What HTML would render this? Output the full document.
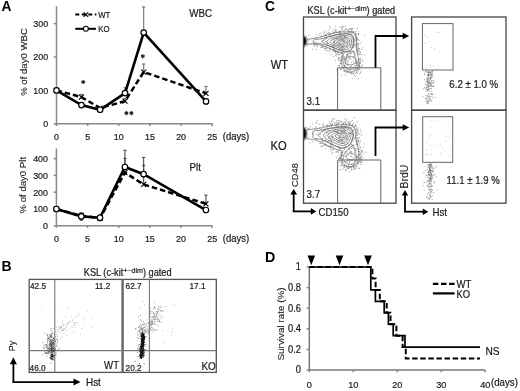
<!DOCTYPE html>
<html><head><meta charset="utf-8"><style>
html,body{margin:0;padding:0;background:#fff;}
svg{display:block;will-change:transform;}
text{font-family:"Liberation Sans",sans-serif;}
</style></head><body>
<svg width="520" height="391" viewBox="0 0 520 391" font-family="Liberation Sans, sans-serif">
<rect width="520" height="391" fill="#fff"/>
<text transform="translate(1.40 10.80)" font-size="13.8" text-anchor="start" font-weight="bold" fill="#000"  >A</text>
<line x1="56.50" y1="6.30" x2="56.50" y2="123.80" stroke="#888888" stroke-width="1.5" />
<line x1="56.50" y1="123.80" x2="212.60" y2="123.80" stroke="#888888" stroke-width="1.5" />
<line x1="53.70" y1="123.80" x2="56.50" y2="123.80" stroke="#888888" stroke-width="1.5" />
<text transform="translate(48.10 127.10) scale(1 1.08)" font-size="8.9" text-anchor="end" font-weight="normal" fill="#1a1a1a" stroke="#1a1a1a" stroke-width="0.2" >0</text>
<line x1="53.70" y1="90.40" x2="56.50" y2="90.40" stroke="#888888" stroke-width="1.5" />
<text transform="translate(48.10 93.70) scale(1 1.08)" font-size="8.9" text-anchor="end" font-weight="normal" fill="#1a1a1a" stroke="#1a1a1a" stroke-width="0.2" >100</text>
<line x1="53.70" y1="57.00" x2="56.50" y2="57.00" stroke="#888888" stroke-width="1.5" />
<text transform="translate(48.10 60.30) scale(1 1.08)" font-size="8.9" text-anchor="end" font-weight="normal" fill="#1a1a1a" stroke="#1a1a1a" stroke-width="0.2" >200</text>
<line x1="53.70" y1="23.60" x2="56.50" y2="23.60" stroke="#888888" stroke-width="1.5" />
<text transform="translate(48.10 26.90) scale(1 1.08)" font-size="8.9" text-anchor="end" font-weight="normal" fill="#1a1a1a" stroke="#1a1a1a" stroke-width="0.2" >300</text>
<line x1="56.50" y1="123.80" x2="56.50" y2="126.00" stroke="#888888" stroke-width="1.5" />
<text transform="translate(56.50 139.90) scale(1 1.08)" font-size="8.9" text-anchor="middle" font-weight="normal" fill="#1a1a1a" stroke="#1a1a1a" stroke-width="0.2" >0</text>
<line x1="87.65" y1="123.80" x2="87.65" y2="126.00" stroke="#888888" stroke-width="1.5" />
<text transform="translate(87.65 139.90) scale(1 1.08)" font-size="8.9" text-anchor="middle" font-weight="normal" fill="#1a1a1a" stroke="#1a1a1a" stroke-width="0.2" >5</text>
<line x1="118.80" y1="123.80" x2="118.80" y2="126.00" stroke="#888888" stroke-width="1.5" />
<text transform="translate(118.80 139.90) scale(1 1.08)" font-size="8.9" text-anchor="middle" font-weight="normal" fill="#1a1a1a" stroke="#1a1a1a" stroke-width="0.2" >10</text>
<line x1="149.95" y1="123.80" x2="149.95" y2="126.00" stroke="#888888" stroke-width="1.5" />
<text transform="translate(149.95 139.90) scale(1 1.08)" font-size="8.9" text-anchor="middle" font-weight="normal" fill="#1a1a1a" stroke="#1a1a1a" stroke-width="0.2" >15</text>
<line x1="181.10" y1="123.80" x2="181.10" y2="126.00" stroke="#888888" stroke-width="1.5" />
<text transform="translate(181.10 139.90) scale(1 1.08)" font-size="8.9" text-anchor="middle" font-weight="normal" fill="#1a1a1a" stroke="#1a1a1a" stroke-width="0.2" >20</text>
<line x1="212.25" y1="123.80" x2="212.25" y2="126.00" stroke="#888888" stroke-width="1.5" />
<text transform="translate(212.25 139.90) scale(1 1.08)" font-size="8.9" text-anchor="middle" font-weight="normal" fill="#1a1a1a" stroke="#1a1a1a" stroke-width="0.2" >25</text>
<text transform="translate(222.80 139.80) scale(1 1.08)" font-size="9.5" text-anchor="start" font-weight="normal" fill="#1a1a1a" stroke="#1a1a1a" stroke-width="0.2" >(days)</text>
<text transform="translate(27.20 62.00) rotate(-90)" font-size="9.6" text-anchor="middle" font-weight="normal" fill="#1a1a1a" stroke="#1a1a1a" stroke-width="0.1" >% of day0 WBC</text>
<text transform="translate(189.30 16.60) scale(1 1.08)" font-size="9.8" text-anchor="start" font-weight="normal" fill="#1a1a1a" stroke="#1a1a1a" stroke-width="0.2" >WBC</text>
<line x1="125.03" y1="93.07" x2="125.03" y2="87.73" stroke="#6e6e6e" stroke-width="1.1" />
<line x1="123.43" y1="87.73" x2="126.63" y2="87.73" stroke="#6e6e6e" stroke-width="1.1" />
<line x1="143.72" y1="32.62" x2="143.72" y2="6.90" stroke="#6e6e6e" stroke-width="1.1" />
<line x1="142.12" y1="6.90" x2="145.32" y2="6.90" stroke="#6e6e6e" stroke-width="1.1" />
<line x1="206.02" y1="101.42" x2="206.02" y2="99.75" stroke="#6e6e6e" stroke-width="1.1" />
<line x1="204.42" y1="99.75" x2="207.62" y2="99.75" stroke="#6e6e6e" stroke-width="1.1" />
<line x1="81.42" y1="105.10" x2="81.42" y2="103.76" stroke="#6e6e6e" stroke-width="1.1" />
<line x1="79.82" y1="103.76" x2="83.02" y2="103.76" stroke="#6e6e6e" stroke-width="1.1" />
<line x1="81.42" y1="97.08" x2="81.42" y2="94.41" stroke="#6e6e6e" stroke-width="1.1" />
<line x1="79.82" y1="94.41" x2="83.02" y2="94.41" stroke="#6e6e6e" stroke-width="1.1" />
<line x1="125.03" y1="101.09" x2="125.03" y2="98.42" stroke="#6e6e6e" stroke-width="1.1" />
<line x1="123.43" y1="98.42" x2="126.63" y2="98.42" stroke="#6e6e6e" stroke-width="1.1" />
<line x1="143.72" y1="72.03" x2="143.72" y2="64.01" stroke="#6e6e6e" stroke-width="1.1" />
<line x1="142.12" y1="64.01" x2="145.32" y2="64.01" stroke="#6e6e6e" stroke-width="1.1" />
<line x1="206.02" y1="93.41" x2="206.02" y2="86.39" stroke="#6e6e6e" stroke-width="1.1" />
<line x1="204.42" y1="86.39" x2="207.62" y2="86.39" stroke="#6e6e6e" stroke-width="1.1" />
<polyline points="56.50,90.40 81.42,97.08 100.11,108.10 125.03,101.09 143.72,72.03 206.02,93.41" fill="none" stroke="#000" stroke-width="2.5" stroke-linejoin="miter" stroke-dasharray="5.5,3"/>
<line x1="54.00" y1="87.90" x2="59.00" y2="92.90" stroke="#000" stroke-width="1.1" />
<line x1="54.00" y1="92.90" x2="59.00" y2="87.90" stroke="#000" stroke-width="1.1" />
<line x1="78.92" y1="94.58" x2="83.92" y2="99.58" stroke="#000" stroke-width="1.1" />
<line x1="78.92" y1="99.58" x2="83.92" y2="94.58" stroke="#000" stroke-width="1.1" />
<line x1="97.61" y1="105.60" x2="102.61" y2="110.60" stroke="#000" stroke-width="1.1" />
<line x1="97.61" y1="110.60" x2="102.61" y2="105.60" stroke="#000" stroke-width="1.1" />
<line x1="122.53" y1="98.59" x2="127.53" y2="103.59" stroke="#000" stroke-width="1.1" />
<line x1="122.53" y1="103.59" x2="127.53" y2="98.59" stroke="#000" stroke-width="1.1" />
<line x1="141.22" y1="69.53" x2="146.22" y2="74.53" stroke="#000" stroke-width="1.1" />
<line x1="141.22" y1="74.53" x2="146.22" y2="69.53" stroke="#000" stroke-width="1.1" />
<line x1="203.52" y1="90.91" x2="208.52" y2="95.91" stroke="#000" stroke-width="1.1" />
<line x1="203.52" y1="95.91" x2="208.52" y2="90.91" stroke="#000" stroke-width="1.1" />
<polyline points="56.50,90.40 81.42,105.10 100.11,109.77 125.03,93.07 143.72,32.62 206.02,101.42" fill="none" stroke="#000" stroke-width="2.6" stroke-linejoin="miter" />
<circle cx="56.50" cy="90.40" r="2.75" fill="#fff" stroke="#000" stroke-width="1.2"/>
<circle cx="81.42" cy="105.10" r="2.75" fill="#fff" stroke="#000" stroke-width="1.2"/>
<circle cx="100.11" cy="109.77" r="2.75" fill="#fff" stroke="#000" stroke-width="1.2"/>
<circle cx="125.03" cy="93.07" r="2.75" fill="#fff" stroke="#000" stroke-width="1.2"/>
<circle cx="143.72" cy="32.62" r="2.75" fill="#fff" stroke="#000" stroke-width="1.2"/>
<circle cx="206.02" cy="101.42" r="2.75" fill="#fff" stroke="#000" stroke-width="1.2"/>
<polyline points="75.30,14.60 96.40,14.60" fill="none" stroke="#000" stroke-width="2" stroke-linejoin="miter" stroke-dasharray="4,2.5"/>
<line x1="83.60" y1="12.30" x2="88.20" y2="16.90" stroke="#000" stroke-width="1.1" />
<line x1="83.60" y1="16.90" x2="88.20" y2="12.30" stroke="#000" stroke-width="1.1" />
<text transform="translate(98.20 17.80) scale(1 1.08)" font-size="7.8" text-anchor="start" font-weight="normal" fill="#1a1a1a" stroke="#1a1a1a" stroke-width="0.2" >WT</text>
<polyline points="75.30,28.80 96.00,28.80" fill="none" stroke="#000" stroke-width="2" stroke-linejoin="miter" />
<circle cx="85.9" cy="28.8" r="2.5" fill="#fff" stroke="#000" stroke-width="1.1"/>
<text transform="translate(98.20 32.00) scale(1 1.08)" font-size="7.8" text-anchor="start" font-weight="normal" fill="#1a1a1a" stroke="#1a1a1a" stroke-width="0.2" >KO</text>
<line x1="83.20" y1="79.90" x2="83.20" y2="84.10" stroke="#222" stroke-width="1.15" />
<line x1="81.38" y1="80.95" x2="85.02" y2="83.05" stroke="#222" stroke-width="1.15" />
<line x1="85.02" y1="80.95" x2="81.38" y2="83.05" stroke="#222" stroke-width="1.15" />
<line x1="142.80" y1="54.20" x2="142.80" y2="58.40" stroke="#222" stroke-width="1.15" />
<line x1="140.98" y1="55.25" x2="144.62" y2="57.35" stroke="#222" stroke-width="1.15" />
<line x1="144.62" y1="55.25" x2="140.98" y2="57.35" stroke="#222" stroke-width="1.15" />
<line x1="126.40" y1="111.00" x2="126.40" y2="115.20" stroke="#222" stroke-width="1.15" />
<line x1="124.58" y1="112.05" x2="128.22" y2="114.15" stroke="#222" stroke-width="1.15" />
<line x1="128.22" y1="112.05" x2="124.58" y2="114.15" stroke="#222" stroke-width="1.15" />
<line x1="131.40" y1="111.00" x2="131.40" y2="115.20" stroke="#222" stroke-width="1.15" />
<line x1="129.58" y1="112.05" x2="133.22" y2="114.15" stroke="#222" stroke-width="1.15" />
<line x1="133.22" y1="112.05" x2="129.58" y2="114.15" stroke="#222" stroke-width="1.15" />
<line x1="56.40" y1="148.50" x2="56.40" y2="225.80" stroke="#888888" stroke-width="1.5" />
<line x1="56.40" y1="225.80" x2="212.50" y2="225.80" stroke="#888888" stroke-width="1.5" />
<line x1="53.60" y1="225.80" x2="56.40" y2="225.80" stroke="#888888" stroke-width="1.5" />
<text transform="translate(48.00 229.10) scale(1 1.08)" font-size="8.9" text-anchor="end" font-weight="normal" fill="#1a1a1a" stroke="#1a1a1a" stroke-width="0.2" >0</text>
<line x1="53.60" y1="209.00" x2="56.40" y2="209.00" stroke="#888888" stroke-width="1.5" />
<text transform="translate(48.00 212.30) scale(1 1.08)" font-size="8.9" text-anchor="end" font-weight="normal" fill="#1a1a1a" stroke="#1a1a1a" stroke-width="0.2" >100</text>
<line x1="53.60" y1="192.20" x2="56.40" y2="192.20" stroke="#888888" stroke-width="1.5" />
<text transform="translate(48.00 195.50) scale(1 1.08)" font-size="8.9" text-anchor="end" font-weight="normal" fill="#1a1a1a" stroke="#1a1a1a" stroke-width="0.2" >200</text>
<line x1="53.60" y1="175.40" x2="56.40" y2="175.40" stroke="#888888" stroke-width="1.5" />
<text transform="translate(48.00 178.70) scale(1 1.08)" font-size="8.9" text-anchor="end" font-weight="normal" fill="#1a1a1a" stroke="#1a1a1a" stroke-width="0.2" >300</text>
<line x1="53.60" y1="158.60" x2="56.40" y2="158.60" stroke="#888888" stroke-width="1.5" />
<text transform="translate(48.00 161.90) scale(1 1.08)" font-size="8.9" text-anchor="end" font-weight="normal" fill="#1a1a1a" stroke="#1a1a1a" stroke-width="0.2" >400</text>
<line x1="56.40" y1="225.80" x2="56.40" y2="228.00" stroke="#888888" stroke-width="1.5" />
<text transform="translate(56.40 241.90) scale(1 1.08)" font-size="8.9" text-anchor="middle" font-weight="normal" fill="#1a1a1a" stroke="#1a1a1a" stroke-width="0.2" >0</text>
<line x1="87.55" y1="225.80" x2="87.55" y2="228.00" stroke="#888888" stroke-width="1.5" />
<text transform="translate(87.55 241.90) scale(1 1.08)" font-size="8.9" text-anchor="middle" font-weight="normal" fill="#1a1a1a" stroke="#1a1a1a" stroke-width="0.2" >5</text>
<line x1="118.70" y1="225.80" x2="118.70" y2="228.00" stroke="#888888" stroke-width="1.5" />
<text transform="translate(118.70 241.90) scale(1 1.08)" font-size="8.9" text-anchor="middle" font-weight="normal" fill="#1a1a1a" stroke="#1a1a1a" stroke-width="0.2" >10</text>
<line x1="149.85" y1="225.80" x2="149.85" y2="228.00" stroke="#888888" stroke-width="1.5" />
<text transform="translate(149.85 241.90) scale(1 1.08)" font-size="8.9" text-anchor="middle" font-weight="normal" fill="#1a1a1a" stroke="#1a1a1a" stroke-width="0.2" >15</text>
<line x1="181.00" y1="225.80" x2="181.00" y2="228.00" stroke="#888888" stroke-width="1.5" />
<text transform="translate(181.00 241.90) scale(1 1.08)" font-size="8.9" text-anchor="middle" font-weight="normal" fill="#1a1a1a" stroke="#1a1a1a" stroke-width="0.2" >20</text>
<line x1="212.15" y1="225.80" x2="212.15" y2="228.00" stroke="#888888" stroke-width="1.5" />
<text transform="translate(212.15 241.90) scale(1 1.08)" font-size="8.9" text-anchor="middle" font-weight="normal" fill="#1a1a1a" stroke="#1a1a1a" stroke-width="0.2" >25</text>
<text transform="translate(222.80 241.80) scale(1 1.08)" font-size="9.5" text-anchor="start" font-weight="normal" fill="#1a1a1a" stroke="#1a1a1a" stroke-width="0.2" >(days)</text>
<text transform="translate(25.90 185.20) rotate(-90)" font-size="9.6" text-anchor="middle" font-weight="normal" fill="#1a1a1a" stroke="#1a1a1a" stroke-width="0.1" >% of day0 Plt</text>
<text transform="translate(189.50 170.60) scale(1 1.08)" font-size="9.8" text-anchor="start" font-weight="normal" fill="#1a1a1a" stroke="#1a1a1a" stroke-width="0.2" >Plt</text>
<line x1="81.32" y1="216.39" x2="81.32" y2="212.70" stroke="#4a4a4a" stroke-width="1.1" />
<line x1="79.72" y1="212.70" x2="82.92" y2="212.70" stroke="#4a4a4a" stroke-width="1.1" />
<line x1="100.01" y1="217.74" x2="100.01" y2="214.88" stroke="#4a4a4a" stroke-width="1.1" />
<line x1="98.41" y1="214.88" x2="101.61" y2="214.88" stroke="#4a4a4a" stroke-width="1.1" />
<line x1="81.32" y1="216.39" x2="81.32" y2="220.26" stroke="#4a4a4a" stroke-width="1.1" />
<line x1="79.72" y1="220.26" x2="82.92" y2="220.26" stroke="#4a4a4a" stroke-width="1.1" />
<line x1="100.01" y1="217.74" x2="100.01" y2="220.76" stroke="#4a4a4a" stroke-width="1.1" />
<line x1="98.41" y1="220.76" x2="101.61" y2="220.76" stroke="#4a4a4a" stroke-width="1.1" />
<line x1="124.93" y1="167.00" x2="124.93" y2="150.20" stroke="#4a4a4a" stroke-width="1.1" />
<line x1="123.33" y1="150.20" x2="126.53" y2="150.20" stroke="#4a4a4a" stroke-width="1.1" />
<line x1="143.62" y1="174.22" x2="143.62" y2="157.42" stroke="#4a4a4a" stroke-width="1.1" />
<line x1="142.02" y1="157.42" x2="145.22" y2="157.42" stroke="#4a4a4a" stroke-width="1.1" />
<line x1="81.32" y1="215.72" x2="81.32" y2="214.04" stroke="#4a4a4a" stroke-width="1.1" />
<line x1="79.72" y1="214.04" x2="82.92" y2="214.04" stroke="#4a4a4a" stroke-width="1.1" />
<line x1="100.01" y1="218.24" x2="100.01" y2="216.56" stroke="#4a4a4a" stroke-width="1.1" />
<line x1="98.41" y1="216.56" x2="101.61" y2="216.56" stroke="#4a4a4a" stroke-width="1.1" />
<line x1="124.93" y1="172.54" x2="124.93" y2="158.43" stroke="#4a4a4a" stroke-width="1.1" />
<line x1="123.33" y1="158.43" x2="126.53" y2="158.43" stroke="#4a4a4a" stroke-width="1.1" />
<line x1="143.62" y1="184.47" x2="143.62" y2="165.32" stroke="#4a4a4a" stroke-width="1.1" />
<line x1="142.02" y1="165.32" x2="145.22" y2="165.32" stroke="#4a4a4a" stroke-width="1.1" />
<line x1="205.92" y1="203.79" x2="205.92" y2="195.06" stroke="#4a4a4a" stroke-width="1.1" />
<line x1="204.32" y1="195.06" x2="207.52" y2="195.06" stroke="#4a4a4a" stroke-width="1.1" />
<polyline points="56.40,209.00 81.32,215.72 100.01,218.24 124.93,172.54 143.62,184.47 205.92,203.79" fill="none" stroke="#000" stroke-width="2.5" stroke-linejoin="miter" stroke-dasharray="5.5,3"/>
<line x1="53.90" y1="206.50" x2="58.90" y2="211.50" stroke="#000" stroke-width="1.1" />
<line x1="53.90" y1="211.50" x2="58.90" y2="206.50" stroke="#000" stroke-width="1.1" />
<line x1="78.82" y1="213.22" x2="83.82" y2="218.22" stroke="#000" stroke-width="1.1" />
<line x1="78.82" y1="218.22" x2="83.82" y2="213.22" stroke="#000" stroke-width="1.1" />
<line x1="97.51" y1="215.74" x2="102.51" y2="220.74" stroke="#000" stroke-width="1.1" />
<line x1="97.51" y1="220.74" x2="102.51" y2="215.74" stroke="#000" stroke-width="1.1" />
<line x1="122.43" y1="170.04" x2="127.43" y2="175.04" stroke="#000" stroke-width="1.1" />
<line x1="122.43" y1="175.04" x2="127.43" y2="170.04" stroke="#000" stroke-width="1.1" />
<line x1="141.12" y1="181.97" x2="146.12" y2="186.97" stroke="#000" stroke-width="1.1" />
<line x1="141.12" y1="186.97" x2="146.12" y2="181.97" stroke="#000" stroke-width="1.1" />
<line x1="203.42" y1="201.29" x2="208.42" y2="206.29" stroke="#000" stroke-width="1.1" />
<line x1="203.42" y1="206.29" x2="208.42" y2="201.29" stroke="#000" stroke-width="1.1" />
<polyline points="56.40,209.00 81.32,216.39 100.01,217.74 124.93,167.00 143.62,174.22 205.92,210.01" fill="none" stroke="#000" stroke-width="2.6" stroke-linejoin="miter" />
<circle cx="56.40" cy="209.00" r="2.75" fill="#fff" stroke="#000" stroke-width="1.2"/>
<circle cx="81.32" cy="216.39" r="2.75" fill="#fff" stroke="#000" stroke-width="1.2"/>
<circle cx="100.01" cy="217.74" r="2.75" fill="#fff" stroke="#000" stroke-width="1.2"/>
<circle cx="124.93" cy="167.00" r="2.75" fill="#fff" stroke="#000" stroke-width="1.2"/>
<circle cx="143.62" cy="174.22" r="2.75" fill="#fff" stroke="#000" stroke-width="1.2"/>
<circle cx="205.92" cy="210.01" r="2.75" fill="#fff" stroke="#000" stroke-width="1.2"/>
<text transform="translate(1.40 271.00)" font-size="14.0" text-anchor="start" font-weight="bold" fill="#000"  >B</text>
<text transform="translate(83.8 276.4) scale(1 1.1)" font-size="9.2" fill="#1a1a1a" stroke="#1a1a1a" stroke-width="0.2">KSL (c-kit<tspan font-size="7.1" dy="-3.4">+~dim</tspan><tspan dy="3.4">) gated</tspan></text>
<rect x="29.20" y="279.40" width="187.10" height="93.00" fill="none" stroke="#555" stroke-width="1.3"/>
<line x1="122.60" y1="279.40" x2="122.60" y2="372.40" stroke="#666" stroke-width="2.4" />
<line x1="54.80" y1="279.40" x2="54.80" y2="372.40" stroke="#777" stroke-width="1.1" />
<line x1="29.20" y1="350.60" x2="121.50" y2="350.60" stroke="#777" stroke-width="1.1" />
<line x1="149.40" y1="279.40" x2="149.40" y2="372.40" stroke="#777" stroke-width="1.1" />
<line x1="124.00" y1="350.60" x2="216.30" y2="350.60" stroke="#777" stroke-width="1.1" />
<text transform="translate(29.90 289.40) scale(1 1.08)" font-size="8.3" text-anchor="start" font-weight="normal" fill="#1a1a1a" stroke="#1a1a1a" stroke-width="0.2" >42.5</text>
<text transform="translate(110.40 289.40) scale(1 1.08)" font-size="8.3" text-anchor="end" font-weight="normal" fill="#1a1a1a" stroke="#1a1a1a" stroke-width="0.2" >11.2</text>
<text transform="translate(29.60 370.60) scale(1 1.08)" font-size="8.3" text-anchor="start" font-weight="normal" fill="#1a1a1a" stroke="#1a1a1a" stroke-width="0.2" >46.0</text>
<text transform="translate(119.00 369.10) scale(1 1.08)" font-size="9.6" text-anchor="end" font-weight="normal" fill="#1a1a1a" stroke="#1a1a1a" stroke-width="0.2" >WT</text>
<text transform="translate(125.60 289.40) scale(1 1.08)" font-size="8.3" text-anchor="start" font-weight="normal" fill="#1a1a1a" stroke="#1a1a1a" stroke-width="0.2" >62.7</text>
<text transform="translate(205.60 289.40) scale(1 1.08)" font-size="8.3" text-anchor="end" font-weight="normal" fill="#1a1a1a" stroke="#1a1a1a" stroke-width="0.2" >17.1</text>
<text transform="translate(125.60 370.60) scale(1 1.08)" font-size="8.3" text-anchor="start" font-weight="normal" fill="#1a1a1a" stroke="#1a1a1a" stroke-width="0.2" >20.2</text>
<text transform="translate(215.80 369.80) scale(1 1.08)" font-size="9.9" text-anchor="end" font-weight="normal" fill="#1a1a1a" stroke="#1a1a1a" stroke-width="0.2" >KO</text>
<line x1="13.40" y1="382.10" x2="13.40" y2="363.80" stroke="#000" stroke-width="1.8" />
<line x1="12.50" y1="382.10" x2="74.00" y2="382.10" stroke="#000" stroke-width="1.8" />
<polygon points="13.40,357.30 9.90,364.30 16.90,364.30" fill="#000"/>
<polygon points="80.50,382.10 73.50,378.60 73.50,385.60" fill="#000"/>
<text transform="translate(86.00 386.00) scale(1 1.08)" font-size="9.9" text-anchor="start" font-weight="normal" fill="#1a1a1a" stroke="#1a1a1a" stroke-width="0.2" >Hst</text>
<text transform="translate(15.20 346.00) rotate(-90)" font-size="8.8" text-anchor="middle" font-weight="normal" fill="#1a1a1a" stroke="#1a1a1a" stroke-width="0.1" >Py</text>
<text transform="translate(264.90 11.30)" font-size="13.8" text-anchor="start" font-weight="bold" fill="#000"  >C</text>
<text transform="translate(307.4 14.3) scale(1 1.1)" font-size="9.2" fill="#1a1a1a" stroke="#1a1a1a" stroke-width="0.2">KSL (c-kit<tspan font-size="7.1" dy="-3.4">+~dim</tspan><tspan dy="3.4">) gated</tspan></text>
<rect x="303.50" y="17.00" width="92.50" height="93.20" fill="none" stroke="#444" stroke-width="1.3"/>
<rect x="303.50" y="110.20" width="92.50" height="93.00" fill="none" stroke="#444" stroke-width="1.3"/>
<rect x="411.60" y="17.00" width="94.40" height="93.20" fill="none" stroke="#444" stroke-width="1.3"/>
<rect x="411.60" y="110.20" width="94.40" height="93.00" fill="none" stroke="#444" stroke-width="1.3"/>
<polyline points="337.6,110.2 337.6,67.8 380.8,67.8 380.8,110.2" fill="none" stroke="#666" stroke-width="1"/>
<polyline points="337.6,203.2 337.6,160.0 380.8,160.0 380.8,203.2" fill="none" stroke="#666" stroke-width="1"/>
<rect x="422.40" y="23.60" width="30.60" height="46.40" fill="none" stroke="#666" stroke-width="1"/>
<rect x="422.70" y="116.70" width="30.00" height="45.60" fill="none" stroke="#666" stroke-width="1"/>
<polyline points="375.50,67.80 375.50,36.00 403.20,36.00" fill="none" stroke="#000" stroke-width="1.8"/>
<polygon points="409.20,36.00 402.70,32.70 402.70,39.30" fill="#000"/>
<polyline points="375.50,156.00 375.50,127.50 403.20,127.50" fill="none" stroke="#000" stroke-width="1.8"/>
<polygon points="409.20,127.50 402.70,124.20 402.70,130.80" fill="#000"/>
<text transform="translate(306.60 105.40) scale(1 1.08)" font-size="9.7" text-anchor="start" font-weight="normal" fill="#1a1a1a" stroke="#1a1a1a" stroke-width="0.2" >3.1</text>
<text transform="translate(306.60 198.00) scale(1 1.08)" font-size="9.7" text-anchor="start" font-weight="normal" fill="#1a1a1a" stroke="#1a1a1a" stroke-width="0.2" >3.7</text>
<text transform="translate(270.80 68.60) scale(1 1.08)" font-size="11.1" text-anchor="start" font-weight="normal" fill="#1a1a1a" stroke="#1a1a1a" stroke-width="0.2" >WT</text>
<text transform="translate(270.60 149.60) scale(1 1.08)" font-size="11.2" text-anchor="start" font-weight="normal" fill="#1a1a1a" stroke="#1a1a1a" stroke-width="0.2" >KO</text>
<text transform="translate(449.30 88.20) scale(1 1.08)" font-size="9.7" text-anchor="start" font-weight="normal" fill="#1a1a1a" stroke="#1a1a1a" stroke-width="0.2" >6.2 ± 1.0 %</text>
<text transform="translate(446.60 183.80) scale(1 1.08)" font-size="9.6" text-anchor="start" font-weight="normal" fill="#1a1a1a" stroke="#1a1a1a" stroke-width="0.2" >11.1 ± 1.9 %</text>
<line x1="293.70" y1="211.40" x2="293.70" y2="194.00" stroke="#000" stroke-width="1.8" />
<line x1="292.80" y1="211.40" x2="311.30" y2="211.40" stroke="#000" stroke-width="1.8" />
<polygon points="293.70,189.00 290.30,194.50 297.10,194.50" fill="#000"/>
<polygon points="316.30,211.40 310.80,208.00 310.80,214.80" fill="#000"/>
<text transform="translate(318.60 215.60) scale(1 1.08)" font-size="9.6" text-anchor="start" font-weight="normal" fill="#1a1a1a" stroke="#1a1a1a" stroke-width="0.2" >CD150</text>
<text transform="translate(297.60 175.00) rotate(-90)" font-size="9.3" text-anchor="middle" font-weight="normal" fill="#1a1a1a" stroke="#1a1a1a" stroke-width="0.1" >CD48</text>
<line x1="405.00" y1="211.70" x2="405.00" y2="195.00" stroke="#000" stroke-width="1.8" />
<line x1="404.10" y1="211.70" x2="423.30" y2="211.70" stroke="#000" stroke-width="1.8" />
<polygon points="405.00,190.00 401.80,195.50 408.20,195.50" fill="#000"/>
<polygon points="428.30,211.70 422.80,208.50 422.80,214.90" fill="#000"/>
<text transform="translate(432.50 215.60) scale(1 1.08)" font-size="9.65" text-anchor="start" font-weight="normal" fill="#1a1a1a" stroke="#1a1a1a" stroke-width="0.2" >Hst</text>
<text transform="translate(407.60 176.60) rotate(-90)" font-size="10.4" text-anchor="middle" font-weight="normal" fill="#1a1a1a" stroke="#1a1a1a" stroke-width="0.1" >BrdU</text>
<text transform="translate(264.90 261.70)" font-size="14.3" text-anchor="start" font-weight="bold" fill="#000"  >D</text>
<line x1="309.30" y1="266.00" x2="309.30" y2="370.00" stroke="#777" stroke-width="1.5" />
<line x1="309.30" y1="370.00" x2="485.00" y2="370.00" stroke="#777" stroke-width="1.5" />
<line x1="306.60" y1="370.00" x2="309.30" y2="370.00" stroke="#888888" stroke-width="1.5" />
<text transform="translate(301.00 373.40) scale(1 1.08)" font-size="9.3" text-anchor="end" font-weight="normal" fill="#1a1a1a" stroke="#1a1a1a" stroke-width="0.2" >0</text>
<line x1="306.60" y1="349.40" x2="309.30" y2="349.40" stroke="#888888" stroke-width="1.5" />
<text transform="translate(301.00 352.80) scale(1 1.08)" font-size="9.3" text-anchor="end" font-weight="normal" fill="#1a1a1a" stroke="#1a1a1a" stroke-width="0.2" >0.2</text>
<line x1="306.60" y1="328.80" x2="309.30" y2="328.80" stroke="#888888" stroke-width="1.5" />
<text transform="translate(301.00 332.20) scale(1 1.08)" font-size="9.3" text-anchor="end" font-weight="normal" fill="#1a1a1a" stroke="#1a1a1a" stroke-width="0.2" >0.4</text>
<line x1="306.60" y1="308.20" x2="309.30" y2="308.20" stroke="#888888" stroke-width="1.5" />
<text transform="translate(301.00 311.60) scale(1 1.08)" font-size="9.3" text-anchor="end" font-weight="normal" fill="#1a1a1a" stroke="#1a1a1a" stroke-width="0.2" >0.6</text>
<line x1="306.60" y1="287.60" x2="309.30" y2="287.60" stroke="#888888" stroke-width="1.5" />
<text transform="translate(301.00 291.00) scale(1 1.08)" font-size="9.3" text-anchor="end" font-weight="normal" fill="#1a1a1a" stroke="#1a1a1a" stroke-width="0.2" >0.8</text>
<line x1="306.60" y1="267.00" x2="309.30" y2="267.00" stroke="#888888" stroke-width="1.5" />
<text transform="translate(301.00 270.40) scale(1 1.08)" font-size="9.3" text-anchor="end" font-weight="normal" fill="#1a1a1a" stroke="#1a1a1a" stroke-width="0.2" >1</text>
<line x1="309.30" y1="370.00" x2="309.30" y2="372.30" stroke="#888888" stroke-width="1.5" />
<text transform="translate(309.30 388.00) scale(1 1.08)" font-size="9.2" text-anchor="middle" font-weight="normal" fill="#1a1a1a" stroke="#1a1a1a" stroke-width="0.2" >0</text>
<line x1="353.30" y1="370.00" x2="353.30" y2="372.30" stroke="#888888" stroke-width="1.5" />
<text transform="translate(353.30 388.00) scale(1 1.08)" font-size="9.2" text-anchor="middle" font-weight="normal" fill="#1a1a1a" stroke="#1a1a1a" stroke-width="0.2" >10</text>
<line x1="397.30" y1="370.00" x2="397.30" y2="372.30" stroke="#888888" stroke-width="1.5" />
<text transform="translate(397.30 388.00) scale(1 1.08)" font-size="9.2" text-anchor="middle" font-weight="normal" fill="#1a1a1a" stroke="#1a1a1a" stroke-width="0.2" >20</text>
<line x1="441.30" y1="370.00" x2="441.30" y2="372.30" stroke="#888888" stroke-width="1.5" />
<text transform="translate(441.30 388.00) scale(1 1.08)" font-size="9.2" text-anchor="middle" font-weight="normal" fill="#1a1a1a" stroke="#1a1a1a" stroke-width="0.2" >30</text>
<line x1="485.30" y1="370.00" x2="485.30" y2="372.30" stroke="#888888" stroke-width="1.5" />
<text transform="translate(485.30 388.00) scale(1 1.08)" font-size="9.2" text-anchor="middle" font-weight="normal" fill="#1a1a1a" stroke="#1a1a1a" stroke-width="0.2" >40</text>
<text transform="translate(491.00 386.00) scale(1 1.08)" font-size="9.7" text-anchor="start" font-weight="normal" fill="#1a1a1a" stroke="#1a1a1a" stroke-width="0.2" >(days)</text>
<text transform="translate(283.60 324.00) rotate(-90)" font-size="9.9" text-anchor="middle" font-weight="normal" fill="#1a1a1a" stroke="#1a1a1a" stroke-width="0.1" >Survival rate (%)</text>
<polygon points="307.50,255.6 315.10,255.6 311.30,265.2" fill="#000"/>
<polygon points="335.70,255.6 343.30,255.6 339.50,265.2" fill="#000"/>
<polygon points="364.20,255.6 371.80,255.6 368.00,265.2" fill="#000"/>
<polyline points="309.30,267.00 372.40,267.00 372.40,278.44 375.60,278.44 375.60,289.89 379.80,289.89 379.80,301.33 386.70,301.33 386.70,312.78 390.50,312.78 390.50,324.22 396.40,324.22 396.40,335.67 402.60,335.67 402.60,347.11 405.80,347.11 405.80,358.56 480.00,358.56" fill="none" stroke="#000" stroke-width="2" stroke-linejoin="miter" stroke-dasharray="5.5,2.6"/>
<polyline points="309.30,267.00 370.80,267.00 370.80,289.89 375.40,289.89 375.40,301.33 384.20,301.33 384.20,312.78 388.40,312.78 388.40,324.22 393.20,324.22 393.20,335.67 405.00,335.67 405.00,347.11 480.00,347.11" fill="none" stroke="#000" stroke-width="1.7" stroke-linejoin="miter" />
<polyline points="432.90,283.80 454.60,283.80" fill="none" stroke="#000" stroke-width="2.2" stroke-linejoin="miter" stroke-dasharray="5.5,2.6"/>
<polyline points="432.90,293.40 454.60,293.40" fill="none" stroke="#000" stroke-width="2.2" stroke-linejoin="miter" />
<text transform="translate(456.50 287.60) scale(1 1.08)" font-size="9.5" text-anchor="start" font-weight="normal" fill="#1a1a1a" stroke="#1a1a1a" stroke-width="0.2" >WT</text>
<text transform="translate(456.50 297.60) scale(1 1.08)" font-size="9.4" text-anchor="start" font-weight="normal" fill="#1a1a1a" stroke="#1a1a1a" stroke-width="0.2" >KO</text>
<text transform="translate(485.50 355.00) scale(1 1.08)" font-size="10.2" text-anchor="start" font-weight="normal" fill="#1a1a1a" stroke="#1a1a1a" stroke-width="0.2" >NS</text>
<defs><clipPath id="cW"><rect x="304.2" y="17.7" width="91.1" height="91.8"/></clipPath><clipPath id="cK"><rect x="304.2" y="110.9" width="91.1" height="91.6"/></clipPath></defs>
<g clip-path="url(#cW)">
<g fill="#8c8c8c" fill-opacity="1.0"><rect x="344.2" y="37.0" width="0.9" height="0.9"/><rect x="357.6" y="63.9" width="0.9" height="0.9"/><rect x="341.1" y="38.4" width="0.9" height="0.9"/><rect x="356.2" y="43.1" width="0.9" height="0.9"/><rect x="342.0" y="56.0" width="0.9" height="0.9"/><rect x="341.7" y="67.1" width="0.9" height="0.9"/><rect x="346.9" y="65.1" width="0.9" height="0.9"/><rect x="345.0" y="28.5" width="0.9" height="0.9"/><rect x="357.6" y="71.3" width="0.9" height="0.9"/><rect x="358.8" y="67.0" width="0.9" height="0.9"/><rect x="333.5" y="41.7" width="0.9" height="0.9"/><rect x="338.6" y="57.0" width="0.9" height="0.9"/><rect x="314.8" y="37.5" width="0.9" height="0.9"/><rect x="333.3" y="56.0" width="0.9" height="0.9"/><rect x="348.7" y="57.8" width="0.9" height="0.9"/><rect x="338.7" y="64.9" width="0.9" height="0.9"/><rect x="316.6" y="37.2" width="0.9" height="0.9"/><rect x="361.0" y="54.1" width="0.9" height="0.9"/><rect x="346.5" y="52.3" width="0.9" height="0.9"/><rect x="350.1" y="34.1" width="0.9" height="0.9"/><rect x="347.7" y="29.0" width="0.9" height="0.9"/><rect x="338.5" y="44.4" width="0.9" height="0.9"/><rect x="330.4" y="33.0" width="0.9" height="0.9"/><rect x="345.3" y="73.1" width="0.9" height="0.9"/><rect x="342.0" y="49.5" width="0.9" height="0.9"/><rect x="324.2" y="34.9" width="0.9" height="0.9"/><rect x="348.3" y="71.7" width="0.9" height="0.9"/><rect x="340.4" y="59.9" width="0.9" height="0.9"/><rect x="356.5" y="39.6" width="0.9" height="0.9"/><rect x="334.7" y="60.4" width="0.9" height="0.9"/><rect x="334.9" y="50.9" width="0.9" height="0.9"/><rect x="314.1" y="42.1" width="0.9" height="0.9"/><rect x="356.7" y="38.3" width="0.9" height="0.9"/><rect x="351.8" y="73.2" width="0.9" height="0.9"/><rect x="330.1" y="27.6" width="0.9" height="0.9"/><rect x="362.4" y="60.9" width="0.9" height="0.9"/><rect x="354.1" y="38.9" width="0.9" height="0.9"/><rect x="355.8" y="63.1" width="0.9" height="0.9"/><rect x="338.3" y="54.3" width="0.9" height="0.9"/><rect x="342.6" y="52.5" width="0.9" height="0.9"/><rect x="355.4" y="62.8" width="0.9" height="0.9"/><rect x="333.7" y="38.4" width="0.9" height="0.9"/><rect x="341.8" y="58.9" width="0.9" height="0.9"/><rect x="356.9" y="27.8" width="0.9" height="0.9"/><rect x="340.7" y="58.6" width="0.9" height="0.9"/><rect x="325.2" y="46.2" width="0.9" height="0.9"/><rect x="329.7" y="34.7" width="0.9" height="0.9"/><rect x="355.9" y="45.5" width="0.9" height="0.9"/><rect x="358.4" y="58.8" width="0.9" height="0.9"/><rect x="359.3" y="73.3" width="0.9" height="0.9"/><rect x="355.8" y="69.7" width="0.9" height="0.9"/><rect x="353.2" y="42.3" width="0.9" height="0.9"/><rect x="358.4" y="59.0" width="0.9" height="0.9"/><rect x="346.8" y="71.8" width="0.9" height="0.9"/><rect x="339.2" y="54.4" width="0.9" height="0.9"/><rect x="335.6" y="53.6" width="0.9" height="0.9"/><rect x="356.8" y="62.5" width="0.9" height="0.9"/><rect x="359.6" y="42.8" width="0.9" height="0.9"/><rect x="335.6" y="37.7" width="0.9" height="0.9"/><rect x="352.5" y="37.6" width="0.9" height="0.9"/><rect x="339.5" y="69.5" width="0.9" height="0.9"/><rect x="361.5" y="65.8" width="0.9" height="0.9"/><rect x="339.4" y="37.3" width="0.9" height="0.9"/><rect x="357.9" y="68.4" width="0.9" height="0.9"/><rect x="357.2" y="50.1" width="0.9" height="0.9"/><rect x="320.5" y="43.0" width="0.9" height="0.9"/><rect x="334.3" y="41.3" width="0.9" height="0.9"/><rect x="334.7" y="30.8" width="0.9" height="0.9"/><rect x="342.2" y="48.8" width="0.9" height="0.9"/><rect x="339.8" y="34.6" width="0.9" height="0.9"/><rect x="328.9" y="32.3" width="0.9" height="0.9"/><rect x="350.1" y="27.7" width="0.9" height="0.9"/><rect x="324.7" y="48.7" width="0.9" height="0.9"/><rect x="358.7" y="66.0" width="0.9" height="0.9"/><rect x="313.0" y="44.4" width="0.9" height="0.9"/><rect x="328.3" y="33.4" width="0.9" height="0.9"/><rect x="359.1" y="68.9" width="0.9" height="0.9"/><rect x="357.3" y="51.6" width="0.9" height="0.9"/><rect x="356.3" y="49.4" width="0.9" height="0.9"/><rect x="347.3" y="60.7" width="0.9" height="0.9"/><rect x="355.9" y="38.7" width="0.9" height="0.9"/><rect x="362.1" y="64.5" width="0.9" height="0.9"/><rect x="360.4" y="58.4" width="0.9" height="0.9"/><rect x="333.1" y="49.6" width="0.9" height="0.9"/><rect x="325.3" y="47.9" width="0.9" height="0.9"/><rect x="308.1" y="34.7" width="0.9" height="0.9"/><rect x="326.0" y="31.6" width="0.9" height="0.9"/><rect x="335.7" y="69.5" width="0.9" height="0.9"/><rect x="322.0" y="36.3" width="0.9" height="0.9"/><rect x="349.0" y="44.5" width="0.9" height="0.9"/><rect x="341.9" y="39.4" width="0.9" height="0.9"/><rect x="323.5" y="40.4" width="0.9" height="0.9"/><rect x="342.9" y="50.7" width="0.9" height="0.9"/><rect x="316.6" y="37.1" width="0.9" height="0.9"/><rect x="326.5" y="48.0" width="0.9" height="0.9"/><rect x="356.4" y="46.2" width="0.9" height="0.9"/><rect x="320.5" y="47.0" width="0.9" height="0.9"/><rect x="325.3" y="34.1" width="0.9" height="0.9"/><rect x="352.8" y="60.3" width="0.9" height="0.9"/><rect x="344.9" y="28.7" width="0.9" height="0.9"/><rect x="355.0" y="73.1" width="0.9" height="0.9"/><rect x="358.2" y="66.5" width="0.9" height="0.9"/><rect x="334.9" y="51.6" width="0.9" height="0.9"/><rect x="360.1" y="63.1" width="0.9" height="0.9"/><rect x="340.4" y="59.9" width="0.9" height="0.9"/><rect x="357.7" y="53.8" width="0.9" height="0.9"/><rect x="356.1" y="42.6" width="0.9" height="0.9"/><rect x="346.1" y="28.9" width="0.9" height="0.9"/><rect x="346.0" y="55.6" width="0.9" height="0.9"/><rect x="338.2" y="41.7" width="0.9" height="0.9"/><rect x="340.1" y="62.2" width="0.9" height="0.9"/><rect x="360.0" y="52.0" width="0.9" height="0.9"/><rect x="340.3" y="44.9" width="0.9" height="0.9"/><rect x="308.1" y="39.7" width="0.9" height="0.9"/><rect x="326.8" y="43.7" width="0.9" height="0.9"/><rect x="341.4" y="57.2" width="0.9" height="0.9"/><rect x="334.2" y="32.0" width="0.9" height="0.9"/><rect x="344.2" y="52.5" width="0.9" height="0.9"/><rect x="358.2" y="57.9" width="0.9" height="0.9"/><rect x="330.0" y="34.1" width="0.9" height="0.9"/><rect x="349.8" y="57.7" width="0.9" height="0.9"/><rect x="361.2" y="41.5" width="0.9" height="0.9"/><rect x="344.9" y="25.9" width="0.9" height="0.9"/><rect x="341.9" y="66.7" width="0.9" height="0.9"/><rect x="356.7" y="38.0" width="0.9" height="0.9"/><rect x="335.0" y="52.1" width="0.9" height="0.9"/><rect x="356.6" y="33.6" width="0.9" height="0.9"/><rect x="343.6" y="70.7" width="0.9" height="0.9"/><rect x="342.5" y="40.6" width="0.9" height="0.9"/><rect x="344.8" y="70.5" width="0.9" height="0.9"/><rect x="340.5" y="52.4" width="0.9" height="0.9"/><rect x="355.5" y="35.5" width="0.9" height="0.9"/><rect x="323.9" y="37.1" width="0.9" height="0.9"/><rect x="350.5" y="44.3" width="0.9" height="0.9"/><rect x="341.6" y="47.1" width="0.9" height="0.9"/><rect x="333.6" y="28.7" width="0.9" height="0.9"/><rect x="357.8" y="50.5" width="0.9" height="0.9"/><rect x="305.9" y="37.1" width="0.9" height="0.9"/><rect x="322.0" y="46.2" width="0.9" height="0.9"/><rect x="317.0" y="46.2" width="0.9" height="0.9"/><rect x="342.5" y="56.9" width="0.9" height="0.9"/><rect x="339.0" y="31.2" width="0.9" height="0.9"/><rect x="329.1" y="34.0" width="0.9" height="0.9"/><rect x="344.2" y="67.1" width="0.9" height="0.9"/><rect x="351.5" y="46.3" width="0.9" height="0.9"/><rect x="357.1" y="65.1" width="0.9" height="0.9"/><rect x="358.3" y="49.6" width="0.9" height="0.9"/><rect x="341.4" y="26.3" width="0.9" height="0.9"/><rect x="324.1" y="48.2" width="0.9" height="0.9"/><rect x="340.4" y="61.1" width="0.9" height="0.9"/><rect x="322.9" y="46.4" width="0.9" height="0.9"/><rect x="328.8" y="35.9" width="0.9" height="0.9"/><rect x="321.6" y="40.6" width="0.9" height="0.9"/><rect x="350.9" y="65.9" width="0.9" height="0.9"/><rect x="335.9" y="37.1" width="0.9" height="0.9"/><rect x="353.0" y="73.8" width="0.9" height="0.9"/><rect x="341.1" y="58.6" width="0.9" height="0.9"/><rect x="337.6" y="51.8" width="0.9" height="0.9"/><rect x="354.6" y="53.7" width="0.9" height="0.9"/><rect x="342.0" y="56.0" width="0.9" height="0.9"/><rect x="344.1" y="36.0" width="0.9" height="0.9"/><rect x="323.7" y="30.4" width="0.9" height="0.9"/><rect x="350.3" y="36.5" width="0.9" height="0.9"/><rect x="323.9" y="35.2" width="0.9" height="0.9"/><rect x="355.9" y="44.8" width="0.9" height="0.9"/><rect x="338.0" y="30.7" width="0.9" height="0.9"/><rect x="358.9" y="61.9" width="0.9" height="0.9"/><rect x="343.5" y="65.7" width="0.9" height="0.9"/><rect x="341.3" y="56.2" width="0.9" height="0.9"/><rect x="346.6" y="53.9" width="0.9" height="0.9"/><rect x="353.7" y="52.1" width="0.9" height="0.9"/><rect x="324.3" y="47.4" width="0.9" height="0.9"/><rect x="325.5" y="41.0" width="0.9" height="0.9"/><rect x="336.4" y="55.5" width="0.9" height="0.9"/><rect x="355.6" y="36.1" width="0.9" height="0.9"/><rect x="360.6" y="54.3" width="0.9" height="0.9"/><rect x="326.1" y="36.2" width="0.9" height="0.9"/><rect x="336.1" y="38.2" width="0.9" height="0.9"/><rect x="341.0" y="57.9" width="0.9" height="0.9"/><rect x="343.4" y="26.3" width="0.9" height="0.9"/><rect x="315.4" y="41.7" width="0.9" height="0.9"/><rect x="326.9" y="50.2" width="0.9" height="0.9"/><rect x="323.0" y="32.9" width="0.9" height="0.9"/><rect x="336.4" y="42.3" width="0.9" height="0.9"/><rect x="356.9" y="51.7" width="0.9" height="0.9"/><rect x="357.7" y="67.8" width="0.9" height="0.9"/><rect x="341.7" y="55.6" width="0.9" height="0.9"/><rect x="346.9" y="67.6" width="0.9" height="0.9"/><rect x="355.3" y="75.6" width="0.9" height="0.9"/><rect x="358.7" y="59.4" width="0.9" height="0.9"/><rect x="341.9" y="29.4" width="0.9" height="0.9"/><rect x="332.0" y="49.5" width="0.9" height="0.9"/><rect x="350.0" y="53.2" width="0.9" height="0.9"/><rect x="357.2" y="47.7" width="0.9" height="0.9"/><rect x="338.0" y="59.6" width="0.9" height="0.9"/><rect x="345.0" y="62.6" width="0.9" height="0.9"/><rect x="347.5" y="59.5" width="0.9" height="0.9"/><rect x="351.6" y="47.1" width="0.9" height="0.9"/><rect x="355.5" y="33.2" width="0.9" height="0.9"/><rect x="346.6" y="45.7" width="0.9" height="0.9"/><rect x="355.6" y="65.0" width="0.9" height="0.9"/><rect x="348.2" y="50.4" width="0.9" height="0.9"/><rect x="347.9" y="61.7" width="0.9" height="0.9"/><rect x="345.2" y="66.1" width="0.9" height="0.9"/><rect x="338.8" y="40.4" width="0.9" height="0.9"/><rect x="357.0" y="47.5" width="0.9" height="0.9"/><rect x="343.5" y="59.0" width="0.9" height="0.9"/><rect x="329.5" y="48.5" width="0.9" height="0.9"/><rect x="321.4" y="46.6" width="0.9" height="0.9"/><rect x="339.5" y="33.5" width="0.9" height="0.9"/><rect x="359.8" y="51.7" width="0.9" height="0.9"/><rect x="347.8" y="33.8" width="0.9" height="0.9"/><rect x="358.6" y="66.2" width="0.9" height="0.9"/><rect x="341.2" y="69.2" width="0.9" height="0.9"/><rect x="339.1" y="43.1" width="0.9" height="0.9"/><rect x="345.4" y="58.0" width="0.9" height="0.9"/><rect x="325.7" y="35.0" width="0.9" height="0.9"/><rect x="328.7" y="29.8" width="0.9" height="0.9"/><rect x="332.9" y="49.5" width="0.9" height="0.9"/><rect x="348.4" y="56.9" width="0.9" height="0.9"/><rect x="359.4" y="62.6" width="0.9" height="0.9"/><rect x="352.5" y="42.5" width="0.9" height="0.9"/><rect x="357.6" y="43.0" width="0.9" height="0.9"/><rect x="303.6" y="46.5" width="0.9" height="0.9"/><rect x="333.9" y="51.0" width="0.9" height="0.9"/><rect x="353.3" y="46.8" width="0.9" height="0.9"/><rect x="351.2" y="33.5" width="0.9" height="0.9"/><rect x="319.4" y="33.2" width="0.9" height="0.9"/><rect x="345.9" y="51.3" width="0.9" height="0.9"/><rect x="333.1" y="44.3" width="0.9" height="0.9"/><rect x="343.4" y="52.3" width="0.9" height="0.9"/><rect x="334.8" y="54.8" width="0.9" height="0.9"/><rect x="348.5" y="53.5" width="0.9" height="0.9"/><rect x="354.3" y="71.7" width="0.9" height="0.9"/><rect x="340.8" y="35.8" width="0.9" height="0.9"/><rect x="324.7" y="37.5" width="0.9" height="0.9"/><rect x="342.6" y="31.3" width="0.9" height="0.9"/><rect x="339.8" y="26.9" width="0.9" height="0.9"/><rect x="354.4" y="44.4" width="0.9" height="0.9"/><rect x="355.5" y="34.1" width="0.9" height="0.9"/><rect x="338.1" y="52.1" width="0.9" height="0.9"/><rect x="359.5" y="52.2" width="0.9" height="0.9"/><rect x="339.4" y="66.5" width="0.9" height="0.9"/><rect x="355.0" y="33.3" width="0.9" height="0.9"/><rect x="343.7" y="57.8" width="0.9" height="0.9"/><rect x="337.6" y="34.4" width="0.9" height="0.9"/><rect x="349.3" y="29.0" width="0.9" height="0.9"/><rect x="358.6" y="63.0" width="0.9" height="0.9"/><rect x="357.1" y="43.5" width="0.9" height="0.9"/><rect x="318.0" y="43.1" width="0.9" height="0.9"/><rect x="351.8" y="31.2" width="0.9" height="0.9"/><rect x="356.9" y="72.5" width="0.9" height="0.9"/><rect x="358.7" y="50.4" width="0.9" height="0.9"/><rect x="329.7" y="45.7" width="0.9" height="0.9"/><rect x="342.5" y="68.4" width="0.9" height="0.9"/><rect x="349.8" y="71.8" width="0.9" height="0.9"/><rect x="360.7" y="70.5" width="0.9" height="0.9"/><rect x="347.2" y="42.6" width="0.9" height="0.9"/><rect x="339.6" y="63.4" width="0.9" height="0.9"/><rect x="349.0" y="31.3" width="0.9" height="0.9"/><rect x="340.7" y="58.3" width="0.9" height="0.9"/><rect x="334.6" y="50.1" width="0.9" height="0.9"/><rect x="340.0" y="63.1" width="0.9" height="0.9"/><rect x="352.3" y="78.1" width="0.9" height="0.9"/><rect x="335.5" y="50.6" width="0.9" height="0.9"/><rect x="341.3" y="56.0" width="0.9" height="0.9"/><rect x="339.8" y="35.4" width="0.9" height="0.9"/><rect x="356.5" y="43.6" width="0.9" height="0.9"/><rect x="333.1" y="42.5" width="0.9" height="0.9"/><rect x="314.7" y="42.9" width="0.9" height="0.9"/><rect x="338.1" y="34.0" width="0.9" height="0.9"/><rect x="351.5" y="31.5" width="0.9" height="0.9"/><rect x="337.7" y="65.3" width="0.9" height="0.9"/><rect x="361.6" y="59.5" width="0.9" height="0.9"/><rect x="340.3" y="48.8" width="0.9" height="0.9"/><rect x="357.9" y="33.1" width="0.9" height="0.9"/><rect x="348.5" y="39.9" width="0.9" height="0.9"/><rect x="357.9" y="39.5" width="0.9" height="0.9"/><rect x="354.5" y="34.9" width="0.9" height="0.9"/><rect x="338.6" y="36.8" width="0.9" height="0.9"/><rect x="316.5" y="45.5" width="0.9" height="0.9"/><rect x="359.9" y="57.7" width="0.9" height="0.9"/><rect x="364.3" y="54.4" width="0.9" height="0.9"/><rect x="342.3" y="45.9" width="0.9" height="0.9"/><rect x="329.0" y="47.9" width="0.9" height="0.9"/><rect x="346.0" y="58.9" width="0.9" height="0.9"/><rect x="358.3" y="46.0" width="0.9" height="0.9"/><rect x="312.4" y="48.9" width="0.9" height="0.9"/><rect x="350.9" y="71.9" width="0.9" height="0.9"/><rect x="353.4" y="57.3" width="0.9" height="0.9"/><rect x="321.7" y="47.0" width="0.9" height="0.9"/><rect x="345.2" y="35.7" width="0.9" height="0.9"/><rect x="344.1" y="71.1" width="0.9" height="0.9"/><rect x="352.5" y="37.9" width="0.9" height="0.9"/><rect x="316.0" y="34.3" width="0.9" height="0.9"/><rect x="341.7" y="55.0" width="0.9" height="0.9"/><rect x="335.8" y="31.2" width="0.9" height="0.9"/><rect x="349.9" y="50.8" width="0.9" height="0.9"/><rect x="330.0" y="36.0" width="0.9" height="0.9"/><rect x="343.2" y="41.4" width="0.9" height="0.9"/><rect x="334.6" y="45.0" width="0.9" height="0.9"/><rect x="358.5" y="65.4" width="0.9" height="0.9"/><rect x="321.9" y="46.6" width="0.9" height="0.9"/><rect x="328.5" y="34.2" width="0.9" height="0.9"/><rect x="353.3" y="72.8" width="0.9" height="0.9"/><rect x="344.2" y="56.1" width="0.9" height="0.9"/><rect x="333.6" y="31.9" width="0.9" height="0.9"/><rect x="327.1" y="33.2" width="0.9" height="0.9"/><rect x="344.7" y="75.0" width="0.9" height="0.9"/><rect x="349.9" y="47.3" width="0.9" height="0.9"/><rect x="355.0" y="61.7" width="0.9" height="0.9"/><rect x="340.2" y="31.2" width="0.9" height="0.9"/><rect x="349.0" y="31.6" width="0.9" height="0.9"/><rect x="335.2" y="29.5" width="0.9" height="0.9"/><rect x="361.6" y="47.3" width="0.9" height="0.9"/><rect x="358.0" y="78.1" width="0.9" height="0.9"/><rect x="346.8" y="69.8" width="0.9" height="0.9"/><rect x="350.5" y="73.1" width="0.9" height="0.9"/><rect x="345.1" y="62.0" width="0.9" height="0.9"/><rect x="324.1" y="31.8" width="0.9" height="0.9"/><rect x="347.3" y="30.5" width="0.9" height="0.9"/><rect x="333.9" y="47.2" width="0.9" height="0.9"/><rect x="348.0" y="64.3" width="0.9" height="0.9"/><rect x="355.7" y="44.6" width="0.9" height="0.9"/><rect x="348.5" y="28.4" width="0.9" height="0.9"/><rect x="361.5" y="49.3" width="0.9" height="0.9"/><rect x="333.6" y="40.7" width="0.9" height="0.9"/><rect x="349.6" y="67.8" width="0.9" height="0.9"/><rect x="352.5" y="40.9" width="0.9" height="0.9"/><rect x="343.6" y="71.4" width="0.9" height="0.9"/><rect x="354.8" y="32.4" width="0.9" height="0.9"/><rect x="337.6" y="31.8" width="0.9" height="0.9"/><rect x="327.1" y="43.2" width="0.9" height="0.9"/><rect x="352.2" y="44.5" width="0.9" height="0.9"/><rect x="324.6" y="34.7" width="0.9" height="0.9"/><rect x="342.3" y="46.9" width="0.9" height="0.9"/><rect x="333.6" y="38.7" width="0.9" height="0.9"/><rect x="340.2" y="68.7" width="0.9" height="0.9"/><rect x="317.3" y="42.5" width="0.9" height="0.9"/><rect x="359.7" y="61.2" width="0.9" height="0.9"/><rect x="329.5" y="48.8" width="0.9" height="0.9"/><rect x="347.6" y="71.9" width="0.9" height="0.9"/><rect x="353.2" y="32.5" width="0.9" height="0.9"/><rect x="307.5" y="44.3" width="0.9" height="0.9"/><rect x="334.7" y="30.1" width="0.9" height="0.9"/><rect x="344.5" y="31.9" width="0.9" height="0.9"/><rect x="347.5" y="31.8" width="0.9" height="0.9"/><rect x="354.2" y="45.4" width="0.9" height="0.9"/><rect x="346.9" y="54.6" width="0.9" height="0.9"/><rect x="336.6" y="32.2" width="0.9" height="0.9"/><rect x="341.7" y="26.2" width="0.9" height="0.9"/><rect x="353.2" y="31.6" width="0.9" height="0.9"/><rect x="360.4" y="65.6" width="0.9" height="0.9"/><rect x="360.0" y="72.0" width="0.9" height="0.9"/><rect x="353.4" y="32.7" width="0.9" height="0.9"/><rect x="346.0" y="64.0" width="0.9" height="0.9"/><rect x="342.1" y="27.1" width="0.9" height="0.9"/><rect x="338.9" y="57.3" width="0.9" height="0.9"/><rect x="340.9" y="53.0" width="0.9" height="0.9"/><rect x="339.4" y="34.2" width="0.9" height="0.9"/><rect x="340.9" y="28.6" width="0.9" height="0.9"/><rect x="350.5" y="40.7" width="0.9" height="0.9"/><rect x="350.8" y="51.8" width="0.9" height="0.9"/><rect x="343.9" y="71.3" width="0.9" height="0.9"/><rect x="335.6" y="51.1" width="0.9" height="0.9"/><rect x="340.1" y="31.0" width="0.9" height="0.9"/><rect x="332.7" y="46.3" width="0.9" height="0.9"/><rect x="349.7" y="58.7" width="0.9" height="0.9"/><rect x="350.0" y="31.0" width="0.9" height="0.9"/><rect x="348.4" y="71.8" width="0.9" height="0.9"/><rect x="359.4" y="68.3" width="0.9" height="0.9"/><rect x="349.0" y="29.2" width="0.9" height="0.9"/><rect x="343.7" y="42.4" width="0.9" height="0.9"/><rect x="351.4" y="29.6" width="0.9" height="0.9"/><rect x="352.7" y="55.9" width="0.9" height="0.9"/><rect x="352.7" y="38.6" width="0.9" height="0.9"/><rect x="354.5" y="39.5" width="0.9" height="0.9"/><rect x="358.3" y="66.8" width="0.9" height="0.9"/><rect x="352.6" y="51.6" width="0.9" height="0.9"/><rect x="335.2" y="25.8" width="0.9" height="0.9"/><rect x="351.6" y="72.2" width="0.9" height="0.9"/><rect x="338.2" y="36.9" width="0.9" height="0.9"/><rect x="325.2" y="35.1" width="0.9" height="0.9"/><rect x="336.7" y="51.6" width="0.9" height="0.9"/><rect x="305.2" y="38.9" width="0.9" height="0.9"/><rect x="359.1" y="64.9" width="0.9" height="0.9"/><rect x="326.0" y="42.4" width="0.9" height="0.9"/><rect x="333.4" y="49.8" width="0.9" height="0.9"/><rect x="360.1" y="61.5" width="0.9" height="0.9"/><rect x="344.4" y="57.4" width="0.9" height="0.9"/><rect x="358.1" y="33.9" width="0.9" height="0.9"/><rect x="337.2" y="51.7" width="0.9" height="0.9"/><rect x="346.9" y="38.1" width="0.9" height="0.9"/><rect x="354.2" y="65.1" width="0.9" height="0.9"/><rect x="350.1" y="66.4" width="0.9" height="0.9"/><rect x="341.4" y="29.4" width="0.9" height="0.9"/><rect x="357.3" y="39.0" width="0.9" height="0.9"/><rect x="334.0" y="34.6" width="0.9" height="0.9"/><rect x="353.6" y="69.9" width="0.9" height="0.9"/><rect x="337.8" y="58.4" width="0.9" height="0.9"/><rect x="343.9" y="30.1" width="0.9" height="0.9"/><rect x="357.0" y="28.3" width="0.9" height="0.9"/><rect x="313.5" y="45.7" width="0.9" height="0.9"/><rect x="344.0" y="70.4" width="0.9" height="0.9"/><rect x="352.4" y="31.4" width="0.9" height="0.9"/><rect x="357.1" y="47.6" width="0.9" height="0.9"/><rect x="357.9" y="44.0" width="0.9" height="0.9"/><rect x="341.2" y="60.0" width="0.9" height="0.9"/><rect x="306.6" y="44.7" width="0.9" height="0.9"/><rect x="358.9" y="53.9" width="0.9" height="0.9"/><rect x="337.3" y="53.8" width="0.9" height="0.9"/><rect x="356.3" y="69.7" width="0.9" height="0.9"/><rect x="358.4" y="66.1" width="0.9" height="0.9"/><rect x="358.6" y="39.8" width="0.9" height="0.9"/><rect x="331.9" y="31.3" width="0.9" height="0.9"/><rect x="347.4" y="29.9" width="0.9" height="0.9"/><rect x="340.1" y="67.3" width="0.9" height="0.9"/><rect x="351.2" y="53.4" width="0.9" height="0.9"/><rect x="357.2" y="47.2" width="0.9" height="0.9"/><rect x="332.6" y="46.4" width="0.9" height="0.9"/><rect x="337.0" y="51.7" width="0.9" height="0.9"/><rect x="303.7" y="46.0" width="0.9" height="0.9"/><rect x="335.7" y="29.5" width="0.9" height="0.9"/><rect x="354.5" y="40.3" width="0.9" height="0.9"/><rect x="357.2" y="68.0" width="0.9" height="0.9"/><rect x="356.7" y="61.5" width="0.9" height="0.9"/><rect x="339.4" y="32.9" width="0.9" height="0.9"/><rect x="337.5" y="73.2" width="0.9" height="0.9"/><rect x="357.4" y="44.5" width="0.9" height="0.9"/><rect x="356.6" y="36.9" width="0.9" height="0.9"/><rect x="331.4" y="36.2" width="0.9" height="0.9"/><rect x="331.4" y="45.6" width="0.9" height="0.9"/><rect x="358.6" y="64.2" width="0.9" height="0.9"/><rect x="341.6" y="62.7" width="0.9" height="0.9"/><rect x="320.7" y="35.2" width="0.9" height="0.9"/><rect x="351.5" y="28.6" width="0.9" height="0.9"/><rect x="356.2" y="50.4" width="0.9" height="0.9"/><rect x="357.9" y="70.0" width="0.9" height="0.9"/><rect x="334.1" y="50.1" width="0.9" height="0.9"/><rect x="332.2" y="50.9" width="0.9" height="0.9"/><rect x="356.6" y="60.5" width="0.9" height="0.9"/><rect x="351.7" y="28.1" width="0.9" height="0.9"/><rect x="357.4" y="43.9" width="0.9" height="0.9"/><rect x="345.3" y="37.1" width="0.9" height="0.9"/><rect x="347.4" y="55.5" width="0.9" height="0.9"/><rect x="354.2" y="75.4" width="0.9" height="0.9"/><rect x="354.9" y="68.0" width="0.9" height="0.9"/><rect x="348.6" y="31.0" width="0.9" height="0.9"/><rect x="328.7" y="51.0" width="0.9" height="0.9"/><rect x="357.7" y="48.3" width="0.9" height="0.9"/><rect x="351.2" y="29.4" width="0.9" height="0.9"/><rect x="346.4" y="46.0" width="0.9" height="0.9"/><rect x="341.8" y="35.3" width="0.9" height="0.9"/><rect x="355.9" y="62.8" width="0.9" height="0.9"/><rect x="332.3" y="32.6" width="0.9" height="0.9"/><rect x="355.9" y="36.9" width="0.9" height="0.9"/><rect x="338.8" y="59.7" width="0.9" height="0.9"/><rect x="336.2" y="53.3" width="0.9" height="0.9"/><rect x="329.5" y="49.7" width="0.9" height="0.9"/><rect x="342.3" y="39.3" width="0.9" height="0.9"/><rect x="337.9" y="57.7" width="0.9" height="0.9"/><rect x="324.7" y="34.9" width="0.9" height="0.9"/><rect x="326.3" y="38.2" width="0.9" height="0.9"/><rect x="358.8" y="65.6" width="0.9" height="0.9"/><rect x="351.0" y="31.0" width="0.9" height="0.9"/><rect x="328.4" y="32.3" width="0.9" height="0.9"/><rect x="342.2" y="52.5" width="0.9" height="0.9"/><rect x="344.0" y="41.1" width="0.9" height="0.9"/><rect x="342.1" y="53.8" width="0.9" height="0.9"/><rect x="310.6" y="43.3" width="0.9" height="0.9"/><rect x="353.3" y="31.6" width="0.9" height="0.9"/><rect x="344.6" y="63.4" width="0.9" height="0.9"/><rect x="349.7" y="31.6" width="0.9" height="0.9"/><rect x="364.2" y="34.9" width="0.9" height="0.9"/><rect x="358.3" y="53.2" width="0.9" height="0.9"/><rect x="348.9" y="54.7" width="0.9" height="0.9"/><rect x="358.2" y="31.5" width="0.9" height="0.9"/><rect x="320.0" y="36.7" width="0.9" height="0.9"/><rect x="330.7" y="54.0" width="0.9" height="0.9"/><rect x="325.3" y="49.8" width="0.9" height="0.9"/><rect x="318.6" y="34.6" width="0.9" height="0.9"/><rect x="322.6" y="45.8" width="0.9" height="0.9"/><rect x="355.5" y="31.0" width="0.9" height="0.9"/><rect x="339.6" y="49.8" width="0.9" height="0.9"/><rect x="349.2" y="57.8" width="0.9" height="0.9"/><rect x="314.4" y="44.2" width="0.9" height="0.9"/><rect x="346.4" y="60.9" width="0.9" height="0.9"/><rect x="353.0" y="62.4" width="0.9" height="0.9"/><rect x="333.1" y="32.5" width="0.9" height="0.9"/><rect x="339.0" y="53.5" width="0.9" height="0.9"/><rect x="326.2" y="47.4" width="0.9" height="0.9"/><rect x="340.3" y="67.5" width="0.9" height="0.9"/><rect x="342.3" y="45.9" width="0.9" height="0.9"/><rect x="329.2" y="26.0" width="0.9" height="0.9"/><rect x="320.7" y="32.6" width="0.9" height="0.9"/><rect x="359.8" y="60.3" width="0.9" height="0.9"/><rect x="308.1" y="44.0" width="0.9" height="0.9"/><rect x="351.2" y="28.5" width="0.9" height="0.9"/><rect x="351.7" y="28.3" width="0.9" height="0.9"/><rect x="331.6" y="38.7" width="0.9" height="0.9"/><rect x="356.1" y="39.5" width="0.9" height="0.9"/><rect x="341.2" y="48.8" width="0.9" height="0.9"/><rect x="346.1" y="70.8" width="0.9" height="0.9"/><rect x="314.7" y="45.2" width="0.9" height="0.9"/><rect x="303.6" y="47.1" width="0.9" height="0.9"/><rect x="344.0" y="65.5" width="0.9" height="0.9"/><rect x="348.8" y="70.5" width="0.9" height="0.9"/><rect x="357.1" y="69.1" width="0.9" height="0.9"/><rect x="339.5" y="39.3" width="0.9" height="0.9"/><rect x="315.9" y="49.1" width="0.9" height="0.9"/><rect x="337.0" y="45.1" width="0.9" height="0.9"/><rect x="351.6" y="51.3" width="0.9" height="0.9"/><rect x="339.1" y="47.6" width="0.9" height="0.9"/><rect x="351.2" y="61.8" width="0.9" height="0.9"/><rect x="358.4" y="48.6" width="0.9" height="0.9"/><rect x="355.6" y="69.8" width="0.9" height="0.9"/><rect x="348.3" y="68.8" width="0.9" height="0.9"/><rect x="356.6" y="41.3" width="0.9" height="0.9"/><rect x="334.5" y="31.7" width="0.9" height="0.9"/><rect x="350.8" y="35.6" width="0.9" height="0.9"/><rect x="356.1" y="71.7" width="0.9" height="0.9"/><rect x="340.4" y="52.3" width="0.9" height="0.9"/><rect x="334.0" y="49.0" width="0.9" height="0.9"/><rect x="338.4" y="65.1" width="0.9" height="0.9"/><rect x="341.3" y="52.6" width="0.9" height="0.9"/><rect x="339.3" y="31.6" width="0.9" height="0.9"/><rect x="350.8" y="73.5" width="0.9" height="0.9"/><rect x="355.2" y="37.3" width="0.9" height="0.9"/><rect x="355.2" y="33.9" width="0.9" height="0.9"/><rect x="359.1" y="48.1" width="0.9" height="0.9"/><rect x="341.4" y="74.8" width="0.9" height="0.9"/></g>
<path d="M352.0,71.8 L351.2,71.9 L350.5,71.9 L349.8,71.9 L349.0,71.8 L348.5,71.7 L347.8,71.6 L347.2,71.4 L346.8,71.2 L346.2,70.9 L345.8,70.6 L345.2,70.3 L344.9,70.0 L344.5,69.6 L344.1,69.2 L343.8,68.8 L343.5,68.5 L343.2,68.0 L342.8,67.5 L342.6,67.0 L342.4,66.5 L342.2,66.0 L342.0,65.4 L341.9,64.8 L341.8,64.0 L341.7,63.5 L341.7,62.8 L341.8,62.2 L341.9,61.5 L342.0,61.0 L342.2,60.2 L342.4,59.8 L342.6,59.2 L342.8,58.6 L342.9,58.0 L343.0,57.2 L343.0,56.8 L343.1,56.0 L343.2,55.2 L343.2,54.5 L343.1,53.8 L342.8,53.4 L342.2,53.1 L341.8,52.9 L341.2,52.7 L340.6,52.5 L340.0,52.3 L339.5,52.1 L339.0,51.9 L338.5,51.7 L337.9,51.5 L337.2,51.3 L336.8,51.1 L336.2,50.9 L335.8,50.7 L335.2,50.5 L334.6,50.2 L334.0,50.0 L333.5,49.8 L333.0,49.6 L332.5,49.4 L332.0,49.2 L331.5,49.0 L330.9,48.8 L330.3,48.5 L329.8,48.3 L329.2,48.1 L328.8,47.9 L328.2,47.7 L327.8,47.5 L327.2,47.2 L326.6,47.0 L326.0,46.8 L325.5,46.6 L325.0,46.4 L324.5,46.2 L323.8,46.0 L323.2,45.9 L322.8,45.7 L322.0,45.5 L321.5,45.4 L321.0,45.2 L320.3,45.0 L319.8,44.9 L319.2,44.7 L318.5,44.6 L318.0,44.5 L317.2,44.4 L316.5,44.3 L315.9,44.2 L315.2,44.2 L314.5,44.1 L313.9,44.0 L313.2,43.9 L312.5,43.9 L311.8,43.9 L311.0,43.9 L310.2,43.9 L309.5,43.9 L308.8,43.9 L308.0,43.9 L307.4,43.8 L306.9,43.5 L306.5,43.0 L306.4,42.5 L306.4,41.8 L306.4,41.0 L306.5,40.2 L306.7,39.8 L307.0,39.4 L307.5,39.2 L308.2,39.1 L309.0,39.0 L309.5,39.0 L310.2,38.9 L311.0,38.9 L311.8,38.8 L312.3,38.8 L313.0,38.6 L313.8,38.5 L314.2,38.4 L315.0,38.3 L315.5,38.2 L316.2,38.1 L316.8,38.0 L317.5,37.9 L318.0,37.8 L318.8,37.6 L319.2,37.4 L319.8,37.2 L320.5,37.0 L321.0,36.9 L321.5,36.7 L322.2,36.5 L322.8,36.4 L323.2,36.2 L323.9,36.0 L324.5,35.8 L325.0,35.7 L325.7,35.5 L326.2,35.3 L326.8,35.2 L327.4,35.0 L328.0,34.8 L328.5,34.7 L329.1,34.5 L329.8,34.3 L330.2,34.2 L330.9,34.0 L331.5,33.8 L332.0,33.7 L332.8,33.5 L333.2,33.4 L334.0,33.3 L334.5,33.2 L335.2,33.0 L335.8,32.9 L336.4,32.8 L337.0,32.6 L337.8,32.5 L338.2,32.4 L339.0,32.3 L339.6,32.2 L340.2,32.2 L341.0,32.1 L341.5,32.0 L342.2,31.9 L343.0,31.9 L343.8,31.9 L344.5,31.9 L345.2,31.9 L346.0,31.9 L346.8,31.9 L347.5,31.9 L348.2,31.9 L349.0,31.9 L349.6,32.0 L350.2,32.1 L351.0,32.2 L351.5,32.3 L352.2,32.5 L352.8,32.7 L353.2,33.0 L353.6,33.2 L354.0,33.5 L354.5,34.0 L354.8,34.2 L355.1,34.8 L355.4,35.2 L355.6,35.8 L355.8,36.3 L356.0,37.0 L356.1,37.5 L356.2,38.1 L356.3,38.8 L356.4,39.5 L356.4,40.2 L356.4,41.0 L356.4,41.8 L356.4,42.5 L356.3,43.2 L356.2,44.0 L356.2,44.5 L356.0,45.2 L356.0,46.0 L356.1,46.8 L356.2,47.4 L356.4,48.0 L356.5,48.7 L356.6,49.2 L356.7,50.0 L356.8,50.5 L357.0,51.2 L357.1,51.8 L357.2,52.5 L357.3,53.0 L357.4,53.8 L357.5,54.2 L357.7,55.0 L357.8,55.5 L357.9,56.2 L358.0,56.8 L358.1,57.5 L358.2,58.1 L358.4,58.8 L358.5,59.5 L358.5,60.0 L358.6,60.8 L358.7,61.5 L358.8,62.0 L358.9,62.8 L358.9,63.5 L358.8,64.2 L358.7,64.8 L358.6,65.5 L358.4,66.0 L358.2,66.5 L358.0,67.1 L357.8,67.6 L357.5,68.0 L357.1,68.5 L356.8,69.0 L356.5,69.3 L356.0,69.8 L355.7,70.0 L355.2,70.4 L354.8,70.7 L354.2,71.0 L353.8,71.2 L353.2,71.4 L352.8,71.6 L352.1,71.8 L352.0,71.8Z" fill="none" stroke="#5e5e5e" stroke-width="0.7"/><path d="M346.5,51.8 L345.8,51.8 L345.2,51.7 L344.5,51.6 L344.0,51.5 L343.2,51.3 L342.8,51.2 L342.0,51.0 L341.5,50.9 L341.0,50.7 L340.4,50.5 L339.8,50.3 L339.2,50.1 L338.8,49.9 L338.2,49.7 L337.7,49.5 L337.1,49.2 L336.5,49.0 L336.0,48.8 L335.5,48.6 L335.0,48.4 L334.5,48.2 L333.9,48.0 L333.3,47.8 L332.8,47.5 L332.2,47.3 L331.8,47.1 L331.2,46.9 L330.8,46.7 L330.2,46.5 L329.6,46.2 L329.0,46.0 L328.5,45.8 L328.0,45.7 L327.5,45.5 L326.8,45.3 L326.2,45.1 L325.8,45.0 L325.1,44.8 L324.5,44.6 L324.0,44.5 L323.2,44.3 L322.8,44.2 L322.0,44.1 L321.4,44.0 L320.8,43.9 L320.0,43.9 L319.2,43.8 L318.8,43.7 L318.0,43.6 L317.2,43.6 L316.5,43.6 L315.8,43.6 L315.0,43.6 L314.2,43.5 L313.8,43.3 L313.4,43.0 L313.2,42.5 L313.1,41.8 L313.2,41.0 L313.3,40.5 L313.7,40.0 L314.2,39.8 L314.8,39.7 L315.5,39.6 L316.2,39.6 L317.0,39.5 L317.5,39.4 L318.2,39.3 L318.8,39.2 L319.5,39.1 L320.2,39.0 L320.8,38.9 L321.5,38.8 L322.0,38.7 L322.8,38.5 L323.2,38.4 L323.8,38.2 L324.5,38.0 L325.0,37.9 L325.5,37.7 L326.2,37.5 L326.8,37.4 L327.2,37.2 L327.9,37.0 L328.5,36.8 L329.0,36.7 L329.6,36.5 L330.2,36.3 L330.8,36.2 L331.3,36.0 L332.0,35.8 L332.5,35.7 L333.1,35.5 L333.8,35.3 L334.2,35.2 L335.0,35.1 L335.5,35.0 L336.2,34.8 L336.8,34.7 L337.5,34.5 L338.0,34.4 L338.8,34.3 L339.2,34.2 L340.0,34.1 L340.8,34.0 L341.2,34.0 L342.0,33.9 L342.8,33.9 L343.5,33.9 L344.2,33.9 L345.0,33.8 L345.7,33.8 L346.2,33.7 L347.0,33.7 L347.5,33.8 L348.2,33.9 L349.0,34.0 L349.5,34.1 L350.2,34.2 L350.8,34.4 L351.2,34.6 L351.8,35.0 L352.1,35.2 L352.5,35.7 L352.8,36.0 L353.1,36.5 L353.3,37.0 L353.5,37.7 L353.6,38.2 L353.8,38.8 L353.8,39.5 L353.9,40.2 L353.9,41.0 L353.9,41.8 L353.9,42.5 L353.8,43.2 L353.8,44.0 L353.6,44.5 L353.5,45.1 L353.3,45.8 L353.2,46.2 L353.0,47.0 L352.8,47.5 L352.5,48.0 L352.2,48.4 L352.0,48.8 L351.6,49.2 L351.2,49.7 L350.9,50.0 L350.5,50.4 L350.0,50.8 L349.5,51.0 L349.0,51.1 L348.5,51.3 L347.8,51.5 L347.2,51.6 L346.6,51.8 L346.5,51.8Z" fill="none" stroke="#5e5e5e" stroke-width="0.7"/><path d="M351.0,69.5 L350.2,69.6 L349.5,69.5 L349.0,69.4 L348.3,69.2 L347.8,69.0 L347.2,68.8 L346.8,68.5 L346.4,68.2 L346.0,68.0 L345.5,67.5 L345.2,67.2 L344.9,66.8 L344.5,66.2 L344.3,65.8 L344.1,65.2 L343.9,64.8 L343.8,64.1 L343.7,63.5 L343.6,62.8 L343.7,62.0 L343.8,61.5 L344.0,60.8 L344.2,60.2 L344.5,59.8 L344.7,59.2 L345.0,58.9 L345.3,58.5 L345.7,58.0 L346.0,57.7 L346.3,57.2 L346.5,56.8 L346.7,56.0 L346.8,55.5 L347.0,54.8 L347.2,54.2 L347.5,53.9 L348.0,53.5 L348.4,53.2 L348.8,53.0 L349.2,52.7 L349.8,52.4 L350.2,52.0 L350.7,51.8 L351.1,51.5 L351.6,51.2 L352.1,51.0 L352.8,50.8 L353.5,51.0 L353.8,51.3 L354.0,52.0 L354.1,52.5 L354.2,53.2 L354.4,53.8 L354.5,54.5 L354.6,55.0 L354.7,55.8 L354.8,56.2 L355.0,57.0 L355.1,57.5 L355.2,58.0 L355.5,58.6 L355.8,59.1 L356.0,59.5 L356.3,60.0 L356.5,60.5 L356.7,61.2 L356.8,61.8 L356.9,62.5 L356.9,63.2 L356.8,64.0 L356.7,64.5 L356.5,65.2 L356.3,65.8 L356.0,66.2 L355.8,66.7 L355.5,67.0 L355.1,67.5 L354.8,67.8 L354.2,68.2 L353.9,68.5 L353.5,68.8 L353.0,69.0 L352.3,69.2 L351.8,69.4 L351.2,69.5 L351.0,69.5Z" fill="none" stroke="#5e5e5e" stroke-width="0.7"/><path d="M346.8,51.5 L346.0,51.6 L345.2,51.5 L344.8,51.4 L344.0,51.3 L343.5,51.2 L342.8,51.0 L342.2,50.9 L341.7,50.8 L341.1,50.5 L340.5,50.3 L340.0,50.1 L339.5,50.0 L338.9,49.8 L338.3,49.5 L337.8,49.3 L337.2,49.1 L336.8,48.9 L336.2,48.7 L335.7,48.5 L335.1,48.2 L334.5,48.0 L334.0,47.8 L333.5,47.6 L333.0,47.4 L332.5,47.2 L331.9,47.0 L331.3,46.8 L330.8,46.5 L330.2,46.3 L329.8,46.1 L329.2,45.9 L328.8,45.7 L328.2,45.4 L327.8,45.2 L327.2,44.9 L326.8,44.6 L326.2,44.3 L325.8,44.0 L325.3,43.8 L324.9,43.5 L324.5,43.2 L324.0,43.0 L323.5,42.7 L323.0,42.4 L322.5,42.1 L322.2,41.8 L322.2,41.0 L322.5,40.7 L323.0,40.4 L323.5,40.0 L323.9,39.8 L324.3,39.5 L324.8,39.2 L325.2,38.9 L325.8,38.6 L326.2,38.3 L326.7,38.0 L327.1,37.8 L327.5,37.5 L328.0,37.2 L328.7,37.0 L329.2,36.8 L329.8,36.7 L330.4,36.5 L331.0,36.3 L331.5,36.2 L332.1,36.0 L332.8,35.8 L333.2,35.7 L334.0,35.5 L334.5,35.4 L335.1,35.2 L335.8,35.1 L336.2,35.0 L337.0,34.8 L337.5,34.7 L338.2,34.6 L338.9,34.5 L339.5,34.4 L340.2,34.3 L340.8,34.2 L341.5,34.1 L342.2,34.1 L343.0,34.1 L343.5,34.0 L344.2,33.9 L345.0,33.9 L345.8,33.9 L346.5,33.9 L347.2,34.0 L347.8,34.1 L348.5,34.1 L349.2,34.2 L349.8,34.3 L350.4,34.5 L350.9,34.8 L351.3,35.0 L351.8,35.3 L352.2,35.8 L352.5,36.0 L352.8,36.5 L353.0,37.1 L353.2,37.8 L353.3,38.2 L353.5,38.9 L353.6,39.5 L353.6,40.2 L353.6,41.0 L353.6,41.8 L353.6,42.5 L353.6,43.2 L353.5,44.0 L353.4,44.5 L353.2,45.0 L353.0,45.8 L352.9,46.2 L352.8,46.8 L352.5,47.5 L352.2,48.0 L352.0,48.3 L351.6,48.8 L351.2,49.2 L351.0,49.5 L350.6,50.0 L350.2,50.3 L349.8,50.6 L349.2,50.8 L348.5,51.0 L348.0,51.1 L347.5,51.3 L346.8,51.5 L346.8,51.5Z" fill="none" stroke="#5e5e5e" stroke-width="0.7"/><path d="M345.5,49.8 L345.0,49.7 L344.2,49.6 L343.6,49.5 L343.0,49.4 L342.5,49.2 L341.8,49.0 L341.2,48.9 L340.8,48.7 L340.2,48.5 L339.6,48.2 L339.0,48.0 L338.5,47.8 L338.0,47.6 L337.5,47.4 L337.0,47.2 L336.4,47.0 L335.8,46.8 L335.2,46.5 L334.8,46.3 L334.2,46.1 L333.8,45.9 L333.2,45.7 L332.7,45.5 L332.1,45.2 L331.5,45.0 L331.0,44.8 L330.5,44.5 L330.1,44.2 L329.6,44.0 L329.2,43.8 L328.8,43.5 L328.2,43.2 L327.8,42.9 L327.2,42.6 L326.8,42.3 L326.5,42.0 L326.5,41.3 L326.8,41.0 L327.2,40.6 L327.8,40.3 L328.2,40.0 L328.6,39.8 L329.0,39.5 L329.5,39.1 L330.0,38.8 L330.5,38.5 L331.0,38.3 L331.5,38.1 L332.0,38.0 L332.7,37.8 L333.2,37.6 L333.8,37.4 L334.4,37.2 L335.0,37.1 L335.5,37.0 L336.2,36.8 L336.8,36.7 L337.5,36.5 L338.0,36.4 L338.7,36.2 L339.2,36.2 L340.0,36.1 L340.5,36.0 L341.2,35.9 L342.0,35.8 L342.5,35.7 L343.2,35.6 L344.0,35.6 L344.8,35.6 L345.5,35.6 L346.2,35.7 L346.9,35.8 L347.5,35.8 L348.2,35.9 L348.8,36.1 L349.2,36.3 L349.8,36.6 L350.2,37.0 L350.5,37.3 L350.8,37.8 L351.0,38.3 L351.2,39.0 L351.3,39.5 L351.4,40.2 L351.4,41.0 L351.4,41.8 L351.4,42.5 L351.4,43.2 L351.3,44.0 L351.2,44.5 L351.0,45.1 L350.8,45.8 L350.6,46.2 L350.4,46.8 L350.1,47.2 L349.8,47.6 L349.4,48.0 L349.0,48.4 L348.6,48.8 L348.2,49.0 L347.5,49.2 L347.0,49.4 L346.5,49.5 L345.8,49.7 L345.5,49.8Z" fill="none" stroke="#5e5e5e" stroke-width="0.7"/><path d="M345.5,48.0 L344.8,48.1 L344.0,48.1 L343.5,48.0 L342.8,47.8 L342.2,47.7 L341.6,47.5 L341.0,47.3 L340.5,47.1 L340.0,46.9 L339.5,46.7 L338.9,46.5 L338.3,46.2 L337.8,46.0 L337.2,45.8 L336.8,45.6 L336.2,45.4 L335.8,45.2 L335.2,45.0 L334.6,44.8 L334.0,44.5 L333.6,44.2 L333.1,44.0 L332.6,43.8 L332.2,43.5 L331.8,43.2 L331.2,42.9 L330.8,42.7 L330.3,42.2 L330.1,41.8 L330.4,41.2 L330.8,41.0 L331.2,40.6 L331.8,40.3 L332.2,40.0 L332.6,39.8 L333.0,39.5 L333.5,39.2 L334.2,39.0 L334.8,38.8 L335.2,38.7 L335.9,38.5 L336.5,38.3 L337.0,38.2 L337.8,38.0 L338.2,37.9 L338.9,37.8 L339.5,37.6 L340.2,37.5 L340.8,37.4 L341.5,37.3 L342.1,37.2 L342.8,37.2 L343.5,37.1 L344.2,37.1 L345.0,37.1 L345.8,37.2 L346.2,37.3 L347.0,37.4 L347.5,37.5 L348.0,37.8 L348.5,38.2 L348.8,38.5 L349.1,39.0 L349.3,39.5 L349.5,40.2 L349.6,40.8 L349.6,41.5 L349.6,42.2 L349.6,43.0 L349.4,43.5 L349.2,44.2 L349.1,44.8 L348.9,45.2 L348.7,45.8 L348.4,46.2 L348.0,46.7 L347.8,47.0 L347.2,47.4 L346.8,47.7 L346.2,47.8 L345.6,48.0 L345.5,48.0Z" fill="none" stroke="#5e5e5e" stroke-width="0.7"/><path d="M345.0,46.5 L344.2,46.6 L343.5,46.6 L343.0,46.5 L342.2,46.3 L341.8,46.1 L341.2,46.0 L340.7,45.8 L340.1,45.5 L339.5,45.3 L339.0,45.1 L338.5,44.9 L338.0,44.7 L337.5,44.5 L336.9,44.2 L336.4,44.0 L335.9,43.8 L335.4,43.5 L335.0,43.2 L334.5,43.0 L334.0,42.7 L333.6,42.2 L333.8,41.5 L334.1,41.2 L334.5,41.0 L335.0,40.6 L335.5,40.3 L336.0,40.1 L336.5,39.9 L337.0,39.7 L337.8,39.5 L338.2,39.4 L338.9,39.2 L339.5,39.1 L340.0,39.0 L340.8,38.9 L341.4,38.8 L342.0,38.7 L342.8,38.6 L343.5,38.6 L344.2,38.6 L345.0,38.6 L345.8,38.7 L346.2,38.9 L346.8,39.2 L347.1,39.5 L347.4,40.0 L347.6,40.5 L347.8,41.0 L347.8,41.8 L347.7,42.2 L347.6,43.0 L347.5,43.8 L347.4,44.2 L347.2,44.8 L346.9,45.2 L346.5,45.7 L346.2,46.0 L345.7,46.2 L345.0,46.5 L345.0,46.5Z" fill="none" stroke="#5e5e5e" stroke-width="0.7"/><path d="M343.8,45.3 L343.2,45.2 L342.5,45.1 L342.0,44.9 L341.4,44.8 L340.8,44.5 L340.2,44.3 L339.8,44.1 L339.2,43.9 L338.8,43.7 L338.2,43.4 L337.8,43.2 L337.2,42.8 L336.9,42.5 L336.9,41.8 L337.2,41.4 L337.8,41.1 L338.2,40.8 L338.8,40.7 L339.4,40.5 L340.0,40.3 L340.5,40.2 L341.2,40.1 L341.8,40.0 L342.5,39.9 L343.2,39.9 L344.0,39.9 L344.8,40.0 L345.2,40.2 L345.6,40.5 L345.9,41.0 L346.1,41.5 L346.1,42.2 L346.1,43.0 L345.9,43.5 L345.7,44.0 L345.4,44.5 L345.0,44.8 L344.5,45.1 L343.9,45.2 L343.8,45.3Z" fill="none" stroke="#5e5e5e" stroke-width="0.7"/><path d="M343.2,43.8 L342.5,43.8 L342.0,43.6 L341.5,43.4 L341.0,43.2 L340.5,43.0 L340.0,42.5 L340.0,42.2 L340.4,41.8 L341.0,41.5 L341.5,41.3 L342.0,41.2 L342.8,41.1 L343.5,41.2 L344.0,41.5 L344.2,41.9 L344.3,42.5 L344.2,43.0 L343.9,43.5 L343.4,43.8 L343.2,43.8Z" fill="none" stroke="#5e5e5e" stroke-width="0.7"/><path d="M351.8,64.8 L351.0,64.9 L350.2,64.9 L349.5,64.8 L349.0,64.7 L348.2,64.5 L347.8,64.3 L347.2,64.0 L346.8,63.8 L346.5,63.5 L346.0,63.0 L345.8,62.7 L345.5,62.2 L345.2,61.6 L345.2,61.0 L345.2,60.2 L345.2,59.7 L345.5,59.2 L345.8,58.7 L346.1,58.2 L346.5,57.9 L347.0,57.5 L347.5,57.2 L348.0,57.0 L348.5,56.8 L349.0,56.7 L349.8,56.6 L350.5,56.6 L351.2,56.6 L352.0,56.7 L352.5,56.8 L353.0,57.0 L353.5,57.2 L354.0,57.5 L354.5,57.9 L354.9,58.2 L355.2,58.7 L355.5,59.2 L355.8,59.7 L355.8,60.2 L355.8,61.0 L355.8,61.6 L355.5,62.2 L355.2,62.7 L355.0,63.0 L354.5,63.5 L354.2,63.8 L353.8,64.0 L353.2,64.3 L352.8,64.5 L352.0,64.7 L351.8,64.8Z" fill="none" stroke="#5e5e5e" stroke-width="0.7"/>
<ellipse cx="303.6" cy="41.1" rx="4.4" ry="6.5" fill="#777" fill-opacity="0.45"/>
<ellipse cx="303.6" cy="41.1" rx="2.6" ry="5.0" fill="#222"/>
<ellipse cx="303.6" cy="41.1" rx="1.56" ry="3.75" fill="#000"/>
</g>
<g clip-path="url(#cK)">
<g fill="#8c8c8c" fill-opacity="1.0"><rect x="341.7" y="158.5" width="0.9" height="0.9"/><rect x="355.2" y="136.4" width="0.9" height="0.9"/><rect x="354.1" y="149.6" width="0.9" height="0.9"/><rect x="345.3" y="161.6" width="0.9" height="0.9"/><rect x="315.9" y="127.3" width="0.9" height="0.9"/><rect x="356.2" y="165.7" width="0.9" height="0.9"/><rect x="327.5" y="132.0" width="0.9" height="0.9"/><rect x="348.6" y="166.6" width="0.9" height="0.9"/><rect x="340.9" y="121.2" width="0.9" height="0.9"/><rect x="334.5" y="124.0" width="0.9" height="0.9"/><rect x="352.2" y="165.3" width="0.9" height="0.9"/><rect x="335.5" y="126.5" width="0.9" height="0.9"/><rect x="314.2" y="128.0" width="0.9" height="0.9"/><rect x="347.7" y="166.5" width="0.9" height="0.9"/><rect x="356.9" y="130.7" width="0.9" height="0.9"/><rect x="315.0" y="126.6" width="0.9" height="0.9"/><rect x="335.7" y="152.1" width="0.9" height="0.9"/><rect x="327.6" y="146.0" width="0.9" height="0.9"/><rect x="352.7" y="148.0" width="0.9" height="0.9"/><rect x="343.9" y="161.3" width="0.9" height="0.9"/><rect x="358.7" y="148.8" width="0.9" height="0.9"/><rect x="330.2" y="146.7" width="0.9" height="0.9"/><rect x="336.5" y="123.8" width="0.9" height="0.9"/><rect x="348.6" y="147.9" width="0.9" height="0.9"/><rect x="349.0" y="125.1" width="0.9" height="0.9"/><rect x="339.3" y="158.6" width="0.9" height="0.9"/><rect x="342.3" y="142.8" width="0.9" height="0.9"/><rect x="357.5" y="159.3" width="0.9" height="0.9"/><rect x="343.9" y="118.4" width="0.9" height="0.9"/><rect x="355.2" y="133.0" width="0.9" height="0.9"/><rect x="330.5" y="150.7" width="0.9" height="0.9"/><rect x="345.3" y="126.9" width="0.9" height="0.9"/><rect x="356.4" y="159.2" width="0.9" height="0.9"/><rect x="340.7" y="163.0" width="0.9" height="0.9"/><rect x="352.5" y="124.4" width="0.9" height="0.9"/><rect x="338.3" y="152.4" width="0.9" height="0.9"/><rect x="356.6" y="121.4" width="0.9" height="0.9"/><rect x="349.6" y="147.1" width="0.9" height="0.9"/><rect x="336.3" y="131.3" width="0.9" height="0.9"/><rect x="329.7" y="122.4" width="0.9" height="0.9"/><rect x="345.2" y="123.7" width="0.9" height="0.9"/><rect x="357.2" y="138.8" width="0.9" height="0.9"/><rect x="347.6" y="166.5" width="0.9" height="0.9"/><rect x="339.0" y="150.6" width="0.9" height="0.9"/><rect x="354.7" y="135.4" width="0.9" height="0.9"/><rect x="342.0" y="162.2" width="0.9" height="0.9"/><rect x="344.4" y="142.1" width="0.9" height="0.9"/><rect x="341.0" y="164.9" width="0.9" height="0.9"/><rect x="351.5" y="154.3" width="0.9" height="0.9"/><rect x="331.0" y="136.0" width="0.9" height="0.9"/><rect x="334.5" y="134.3" width="0.9" height="0.9"/><rect x="351.4" y="124.8" width="0.9" height="0.9"/><rect x="340.7" y="128.1" width="0.9" height="0.9"/><rect x="342.0" y="164.4" width="0.9" height="0.9"/><rect x="339.6" y="157.8" width="0.9" height="0.9"/><rect x="357.7" y="163.2" width="0.9" height="0.9"/><rect x="317.6" y="131.7" width="0.9" height="0.9"/><rect x="304.3" y="136.4" width="0.9" height="0.9"/><rect x="324.8" y="130.3" width="0.9" height="0.9"/><rect x="339.5" y="139.4" width="0.9" height="0.9"/><rect x="350.7" y="156.0" width="0.9" height="0.9"/><rect x="327.4" y="130.6" width="0.9" height="0.9"/><rect x="360.9" y="154.6" width="0.9" height="0.9"/><rect x="343.4" y="121.9" width="0.9" height="0.9"/><rect x="365.6" y="151.7" width="0.9" height="0.9"/><rect x="339.0" y="160.4" width="0.9" height="0.9"/><rect x="359.2" y="145.1" width="0.9" height="0.9"/><rect x="359.2" y="155.3" width="0.9" height="0.9"/><rect x="349.6" y="167.1" width="0.9" height="0.9"/><rect x="333.2" y="130.6" width="0.9" height="0.9"/><rect x="358.1" y="139.4" width="0.9" height="0.9"/><rect x="316.6" y="122.8" width="0.9" height="0.9"/><rect x="358.2" y="151.2" width="0.9" height="0.9"/><rect x="355.8" y="165.3" width="0.9" height="0.9"/><rect x="344.9" y="124.0" width="0.9" height="0.9"/><rect x="324.9" y="144.0" width="0.9" height="0.9"/><rect x="355.1" y="163.6" width="0.9" height="0.9"/><rect x="359.5" y="153.7" width="0.9" height="0.9"/><rect x="351.2" y="166.5" width="0.9" height="0.9"/><rect x="339.1" y="157.7" width="0.9" height="0.9"/><rect x="316.0" y="139.1" width="0.9" height="0.9"/><rect x="357.9" y="151.0" width="0.9" height="0.9"/><rect x="340.5" y="168.9" width="0.9" height="0.9"/><rect x="345.6" y="151.3" width="0.9" height="0.9"/><rect x="356.7" y="140.4" width="0.9" height="0.9"/><rect x="349.2" y="124.4" width="0.9" height="0.9"/><rect x="316.6" y="129.0" width="0.9" height="0.9"/><rect x="356.5" y="134.9" width="0.9" height="0.9"/><rect x="324.3" y="130.5" width="0.9" height="0.9"/><rect x="322.3" y="146.0" width="0.9" height="0.9"/><rect x="355.4" y="136.9" width="0.9" height="0.9"/><rect x="350.7" y="126.7" width="0.9" height="0.9"/><rect x="356.5" y="134.5" width="0.9" height="0.9"/><rect x="330.9" y="132.1" width="0.9" height="0.9"/><rect x="351.4" y="160.3" width="0.9" height="0.9"/><rect x="328.5" y="140.1" width="0.9" height="0.9"/><rect x="342.9" y="168.5" width="0.9" height="0.9"/><rect x="338.1" y="123.1" width="0.9" height="0.9"/><rect x="346.0" y="143.7" width="0.9" height="0.9"/><rect x="335.9" y="149.1" width="0.9" height="0.9"/><rect x="361.0" y="161.2" width="0.9" height="0.9"/><rect x="323.3" y="126.4" width="0.9" height="0.9"/><rect x="356.0" y="125.6" width="0.9" height="0.9"/><rect x="328.9" y="125.4" width="0.9" height="0.9"/><rect x="354.7" y="159.1" width="0.9" height="0.9"/><rect x="331.1" y="140.4" width="0.9" height="0.9"/><rect x="353.3" y="144.5" width="0.9" height="0.9"/><rect x="352.2" y="159.3" width="0.9" height="0.9"/><rect x="332.9" y="149.1" width="0.9" height="0.9"/><rect x="334.4" y="130.3" width="0.9" height="0.9"/><rect x="312.0" y="133.5" width="0.9" height="0.9"/><rect x="351.8" y="156.8" width="0.9" height="0.9"/><rect x="344.0" y="167.0" width="0.9" height="0.9"/><rect x="359.1" y="154.8" width="0.9" height="0.9"/><rect x="341.3" y="152.5" width="0.9" height="0.9"/><rect x="339.8" y="165.1" width="0.9" height="0.9"/><rect x="335.4" y="131.1" width="0.9" height="0.9"/><rect x="358.4" y="159.8" width="0.9" height="0.9"/><rect x="329.8" y="147.6" width="0.9" height="0.9"/><rect x="356.9" y="163.4" width="0.9" height="0.9"/><rect x="357.8" y="148.8" width="0.9" height="0.9"/><rect x="354.0" y="137.8" width="0.9" height="0.9"/><rect x="339.3" y="137.3" width="0.9" height="0.9"/><rect x="343.9" y="137.6" width="0.9" height="0.9"/><rect x="349.9" y="152.1" width="0.9" height="0.9"/><rect x="325.4" y="145.1" width="0.9" height="0.9"/><rect x="321.0" y="130.2" width="0.9" height="0.9"/><rect x="340.6" y="134.2" width="0.9" height="0.9"/><rect x="325.9" y="125.0" width="0.9" height="0.9"/><rect x="341.5" y="123.8" width="0.9" height="0.9"/><rect x="341.5" y="126.9" width="0.9" height="0.9"/><rect x="331.7" y="136.8" width="0.9" height="0.9"/><rect x="333.6" y="118.4" width="0.9" height="0.9"/><rect x="346.5" y="135.5" width="0.9" height="0.9"/><rect x="353.1" y="134.5" width="0.9" height="0.9"/><rect x="360.6" y="130.7" width="0.9" height="0.9"/><rect x="355.8" y="150.4" width="0.9" height="0.9"/><rect x="332.8" y="121.1" width="0.9" height="0.9"/><rect x="331.1" y="149.0" width="0.9" height="0.9"/><rect x="344.8" y="165.0" width="0.9" height="0.9"/><rect x="338.9" y="148.1" width="0.9" height="0.9"/><rect x="327.7" y="124.9" width="0.9" height="0.9"/><rect x="318.7" y="142.5" width="0.9" height="0.9"/><rect x="329.9" y="138.6" width="0.9" height="0.9"/><rect x="356.4" y="134.8" width="0.9" height="0.9"/><rect x="355.7" y="140.8" width="0.9" height="0.9"/><rect x="363.5" y="143.6" width="0.9" height="0.9"/><rect x="329.0" y="122.6" width="0.9" height="0.9"/><rect x="319.2" y="124.0" width="0.9" height="0.9"/><rect x="357.5" y="127.5" width="0.9" height="0.9"/><rect x="351.3" y="132.1" width="0.9" height="0.9"/><rect x="361.2" y="158.8" width="0.9" height="0.9"/><rect x="341.7" y="121.7" width="0.9" height="0.9"/><rect x="356.8" y="142.0" width="0.9" height="0.9"/><rect x="358.0" y="163.2" width="0.9" height="0.9"/><rect x="357.7" y="140.0" width="0.9" height="0.9"/><rect x="362.4" y="150.4" width="0.9" height="0.9"/><rect x="339.9" y="158.1" width="0.9" height="0.9"/><rect x="312.6" y="132.5" width="0.9" height="0.9"/><rect x="327.1" y="125.9" width="0.9" height="0.9"/><rect x="308.8" y="128.3" width="0.9" height="0.9"/><rect x="353.8" y="117.0" width="0.9" height="0.9"/><rect x="360.2" y="157.7" width="0.9" height="0.9"/><rect x="309.9" y="126.2" width="0.9" height="0.9"/><rect x="354.8" y="125.0" width="0.9" height="0.9"/><rect x="350.5" y="167.0" width="0.9" height="0.9"/><rect x="331.2" y="125.4" width="0.9" height="0.9"/><rect x="359.5" y="157.9" width="0.9" height="0.9"/><rect x="348.7" y="166.4" width="0.9" height="0.9"/><rect x="350.5" y="133.3" width="0.9" height="0.9"/><rect x="337.6" y="120.3" width="0.9" height="0.9"/><rect x="344.2" y="144.6" width="0.9" height="0.9"/><rect x="343.5" y="161.0" width="0.9" height="0.9"/><rect x="341.8" y="164.7" width="0.9" height="0.9"/><rect x="338.6" y="162.1" width="0.9" height="0.9"/><rect x="356.1" y="127.7" width="0.9" height="0.9"/><rect x="338.0" y="157.9" width="0.9" height="0.9"/><rect x="320.3" y="141.4" width="0.9" height="0.9"/><rect x="355.0" y="149.6" width="0.9" height="0.9"/><rect x="348.1" y="148.4" width="0.9" height="0.9"/><rect x="356.8" y="162.9" width="0.9" height="0.9"/><rect x="349.1" y="167.5" width="0.9" height="0.9"/><rect x="363.3" y="146.8" width="0.9" height="0.9"/><rect x="349.6" y="166.5" width="0.9" height="0.9"/><rect x="358.9" y="133.6" width="0.9" height="0.9"/><rect x="355.0" y="125.4" width="0.9" height="0.9"/><rect x="332.6" y="136.2" width="0.9" height="0.9"/><rect x="338.5" y="122.6" width="0.9" height="0.9"/><rect x="322.6" y="140.1" width="0.9" height="0.9"/><rect x="305.0" y="135.5" width="0.9" height="0.9"/><rect x="356.9" y="129.3" width="0.9" height="0.9"/><rect x="360.0" y="156.9" width="0.9" height="0.9"/><rect x="315.8" y="133.9" width="0.9" height="0.9"/><rect x="358.5" y="141.2" width="0.9" height="0.9"/><rect x="322.5" y="137.7" width="0.9" height="0.9"/><rect x="328.5" y="146.1" width="0.9" height="0.9"/><rect x="321.4" y="143.2" width="0.9" height="0.9"/><rect x="360.7" y="162.3" width="0.9" height="0.9"/><rect x="341.3" y="136.7" width="0.9" height="0.9"/><rect x="332.1" y="143.6" width="0.9" height="0.9"/><rect x="351.8" y="144.8" width="0.9" height="0.9"/><rect x="357.9" y="148.5" width="0.9" height="0.9"/><rect x="351.0" y="166.7" width="0.9" height="0.9"/><rect x="352.7" y="164.0" width="0.9" height="0.9"/><rect x="342.7" y="164.7" width="0.9" height="0.9"/><rect x="358.3" y="159.0" width="0.9" height="0.9"/><rect x="339.8" y="157.5" width="0.9" height="0.9"/><rect x="346.1" y="118.8" width="0.9" height="0.9"/><rect x="332.1" y="124.4" width="0.9" height="0.9"/><rect x="360.2" y="153.4" width="0.9" height="0.9"/><rect x="349.8" y="158.9" width="0.9" height="0.9"/><rect x="357.9" y="140.9" width="0.9" height="0.9"/><rect x="347.9" y="121.7" width="0.9" height="0.9"/><rect x="351.4" y="168.4" width="0.9" height="0.9"/><rect x="349.4" y="133.1" width="0.9" height="0.9"/><rect x="338.0" y="126.4" width="0.9" height="0.9"/><rect x="358.3" y="140.9" width="0.9" height="0.9"/><rect x="353.4" y="166.2" width="0.9" height="0.9"/><rect x="351.1" y="128.9" width="0.9" height="0.9"/><rect x="333.6" y="149.5" width="0.9" height="0.9"/><rect x="340.5" y="121.5" width="0.9" height="0.9"/><rect x="361.4" y="158.7" width="0.9" height="0.9"/><rect x="336.5" y="124.7" width="0.9" height="0.9"/><rect x="352.1" y="124.1" width="0.9" height="0.9"/><rect x="356.4" y="132.9" width="0.9" height="0.9"/><rect x="347.0" y="159.8" width="0.9" height="0.9"/><rect x="337.2" y="133.0" width="0.9" height="0.9"/><rect x="349.0" y="160.8" width="0.9" height="0.9"/><rect x="336.3" y="120.4" width="0.9" height="0.9"/><rect x="353.3" y="166.7" width="0.9" height="0.9"/><rect x="359.9" y="128.9" width="0.9" height="0.9"/><rect x="353.8" y="163.6" width="0.9" height="0.9"/><rect x="348.6" y="122.9" width="0.9" height="0.9"/><rect x="326.2" y="131.9" width="0.9" height="0.9"/><rect x="347.0" y="142.6" width="0.9" height="0.9"/><rect x="337.4" y="135.1" width="0.9" height="0.9"/><rect x="356.7" y="137.4" width="0.9" height="0.9"/><rect x="352.3" y="133.8" width="0.9" height="0.9"/><rect x="346.3" y="139.1" width="0.9" height="0.9"/><rect x="335.5" y="135.6" width="0.9" height="0.9"/><rect x="345.0" y="122.8" width="0.9" height="0.9"/><rect x="331.7" y="124.2" width="0.9" height="0.9"/><rect x="311.9" y="141.4" width="0.9" height="0.9"/><rect x="324.5" y="143.9" width="0.9" height="0.9"/><rect x="352.6" y="147.1" width="0.9" height="0.9"/><rect x="343.9" y="164.5" width="0.9" height="0.9"/><rect x="341.3" y="124.3" width="0.9" height="0.9"/><rect x="359.6" y="158.9" width="0.9" height="0.9"/><rect x="359.5" y="153.1" width="0.9" height="0.9"/><rect x="357.9" y="143.6" width="0.9" height="0.9"/><rect x="338.4" y="137.6" width="0.9" height="0.9"/><rect x="339.6" y="149.4" width="0.9" height="0.9"/><rect x="359.3" y="161.7" width="0.9" height="0.9"/><rect x="351.4" y="131.4" width="0.9" height="0.9"/><rect x="361.0" y="160.1" width="0.9" height="0.9"/><rect x="348.2" y="154.9" width="0.9" height="0.9"/><rect x="317.4" y="134.4" width="0.9" height="0.9"/><rect x="355.0" y="129.4" width="0.9" height="0.9"/><rect x="330.5" y="145.7" width="0.9" height="0.9"/><rect x="322.9" y="125.0" width="0.9" height="0.9"/><rect x="332.6" y="146.2" width="0.9" height="0.9"/><rect x="358.9" y="158.2" width="0.9" height="0.9"/><rect x="340.3" y="161.3" width="0.9" height="0.9"/><rect x="357.0" y="129.7" width="0.9" height="0.9"/><rect x="353.4" y="166.2" width="0.9" height="0.9"/><rect x="338.5" y="140.8" width="0.9" height="0.9"/><rect x="341.1" y="161.0" width="0.9" height="0.9"/><rect x="309.5" y="142.3" width="0.9" height="0.9"/><rect x="353.1" y="166.9" width="0.9" height="0.9"/><rect x="322.5" y="131.1" width="0.9" height="0.9"/><rect x="348.0" y="164.8" width="0.9" height="0.9"/><rect x="359.8" y="152.7" width="0.9" height="0.9"/><rect x="353.5" y="127.2" width="0.9" height="0.9"/><rect x="328.2" y="137.6" width="0.9" height="0.9"/><rect x="362.3" y="159.4" width="0.9" height="0.9"/><rect x="348.6" y="149.1" width="0.9" height="0.9"/><rect x="350.2" y="123.5" width="0.9" height="0.9"/><rect x="327.5" y="146.1" width="0.9" height="0.9"/><rect x="357.7" y="154.6" width="0.9" height="0.9"/><rect x="339.4" y="157.1" width="0.9" height="0.9"/><rect x="319.9" y="143.1" width="0.9" height="0.9"/><rect x="361.0" y="151.5" width="0.9" height="0.9"/><rect x="353.8" y="160.1" width="0.9" height="0.9"/><rect x="330.5" y="124.1" width="0.9" height="0.9"/><rect x="324.8" y="140.1" width="0.9" height="0.9"/><rect x="325.2" y="135.4" width="0.9" height="0.9"/><rect x="305.5" y="133.4" width="0.9" height="0.9"/><rect x="356.0" y="132.1" width="0.9" height="0.9"/><rect x="336.3" y="121.6" width="0.9" height="0.9"/><rect x="341.0" y="151.9" width="0.9" height="0.9"/><rect x="348.3" y="128.8" width="0.9" height="0.9"/><rect x="344.1" y="152.7" width="0.9" height="0.9"/><rect x="344.1" y="126.7" width="0.9" height="0.9"/><rect x="338.4" y="139.7" width="0.9" height="0.9"/><rect x="345.9" y="166.1" width="0.9" height="0.9"/><rect x="316.8" y="120.0" width="0.9" height="0.9"/><rect x="323.2" y="143.5" width="0.9" height="0.9"/><rect x="345.1" y="126.9" width="0.9" height="0.9"/><rect x="361.9" y="157.1" width="0.9" height="0.9"/><rect x="351.1" y="148.0" width="0.9" height="0.9"/><rect x="346.6" y="153.4" width="0.9" height="0.9"/><rect x="341.5" y="150.7" width="0.9" height="0.9"/><rect x="340.8" y="153.8" width="0.9" height="0.9"/><rect x="322.8" y="129.6" width="0.9" height="0.9"/><rect x="350.6" y="121.2" width="0.9" height="0.9"/><rect x="330.8" y="124.5" width="0.9" height="0.9"/><rect x="330.4" y="125.3" width="0.9" height="0.9"/><rect x="345.4" y="146.6" width="0.9" height="0.9"/><rect x="356.5" y="161.0" width="0.9" height="0.9"/><rect x="360.5" y="161.6" width="0.9" height="0.9"/><rect x="358.3" y="167.7" width="0.9" height="0.9"/><rect x="352.9" y="138.8" width="0.9" height="0.9"/><rect x="319.8" y="134.2" width="0.9" height="0.9"/><rect x="359.3" y="142.5" width="0.9" height="0.9"/><rect x="337.0" y="126.5" width="0.9" height="0.9"/><rect x="347.5" y="121.9" width="0.9" height="0.9"/><rect x="354.9" y="167.9" width="0.9" height="0.9"/><rect x="328.4" y="137.1" width="0.9" height="0.9"/><rect x="345.3" y="169.4" width="0.9" height="0.9"/><rect x="349.0" y="124.4" width="0.9" height="0.9"/><rect x="332.3" y="152.1" width="0.9" height="0.9"/><rect x="339.5" y="156.7" width="0.9" height="0.9"/><rect x="347.2" y="161.1" width="0.9" height="0.9"/><rect x="348.7" y="124.4" width="0.9" height="0.9"/><rect x="327.0" y="124.5" width="0.9" height="0.9"/><rect x="360.1" y="159.5" width="0.9" height="0.9"/><rect x="341.5" y="154.4" width="0.9" height="0.9"/><rect x="351.5" y="159.4" width="0.9" height="0.9"/><rect x="328.9" y="120.8" width="0.9" height="0.9"/><rect x="331.5" y="119.9" width="0.9" height="0.9"/><rect x="345.1" y="125.7" width="0.9" height="0.9"/><rect x="341.4" y="154.8" width="0.9" height="0.9"/><rect x="334.3" y="128.0" width="0.9" height="0.9"/><rect x="337.7" y="150.0" width="0.9" height="0.9"/><rect x="353.2" y="166.4" width="0.9" height="0.9"/><rect x="345.1" y="123.8" width="0.9" height="0.9"/><rect x="339.2" y="119.9" width="0.9" height="0.9"/><rect x="324.2" y="144.6" width="0.9" height="0.9"/><rect x="344.5" y="121.8" width="0.9" height="0.9"/><rect x="344.4" y="130.9" width="0.9" height="0.9"/><rect x="339.6" y="147.7" width="0.9" height="0.9"/><rect x="331.4" y="142.1" width="0.9" height="0.9"/><rect x="349.5" y="132.6" width="0.9" height="0.9"/><rect x="344.3" y="164.7" width="0.9" height="0.9"/><rect x="341.9" y="130.8" width="0.9" height="0.9"/><rect x="330.7" y="147.0" width="0.9" height="0.9"/><rect x="326.0" y="145.0" width="0.9" height="0.9"/><rect x="353.7" y="168.7" width="0.9" height="0.9"/><rect x="340.3" y="153.8" width="0.9" height="0.9"/><rect x="350.2" y="151.1" width="0.9" height="0.9"/><rect x="352.2" y="125.8" width="0.9" height="0.9"/><rect x="343.0" y="123.9" width="0.9" height="0.9"/><rect x="345.7" y="126.4" width="0.9" height="0.9"/><rect x="361.6" y="151.7" width="0.9" height="0.9"/><rect x="356.0" y="132.2" width="0.9" height="0.9"/><rect x="361.3" y="150.4" width="0.9" height="0.9"/><rect x="356.2" y="141.1" width="0.9" height="0.9"/><rect x="347.4" y="167.7" width="0.9" height="0.9"/><rect x="342.5" y="127.0" width="0.9" height="0.9"/><rect x="345.8" y="133.1" width="0.9" height="0.9"/><rect x="344.4" y="146.8" width="0.9" height="0.9"/><rect x="338.4" y="121.3" width="0.9" height="0.9"/><rect x="356.0" y="143.7" width="0.9" height="0.9"/><rect x="346.7" y="166.5" width="0.9" height="0.9"/><rect x="353.0" y="130.0" width="0.9" height="0.9"/><rect x="348.8" y="151.6" width="0.9" height="0.9"/><rect x="359.9" y="158.3" width="0.9" height="0.9"/><rect x="340.1" y="136.2" width="0.9" height="0.9"/><rect x="356.7" y="137.7" width="0.9" height="0.9"/><rect x="353.8" y="168.8" width="0.9" height="0.9"/><rect x="339.7" y="169.4" width="0.9" height="0.9"/><rect x="347.1" y="168.2" width="0.9" height="0.9"/><rect x="332.5" y="148.5" width="0.9" height="0.9"/><rect x="326.6" y="127.5" width="0.9" height="0.9"/><rect x="353.8" y="126.7" width="0.9" height="0.9"/><rect x="334.9" y="122.3" width="0.9" height="0.9"/><rect x="337.8" y="146.2" width="0.9" height="0.9"/><rect x="357.8" y="129.7" width="0.9" height="0.9"/><rect x="324.5" y="144.3" width="0.9" height="0.9"/><rect x="341.0" y="139.5" width="0.9" height="0.9"/><rect x="355.7" y="167.8" width="0.9" height="0.9"/><rect x="330.0" y="144.5" width="0.9" height="0.9"/><rect x="351.6" y="124.8" width="0.9" height="0.9"/><rect x="351.0" y="139.3" width="0.9" height="0.9"/><rect x="346.6" y="166.9" width="0.9" height="0.9"/><rect x="356.6" y="143.4" width="0.9" height="0.9"/><rect x="349.2" y="121.6" width="0.9" height="0.9"/><rect x="332.9" y="136.8" width="0.9" height="0.9"/><rect x="322.0" y="138.3" width="0.9" height="0.9"/><rect x="331.2" y="121.3" width="0.9" height="0.9"/><rect x="342.2" y="136.8" width="0.9" height="0.9"/><rect x="337.1" y="131.4" width="0.9" height="0.9"/><rect x="351.4" y="145.6" width="0.9" height="0.9"/><rect x="305.7" y="133.0" width="0.9" height="0.9"/><rect x="358.8" y="161.1" width="0.9" height="0.9"/><rect x="331.7" y="118.5" width="0.9" height="0.9"/><rect x="337.5" y="123.0" width="0.9" height="0.9"/><rect x="336.9" y="132.2" width="0.9" height="0.9"/><rect x="327.6" y="141.0" width="0.9" height="0.9"/><rect x="354.2" y="161.1" width="0.9" height="0.9"/><rect x="355.7" y="166.5" width="0.9" height="0.9"/><rect x="349.1" y="162.1" width="0.9" height="0.9"/><rect x="304.5" y="133.9" width="0.9" height="0.9"/><rect x="334.1" y="123.2" width="0.9" height="0.9"/><rect x="343.9" y="165.9" width="0.9" height="0.9"/><rect x="340.9" y="140.0" width="0.9" height="0.9"/><rect x="353.2" y="122.8" width="0.9" height="0.9"/><rect x="357.2" y="144.2" width="0.9" height="0.9"/><rect x="330.2" y="140.5" width="0.9" height="0.9"/><rect x="350.3" y="163.8" width="0.9" height="0.9"/><rect x="337.1" y="162.5" width="0.9" height="0.9"/><rect x="354.2" y="152.4" width="0.9" height="0.9"/><rect x="344.4" y="156.0" width="0.9" height="0.9"/><rect x="336.8" y="151.4" width="0.9" height="0.9"/><rect x="344.2" y="129.6" width="0.9" height="0.9"/><rect x="322.0" y="141.0" width="0.9" height="0.9"/><rect x="359.4" y="158.7" width="0.9" height="0.9"/><rect x="319.1" y="127.9" width="0.9" height="0.9"/><rect x="331.8" y="122.9" width="0.9" height="0.9"/><rect x="350.5" y="155.6" width="0.9" height="0.9"/><rect x="329.0" y="131.2" width="0.9" height="0.9"/><rect x="350.9" y="169.7" width="0.9" height="0.9"/><rect x="331.0" y="143.9" width="0.9" height="0.9"/><rect x="343.3" y="132.2" width="0.9" height="0.9"/><rect x="330.3" y="146.7" width="0.9" height="0.9"/><rect x="338.4" y="122.3" width="0.9" height="0.9"/><rect x="329.6" y="137.2" width="0.9" height="0.9"/><rect x="342.4" y="124.4" width="0.9" height="0.9"/><rect x="322.5" y="145.3" width="0.9" height="0.9"/><rect x="359.9" y="146.6" width="0.9" height="0.9"/><rect x="355.7" y="160.1" width="0.9" height="0.9"/><rect x="348.3" y="122.8" width="0.9" height="0.9"/><rect x="360.6" y="155.8" width="0.9" height="0.9"/><rect x="351.3" y="144.0" width="0.9" height="0.9"/><rect x="357.0" y="157.2" width="0.9" height="0.9"/><rect x="336.8" y="162.7" width="0.9" height="0.9"/><rect x="357.8" y="131.8" width="0.9" height="0.9"/><rect x="357.2" y="163.6" width="0.9" height="0.9"/><rect x="359.6" y="158.1" width="0.9" height="0.9"/><rect x="341.1" y="130.6" width="0.9" height="0.9"/><rect x="350.3" y="166.4" width="0.9" height="0.9"/><rect x="336.9" y="160.9" width="0.9" height="0.9"/><rect x="353.5" y="125.9" width="0.9" height="0.9"/><rect x="311.9" y="123.5" width="0.9" height="0.9"/><rect x="355.1" y="124.4" width="0.9" height="0.9"/><rect x="347.8" y="142.6" width="0.9" height="0.9"/><rect x="343.1" y="166.4" width="0.9" height="0.9"/><rect x="342.0" y="139.8" width="0.9" height="0.9"/><rect x="320.8" y="145.5" width="0.9" height="0.9"/><rect x="345.4" y="169.5" width="0.9" height="0.9"/><rect x="342.7" y="137.2" width="0.9" height="0.9"/><rect x="315.4" y="122.0" width="0.9" height="0.9"/><rect x="356.0" y="139.8" width="0.9" height="0.9"/><rect x="348.8" y="132.8" width="0.9" height="0.9"/><rect x="350.8" y="129.3" width="0.9" height="0.9"/><rect x="337.5" y="130.1" width="0.9" height="0.9"/><rect x="345.2" y="151.6" width="0.9" height="0.9"/><rect x="348.1" y="168.2" width="0.9" height="0.9"/><rect x="328.4" y="133.3" width="0.9" height="0.9"/><rect x="351.9" y="166.2" width="0.9" height="0.9"/><rect x="350.9" y="151.5" width="0.9" height="0.9"/><rect x="344.2" y="137.0" width="0.9" height="0.9"/><rect x="353.2" y="167.2" width="0.9" height="0.9"/><rect x="348.5" y="144.2" width="0.9" height="0.9"/><rect x="325.2" y="148.3" width="0.9" height="0.9"/><rect x="361.4" y="150.7" width="0.9" height="0.9"/><rect x="356.6" y="161.6" width="0.9" height="0.9"/><rect x="336.3" y="123.9" width="0.9" height="0.9"/><rect x="354.1" y="163.6" width="0.9" height="0.9"/><rect x="351.9" y="120.0" width="0.9" height="0.9"/><rect x="343.3" y="150.4" width="0.9" height="0.9"/><rect x="337.5" y="155.2" width="0.9" height="0.9"/><rect x="358.2" y="162.4" width="0.9" height="0.9"/><rect x="331.1" y="153.4" width="0.9" height="0.9"/><rect x="336.7" y="123.3" width="0.9" height="0.9"/><rect x="343.6" y="131.2" width="0.9" height="0.9"/><rect x="361.1" y="159.5" width="0.9" height="0.9"/><rect x="335.7" y="125.8" width="0.9" height="0.9"/><rect x="330.1" y="124.6" width="0.9" height="0.9"/><rect x="360.3" y="133.5" width="0.9" height="0.9"/><rect x="360.3" y="149.1" width="0.9" height="0.9"/><rect x="345.5" y="155.2" width="0.9" height="0.9"/><rect x="325.2" y="139.5" width="0.9" height="0.9"/><rect x="351.3" y="168.9" width="0.9" height="0.9"/><rect x="358.9" y="137.2" width="0.9" height="0.9"/><rect x="347.9" y="128.1" width="0.9" height="0.9"/><rect x="357.4" y="148.4" width="0.9" height="0.9"/><rect x="356.6" y="156.0" width="0.9" height="0.9"/><rect x="359.3" y="168.0" width="0.9" height="0.9"/><rect x="333.7" y="118.5" width="0.9" height="0.9"/><rect x="360.2" y="140.6" width="0.9" height="0.9"/><rect x="346.7" y="138.0" width="0.9" height="0.9"/><rect x="341.0" y="155.7" width="0.9" height="0.9"/><rect x="359.3" y="151.1" width="0.9" height="0.9"/><rect x="345.2" y="169.5" width="0.9" height="0.9"/><rect x="341.2" y="155.3" width="0.9" height="0.9"/><rect x="354.2" y="165.6" width="0.9" height="0.9"/><rect x="338.9" y="137.0" width="0.9" height="0.9"/><rect x="351.7" y="145.8" width="0.9" height="0.9"/><rect x="326.5" y="133.6" width="0.9" height="0.9"/><rect x="344.4" y="132.8" width="0.9" height="0.9"/><rect x="355.4" y="137.6" width="0.9" height="0.9"/><rect x="336.3" y="156.9" width="0.9" height="0.9"/><rect x="356.8" y="157.1" width="0.9" height="0.9"/><rect x="358.6" y="146.7" width="0.9" height="0.9"/><rect x="356.1" y="156.6" width="0.9" height="0.9"/><rect x="327.7" y="129.0" width="0.9" height="0.9"/><rect x="345.5" y="165.9" width="0.9" height="0.9"/><rect x="358.9" y="160.6" width="0.9" height="0.9"/><rect x="349.0" y="171.3" width="0.9" height="0.9"/><rect x="355.6" y="158.6" width="0.9" height="0.9"/><rect x="308.1" y="128.0" width="0.9" height="0.9"/><rect x="320.7" y="128.2" width="0.9" height="0.9"/><rect x="339.9" y="155.3" width="0.9" height="0.9"/><rect x="344.9" y="121.1" width="0.9" height="0.9"/><rect x="363.5" y="153.1" width="0.9" height="0.9"/><rect x="344.1" y="148.8" width="0.9" height="0.9"/><rect x="341.2" y="142.4" width="0.9" height="0.9"/><rect x="330.6" y="137.7" width="0.9" height="0.9"/><rect x="360.4" y="164.0" width="0.9" height="0.9"/><rect x="356.7" y="131.3" width="0.9" height="0.9"/><rect x="355.5" y="128.2" width="0.9" height="0.9"/><rect x="354.7" y="125.9" width="0.9" height="0.9"/><rect x="319.7" y="146.0" width="0.9" height="0.9"/><rect x="324.4" y="128.9" width="0.9" height="0.9"/><rect x="343.2" y="128.4" width="0.9" height="0.9"/><rect x="307.8" y="136.7" width="0.9" height="0.9"/><rect x="342.9" y="142.9" width="0.9" height="0.9"/><rect x="348.9" y="123.4" width="0.9" height="0.9"/><rect x="341.9" y="152.0" width="0.9" height="0.9"/><rect x="342.0" y="162.4" width="0.9" height="0.9"/><rect x="346.2" y="119.7" width="0.9" height="0.9"/><rect x="340.5" y="152.3" width="0.9" height="0.9"/><rect x="358.3" y="133.3" width="0.9" height="0.9"/><rect x="329.0" y="136.0" width="0.9" height="0.9"/><rect x="340.8" y="126.0" width="0.9" height="0.9"/><rect x="343.3" y="123.1" width="0.9" height="0.9"/><rect x="337.7" y="128.2" width="0.9" height="0.9"/><rect x="361.4" y="155.6" width="0.9" height="0.9"/><rect x="335.4" y="128.7" width="0.9" height="0.9"/><rect x="349.5" y="128.2" width="0.9" height="0.9"/><rect x="356.7" y="144.6" width="0.9" height="0.9"/><rect x="342.3" y="123.1" width="0.9" height="0.9"/><rect x="338.1" y="140.5" width="0.9" height="0.9"/><rect x="356.8" y="143.8" width="0.9" height="0.9"/><rect x="360.5" y="161.6" width="0.9" height="0.9"/><rect x="338.4" y="141.9" width="0.9" height="0.9"/><rect x="323.2" y="123.6" width="0.9" height="0.9"/><rect x="356.2" y="129.7" width="0.9" height="0.9"/><rect x="356.7" y="156.6" width="0.9" height="0.9"/><rect x="341.3" y="130.9" width="0.9" height="0.9"/><rect x="307.6" y="128.8" width="0.9" height="0.9"/><rect x="358.4" y="137.2" width="0.9" height="0.9"/><rect x="304.0" y="129.3" width="0.9" height="0.9"/><rect x="336.7" y="151.0" width="0.9" height="0.9"/><rect x="335.8" y="151.3" width="0.9" height="0.9"/><rect x="341.7" y="126.9" width="0.9" height="0.9"/><rect x="359.1" y="154.2" width="0.9" height="0.9"/><rect x="355.2" y="148.1" width="0.9" height="0.9"/><rect x="354.6" y="166.4" width="0.9" height="0.9"/><rect x="329.5" y="134.8" width="0.9" height="0.9"/><rect x="330.3" y="141.4" width="0.9" height="0.9"/><rect x="346.1" y="124.4" width="0.9" height="0.9"/><rect x="358.6" y="157.6" width="0.9" height="0.9"/><rect x="328.8" y="146.7" width="0.9" height="0.9"/><rect x="306.3" y="126.9" width="0.9" height="0.9"/><rect x="346.4" y="161.0" width="0.9" height="0.9"/><rect x="359.8" y="147.0" width="0.9" height="0.9"/><rect x="325.8" y="124.9" width="0.9" height="0.9"/><rect x="361.2" y="135.2" width="0.9" height="0.9"/><rect x="321.6" y="123.8" width="0.9" height="0.9"/><rect x="350.2" y="133.1" width="0.9" height="0.9"/></g>
<path d="M351.2,166.5 L350.5,166.6 L349.8,166.6 L349.0,166.5 L348.5,166.4 L347.8,166.3 L347.2,166.1 L346.8,165.9 L346.2,165.7 L345.7,165.4 L345.2,165.2 L344.8,164.9 L344.2,164.5 L343.9,164.2 L343.5,163.8 L343.2,163.4 L342.8,162.9 L342.5,162.5 L342.2,162.0 L342.0,161.5 L341.8,160.9 L341.6,160.4 L341.5,159.9 L341.3,159.2 L341.2,158.7 L341.2,157.9 L341.2,157.2 L341.3,156.7 L341.5,156.0 L341.6,155.4 L341.8,154.9 L342.0,154.3 L342.2,153.7 L342.3,153.2 L342.5,152.4 L342.5,151.7 L342.2,151.2 L341.8,150.8 L341.2,150.6 L340.6,150.4 L340.0,150.3 L339.2,150.2 L338.8,150.1 L338.1,149.9 L337.5,149.8 L337.0,149.6 L336.5,149.4 L336.0,149.1 L335.5,148.9 L335.0,148.7 L334.4,148.4 L333.8,148.2 L333.2,148.0 L332.8,147.8 L332.2,147.5 L331.8,147.3 L331.2,147.1 L330.8,146.9 L330.2,146.6 L329.8,146.4 L329.2,146.1 L328.8,145.9 L328.2,145.6 L327.8,145.4 L327.2,145.1 L326.8,144.9 L326.2,144.6 L325.8,144.4 L325.2,144.1 L324.8,143.9 L324.2,143.6 L323.8,143.4 L323.2,143.2 L322.7,142.9 L322.1,142.7 L321.6,142.4 L321.0,142.2 L320.5,142.0 L320.0,141.8 L319.5,141.5 L319.0,141.3 L318.5,141.1 L318.0,140.9 L317.5,140.7 L317.0,140.4 L316.3,140.2 L315.8,140.0 L315.2,139.9 L314.5,139.8 L313.9,139.7 L313.2,139.6 L312.5,139.5 L311.9,139.4 L311.2,139.4 L310.5,139.3 L309.9,139.2 L309.2,139.1 L308.5,139.0 L308.0,138.9 L307.2,138.7 L306.8,138.4 L306.5,137.9 L306.4,137.4 L306.4,136.7 L306.4,135.9 L306.4,135.2 L306.4,134.4 L306.4,133.7 L306.4,132.9 L306.4,132.2 L306.4,131.4 L306.5,130.8 L306.8,130.3 L307.1,129.9 L307.8,129.7 L308.2,129.6 L309.0,129.6 L309.8,129.5 L310.2,129.4 L311.0,129.4 L311.8,129.3 L312.5,129.2 L313.0,129.2 L313.8,129.1 L314.5,129.0 L315.0,128.9 L315.8,128.8 L316.4,128.7 L317.0,128.6 L317.6,128.4 L318.2,128.3 L318.8,128.2 L319.5,128.0 L320.0,127.9 L320.8,127.8 L321.2,127.7 L322.0,127.5 L322.5,127.4 L323.2,127.3 L323.8,127.2 L324.5,127.0 L325.0,126.9 L325.8,126.8 L326.3,126.7 L327.0,126.6 L327.6,126.5 L328.2,126.3 L328.9,126.2 L329.5,126.1 L330.2,126.0 L330.8,125.9 L331.5,125.8 L332.2,125.7 L332.8,125.6 L333.5,125.6 L334.2,125.5 L334.8,125.4 L335.5,125.3 L336.2,125.2 L336.8,125.2 L337.5,125.1 L338.2,125.0 L338.9,125.0 L339.5,124.9 L340.2,124.8 L341.0,124.8 L341.8,124.8 L342.5,124.8 L343.2,124.8 L343.9,124.7 L344.5,124.6 L345.2,124.6 L346.0,124.6 L346.6,124.7 L347.2,124.8 L348.0,124.9 L348.6,125.0 L349.2,125.0 L350.0,125.2 L350.5,125.3 L351.0,125.5 L351.5,125.7 L352.0,126.0 L352.5,126.3 L353.0,126.7 L353.4,127.0 L353.8,127.3 L354.1,127.7 L354.3,128.2 L354.6,128.7 L354.8,129.2 L355.0,129.8 L355.2,130.4 L355.4,130.9 L355.5,131.4 L355.6,132.2 L355.6,132.9 L355.6,133.7 L355.7,134.4 L355.7,135.2 L355.8,135.7 L355.7,136.2 L355.6,136.9 L355.6,137.7 L355.7,138.4 L355.8,138.9 L356.0,139.7 L356.1,140.2 L356.2,140.9 L356.4,141.4 L356.5,142.0 L356.7,142.7 L356.8,143.2 L356.9,143.9 L357.0,144.4 L357.2,145.2 L357.3,145.7 L357.5,146.4 L357.6,146.9 L357.8,147.5 L357.9,148.2 L358.0,148.7 L358.2,149.4 L358.3,149.9 L358.5,150.7 L358.6,151.2 L358.7,151.9 L358.8,152.4 L358.9,153.2 L358.8,153.8 L358.5,154.4 L358.4,154.9 L358.5,155.7 L358.6,156.2 L358.7,156.9 L358.8,157.4 L358.8,158.2 L358.8,158.7 L358.6,159.4 L358.5,160.1 L358.3,160.7 L358.1,161.2 L357.9,161.7 L357.7,162.2 L357.3,162.7 L357.0,163.2 L356.8,163.5 L356.3,163.9 L356.0,164.3 L355.5,164.7 L355.1,164.9 L354.8,165.2 L354.2,165.5 L353.8,165.7 L353.2,165.9 L352.5,166.2 L352.0,166.3 L351.5,166.4 L351.2,166.5Z" fill="none" stroke="#5e5e5e" stroke-width="0.7"/><path d="M344.5,148.0 L343.8,148.2 L343.0,148.2 L342.2,148.1 L341.5,148.0 L341.0,147.9 L340.2,147.8 L339.8,147.7 L339.0,147.5 L338.5,147.3 L338.0,147.2 L337.5,146.9 L336.9,146.7 L336.3,146.4 L335.8,146.2 L335.2,146.0 L334.8,145.8 L334.2,145.6 L333.8,145.4 L333.2,145.1 L332.8,144.9 L332.2,144.6 L331.8,144.4 L331.2,144.1 L330.8,143.9 L330.2,143.6 L329.8,143.4 L329.2,143.1 L328.8,142.9 L328.2,142.6 L327.8,142.4 L327.2,142.2 L326.8,141.9 L326.2,141.7 L325.6,141.4 L325.0,141.2 L324.5,141.0 L324.0,140.7 L323.5,140.5 L323.0,140.3 L322.5,140.1 L322.0,139.9 L321.5,139.7 L320.9,139.4 L320.2,139.3 L319.8,139.2 L319.0,139.1 L318.2,139.0 L317.8,138.9 L317.0,138.8 L316.2,138.7 L315.8,138.7 L315.0,138.6 L314.2,138.5 L313.8,138.3 L313.3,137.9 L313.0,137.4 L312.9,136.9 L312.9,136.2 L312.9,135.4 L312.9,134.7 L312.9,133.9 L312.9,133.2 L312.9,132.4 L313.0,131.8 L313.2,131.3 L313.8,131.0 L314.2,130.9 L315.0,130.8 L315.6,130.7 L316.2,130.6 L317.0,130.6 L317.8,130.5 L318.4,130.4 L319.0,130.4 L319.8,130.3 L320.3,130.2 L321.0,130.1 L321.6,129.9 L322.2,129.8 L322.8,129.7 L323.5,129.5 L324.0,129.4 L324.8,129.3 L325.2,129.2 L326.0,129.0 L326.5,128.9 L327.2,128.8 L327.8,128.7 L328.5,128.5 L329.0,128.4 L329.8,128.3 L330.3,128.2 L331.0,128.1 L331.7,128.0 L332.2,127.9 L333.0,127.8 L333.5,127.7 L334.2,127.6 L335.0,127.5 L335.5,127.4 L336.2,127.3 L337.0,127.3 L337.5,127.2 L338.2,127.1 L339.0,127.1 L339.8,127.0 L340.2,126.9 L341.0,126.9 L341.8,126.8 L342.5,126.8 L343.2,126.8 L344.0,126.8 L344.8,126.8 L345.5,126.8 L346.2,126.8 L347.0,126.9 L347.5,127.0 L348.2,127.1 L348.8,127.2 L349.4,127.5 L350.0,127.7 L350.4,128.0 L350.8,128.2 L351.2,128.5 L351.7,128.9 L352.0,129.4 L352.2,129.8 L352.5,130.4 L352.7,130.9 L352.9,131.4 L353.0,131.9 L353.1,132.7 L353.2,133.4 L353.2,134.1 L353.3,134.7 L353.3,135.4 L353.3,136.2 L353.2,136.7 L353.1,137.4 L353.0,137.9 L352.8,138.7 L352.7,139.2 L352.5,139.8 L352.3,140.4 L352.1,140.9 L351.9,141.4 L351.7,141.9 L351.5,142.4 L351.2,142.9 L350.9,143.4 L350.6,143.9 L350.2,144.3 L349.9,144.7 L349.5,145.1 L349.1,145.4 L348.8,145.8 L348.3,146.2 L348.0,146.5 L347.5,146.8 L347.0,147.0 L346.5,147.2 L345.9,147.4 L345.3,147.7 L344.8,147.9 L344.5,148.0Z" fill="none" stroke="#5e5e5e" stroke-width="0.7"/><path d="M350.2,164.2 L349.6,164.2 L349.0,164.1 L348.2,164.0 L347.8,163.8 L347.2,163.6 L346.8,163.4 L346.2,163.1 L345.8,162.7 L345.4,162.4 L345.0,162.1 L344.7,161.7 L344.3,161.2 L344.0,160.7 L343.8,160.3 L343.5,159.7 L343.4,159.2 L343.2,158.6 L343.2,157.9 L343.2,157.2 L343.3,156.7 L343.4,155.9 L343.6,155.4 L343.8,154.9 L344.1,154.4 L344.5,153.9 L344.8,153.6 L345.1,153.2 L345.5,152.8 L345.9,152.4 L346.2,151.9 L346.5,151.5 L346.8,151.1 L347.0,150.7 L347.4,150.2 L347.8,149.8 L348.1,149.4 L348.5,149.1 L348.9,148.7 L349.2,148.4 L349.7,147.9 L350.0,147.7 L350.5,147.3 L350.9,146.9 L351.2,146.6 L351.6,146.2 L352.0,145.8 L352.5,145.5 L353.0,145.3 L353.6,145.4 L353.9,145.9 L354.1,146.4 L354.2,147.2 L354.3,147.7 L354.5,148.4 L354.6,148.9 L354.8,149.5 L354.9,150.2 L355.0,150.7 L355.2,151.4 L355.2,152.0 L355.3,152.7 L355.5,153.4 L355.7,153.9 L355.9,154.4 L356.2,154.9 L356.4,155.4 L356.6,155.9 L356.7,156.7 L356.8,157.2 L356.8,157.9 L356.8,158.6 L356.6,159.2 L356.5,159.7 L356.2,160.3 L356.0,160.7 L355.7,161.2 L355.3,161.7 L355.0,162.1 L354.6,162.4 L354.2,162.7 L353.8,163.1 L353.2,163.4 L352.8,163.6 L352.2,163.8 L351.8,164.0 L351.0,164.1 L350.4,164.2 L350.2,164.2Z" fill="none" stroke="#5e5e5e" stroke-width="0.7"/><path d="M344.5,147.7 L343.8,147.9 L343.0,147.9 L342.2,147.8 L341.6,147.7 L341.0,147.6 L340.2,147.5 L339.8,147.4 L339.0,147.2 L338.5,147.1 L338.0,146.9 L337.5,146.6 L337.0,146.4 L336.4,146.2 L335.9,145.9 L335.3,145.7 L334.8,145.5 L334.2,145.3 L333.8,145.0 L333.2,144.8 L332.8,144.6 L332.2,144.4 L331.8,144.1 L331.2,143.9 L330.8,143.6 L330.2,143.4 L329.8,143.1 L329.2,142.9 L328.8,142.6 L328.2,142.4 L327.8,142.1 L327.2,141.9 L326.6,141.7 L326.0,141.5 L325.5,141.3 L325.0,141.2 L324.4,140.9 L323.8,140.7 L323.2,140.5 L322.8,140.2 L322.4,139.9 L322.0,139.4 L321.8,139.1 L321.4,138.7 L321.0,138.3 L320.7,137.9 L320.3,137.4 L320.0,137.1 L319.6,136.7 L319.2,136.2 L319.0,135.9 L318.7,135.4 L318.6,134.7 L318.9,134.2 L319.2,133.9 L319.8,133.5 L320.1,133.2 L320.5,132.9 L321.0,132.5 L321.3,132.2 L321.8,131.8 L322.2,131.4 L322.5,131.2 L323.0,130.8 L323.5,130.4 L323.8,130.2 L324.2,129.9 L324.8,129.7 L325.4,129.4 L326.0,129.3 L326.6,129.2 L327.2,129.1 L327.9,128.9 L328.5,128.8 L329.1,128.7 L329.8,128.6 L330.4,128.4 L331.0,128.3 L331.6,128.2 L332.2,128.1 L333.0,128.0 L333.5,127.9 L334.2,127.8 L335.0,127.7 L335.5,127.6 L336.2,127.6 L337.0,127.5 L337.5,127.4 L338.2,127.3 L339.0,127.3 L339.6,127.2 L340.2,127.1 L341.0,127.1 L341.8,127.1 L342.5,127.1 L343.2,127.1 L344.0,127.0 L344.8,127.0 L345.5,127.0 L346.2,127.1 L347.0,127.1 L347.5,127.2 L348.2,127.3 L348.9,127.5 L349.5,127.7 L349.9,128.0 L350.3,128.2 L350.8,128.5 L351.2,128.9 L351.5,129.2 L351.9,129.7 L352.1,130.2 L352.3,130.7 L352.5,131.2 L352.8,131.9 L352.8,132.4 L352.9,133.2 L352.9,133.9 L353.0,134.4 L353.1,135.2 L353.1,135.9 L353.0,136.5 L352.9,137.2 L352.8,137.8 L352.6,138.4 L352.5,139.0 L352.3,139.7 L352.1,140.2 L351.9,140.7 L351.7,141.2 L351.5,141.7 L351.2,142.2 L351.0,142.8 L350.7,143.2 L350.4,143.7 L350.0,144.1 L349.6,144.4 L349.2,144.8 L348.9,145.2 L348.5,145.6 L348.1,145.9 L347.8,146.3 L347.2,146.6 L346.8,146.8 L346.2,147.0 L345.8,147.2 L345.2,147.4 L344.5,147.7 L344.5,147.7Z" fill="none" stroke="#5e5e5e" stroke-width="0.7"/><path d="M343.8,145.5 L343.0,145.5 L342.2,145.5 L341.8,145.4 L341.0,145.3 L340.5,145.2 L339.8,145.0 L339.2,144.9 L338.8,144.7 L338.2,144.4 L337.6,144.2 L337.1,143.9 L336.5,143.7 L336.0,143.5 L335.5,143.3 L335.0,143.1 L334.5,142.9 L334.0,142.6 L333.5,142.4 L333.0,142.1 L332.5,141.9 L332.0,141.6 L331.5,141.4 L331.0,141.1 L330.5,140.9 L330.0,140.7 L329.4,140.4 L328.8,140.2 L328.2,140.1 L327.8,139.9 L327.2,139.7 L326.8,139.4 L326.2,139.0 L326.0,138.7 L325.6,138.2 L325.2,137.8 L324.9,137.4 L324.5,137.0 L324.2,136.7 L323.9,136.2 L323.5,135.7 L323.3,135.2 L323.5,134.7 L324.0,134.2 L324.3,133.9 L324.8,133.6 L325.2,133.2 L325.6,132.9 L326.0,132.6 L326.5,132.2 L326.8,131.9 L327.2,131.6 L327.8,131.2 L328.2,131.0 L328.8,130.8 L329.4,130.7 L330.0,130.6 L330.6,130.4 L331.2,130.3 L331.9,130.2 L332.5,130.1 L333.1,129.9 L333.8,129.8 L334.4,129.7 L335.0,129.6 L335.8,129.5 L336.2,129.4 L337.0,129.3 L337.8,129.3 L338.2,129.2 L339.0,129.1 L339.8,129.1 L340.5,129.0 L341.1,128.9 L341.8,128.9 L342.5,128.8 L343.2,128.8 L344.0,128.8 L344.8,128.8 L345.5,128.9 L346.0,129.0 L346.8,129.1 L347.4,129.2 L348.0,129.4 L348.5,129.7 L348.9,129.9 L349.3,130.2 L349.7,130.7 L350.0,131.1 L350.2,131.7 L350.5,132.2 L350.7,132.7 L350.8,133.2 L350.9,133.9 L350.9,134.7 L350.9,135.4 L350.9,136.2 L350.8,136.9 L350.7,137.4 L350.5,138.2 L350.4,138.7 L350.2,139.2 L350.0,139.8 L349.8,140.4 L349.5,140.9 L349.3,141.4 L349.0,141.9 L348.8,142.3 L348.4,142.7 L348.0,143.1 L347.6,143.4 L347.2,143.8 L346.8,144.2 L346.3,144.4 L345.8,144.7 L345.2,144.9 L344.8,145.1 L344.2,145.3 L343.8,145.5 L343.8,145.5Z" fill="none" stroke="#5e5e5e" stroke-width="0.7"/><path d="M343.2,143.5 L342.5,143.5 L342.0,143.4 L341.2,143.3 L340.8,143.2 L340.0,143.0 L339.5,142.8 L339.0,142.6 L338.5,142.4 L338.0,142.2 L337.4,141.9 L336.9,141.7 L336.4,141.4 L335.9,141.2 L335.4,140.9 L334.9,140.7 L334.4,140.4 L333.9,140.2 L333.3,139.9 L332.8,139.7 L332.2,139.6 L331.8,139.4 L331.2,139.2 L330.6,138.9 L330.2,138.7 L329.8,138.3 L329.4,137.9 L329.0,137.5 L328.7,137.2 L328.3,136.7 L328.0,136.3 L327.7,135.9 L327.6,135.2 L328.0,134.7 L328.3,134.4 L328.8,134.1 L329.2,133.7 L329.5,133.4 L330.0,133.0 L330.4,132.7 L330.8,132.4 L331.2,132.2 L332.0,131.9 L332.5,131.8 L333.1,131.7 L333.8,131.6 L334.4,131.4 L335.0,131.3 L335.6,131.2 L336.2,131.1 L337.0,131.0 L337.5,130.9 L338.2,130.8 L339.0,130.8 L339.5,130.7 L340.2,130.6 L341.0,130.6 L341.8,130.6 L342.5,130.5 L343.1,130.4 L343.8,130.4 L344.5,130.4 L345.0,130.5 L345.8,130.6 L346.2,130.7 L346.8,130.9 L347.3,131.2 L347.8,131.6 L348.1,131.9 L348.4,132.4 L348.6,132.9 L348.8,133.4 L348.9,134.2 L348.9,134.9 L349.0,135.4 L349.0,136.2 L348.9,136.7 L348.8,137.4 L348.6,137.9 L348.5,138.5 L348.2,139.1 L348.0,139.7 L347.8,140.2 L347.5,140.7 L347.2,141.0 L346.9,141.4 L346.5,141.8 L346.1,142.2 L345.7,142.4 L345.2,142.7 L344.8,143.0 L344.2,143.2 L343.5,143.4 L343.2,143.5Z" fill="none" stroke="#5e5e5e" stroke-width="0.7"/><path d="M343.2,141.5 L342.5,141.5 L341.8,141.5 L341.2,141.4 L340.5,141.2 L340.0,141.0 L339.5,140.8 L339.0,140.6 L338.5,140.4 L338.0,140.1 L337.5,139.9 L337.0,139.6 L336.5,139.4 L336.0,139.1 L335.5,138.9 L334.9,138.7 L334.2,138.5 L333.8,138.3 L333.2,138.0 L332.9,137.7 L332.5,137.2 L332.2,136.9 L331.9,136.4 L331.6,135.9 L331.7,135.2 L332.0,134.9 L332.5,134.4 L332.8,134.2 L333.2,133.8 L333.8,133.5 L334.2,133.2 L334.8,133.1 L335.2,132.9 L336.0,132.8 L336.5,132.7 L337.2,132.5 L337.8,132.4 L338.5,132.3 L339.2,132.3 L339.8,132.2 L340.5,132.1 L341.2,132.1 L342.0,132.1 L342.8,132.0 L343.2,131.9 L343.8,131.9 L344.5,132.0 L345.2,132.2 L345.8,132.4 L346.2,132.7 L346.5,133.0 L346.8,133.4 L347.0,134.0 L347.1,134.7 L347.2,135.4 L347.3,135.9 L347.2,136.4 L347.1,137.2 L346.9,137.7 L346.8,138.3 L346.5,138.9 L346.2,139.4 L346.0,139.8 L345.6,140.2 L345.2,140.5 L344.8,140.9 L344.2,141.1 L343.8,141.3 L343.2,141.5 L343.2,141.5Z" fill="none" stroke="#5e5e5e" stroke-width="0.7"/><path d="M342.8,139.7 L342.0,139.7 L341.5,139.6 L340.9,139.4 L340.2,139.2 L339.8,139.0 L339.2,138.8 L338.8,138.5 L338.2,138.3 L337.8,138.0 L337.2,137.8 L336.8,137.6 L336.2,137.4 L335.8,136.9 L335.5,136.6 L335.2,136.1 L335.2,135.6 L335.5,135.2 L336.0,134.7 L336.4,134.4 L336.9,134.2 L337.5,134.0 L338.0,133.9 L338.8,133.7 L339.2,133.6 L340.0,133.6 L340.8,133.5 L341.2,133.4 L342.0,133.3 L342.8,133.3 L343.5,133.3 L344.1,133.4 L344.7,133.7 L345.0,133.9 L345.4,134.4 L345.5,134.9 L345.6,135.7 L345.6,136.4 L345.5,137.0 L345.3,137.7 L345.0,138.2 L344.8,138.5 L344.3,138.9 L344.0,139.2 L343.5,139.5 L343.0,139.7 L342.8,139.7Z" fill="none" stroke="#5e5e5e" stroke-width="0.7"/><path d="M342.5,138.0 L341.9,137.9 L341.2,137.7 L340.8,137.5 L340.2,137.3 L339.8,137.1 L339.2,136.8 L339.0,136.4 L339.0,135.7 L339.2,135.4 L339.8,135.1 L340.4,134.9 L341.0,134.9 L341.8,134.8 L342.5,134.8 L343.2,134.9 L343.6,135.2 L343.9,135.7 L343.9,136.4 L343.7,136.9 L343.4,137.4 L343.0,137.8 L342.5,138.0 L342.5,138.0Z" fill="none" stroke="#5e5e5e" stroke-width="0.7"/><path d="M351.5,160.0 L350.8,160.0 L350.1,159.9 L349.5,159.8 L349.0,159.7 L348.4,159.4 L347.9,159.2 L347.5,158.9 L347.0,158.5 L346.7,158.2 L346.5,157.7 L346.2,157.0 L346.2,156.4 L346.3,155.9 L346.5,155.4 L346.8,154.9 L347.2,154.5 L347.6,154.2 L348.0,153.9 L348.5,153.7 L349.2,153.4 L349.8,153.4 L350.5,153.3 L351.2,153.3 L352.0,153.4 L352.5,153.4 L353.1,153.7 L353.6,153.9 L354.0,154.2 L354.5,154.6 L354.8,154.9 L355.1,155.4 L355.3,155.9 L355.4,156.7 L355.2,157.4 L355.0,157.9 L354.8,158.3 L354.4,158.7 L354.0,159.0 L353.5,159.4 L353.0,159.6 L352.5,159.7 L351.8,159.9 L351.5,160.0Z" fill="none" stroke="#5e5e5e" stroke-width="0.7"/>
<ellipse cx="303.6" cy="133.6" rx="4.4" ry="7.7" fill="#777" fill-opacity="0.45"/>
<ellipse cx="303.6" cy="133.6" rx="2.6" ry="6.2" fill="#222"/>
<ellipse cx="303.6" cy="133.6" rx="1.56" ry="4.65" fill="#000"/>
</g>
<defs><clipPath id="bW"><rect x="29.9" y="280.3" width="90.9" height="91.6"/></clipPath><clipPath id="bK"><rect x="124.7" y="280.3" width="90.9" height="91.6"/></clipPath></defs>
<g clip-path="url(#bW)">
<g fill="#b0b0b0" fill-opacity="1.0"><rect x="74.9" y="322.0" width="0.9" height="0.9"/><rect x="60.7" y="327.1" width="0.9" height="0.9"/><rect x="68.4" y="321.7" width="0.9" height="0.9"/><rect x="57.8" y="327.2" width="0.9" height="0.9"/><rect x="54.2" y="329.0" width="0.9" height="0.9"/><rect x="56.0" y="334.1" width="0.9" height="0.9"/><rect x="60.3" y="329.2" width="0.9" height="0.9"/><rect x="65.9" y="326.2" width="0.9" height="0.9"/><rect x="62.9" y="324.1" width="0.9" height="0.9"/><rect x="63.6" y="328.2" width="0.9" height="0.9"/><rect x="54.2" y="321.6" width="0.9" height="0.9"/><rect x="65.8" y="330.6" width="0.9" height="0.9"/><rect x="59.3" y="328.0" width="0.9" height="0.9"/><rect x="64.3" y="328.9" width="0.9" height="0.9"/><rect x="73.3" y="331.0" width="0.9" height="0.9"/><rect x="57.3" y="331.1" width="0.9" height="0.9"/><rect x="57.3" y="329.1" width="0.9" height="0.9"/><rect x="62.0" y="330.3" width="0.9" height="0.9"/><rect x="62.6" y="328.3" width="0.9" height="0.9"/><rect x="74.0" y="324.1" width="0.9" height="0.9"/><rect x="60.5" y="339.1" width="0.9" height="0.9"/><rect x="59.7" y="332.1" width="0.9" height="0.9"/><rect x="69.3" y="328.6" width="0.9" height="0.9"/><rect x="63.1" y="325.4" width="0.9" height="0.9"/><rect x="67.9" y="322.5" width="0.9" height="0.9"/><rect x="65.2" y="316.5" width="0.9" height="0.9"/><rect x="60.5" y="326.9" width="0.9" height="0.9"/><rect x="63.1" y="329.7" width="0.9" height="0.9"/><rect x="62.5" y="329.7" width="0.9" height="0.9"/><rect x="52.8" y="327.9" width="0.9" height="0.9"/><rect x="71.2" y="315.7" width="0.9" height="0.9"/><rect x="78.2" y="313.4" width="0.9" height="0.9"/><rect x="66.4" y="335.1" width="0.9" height="0.9"/><rect x="69.1" y="321.4" width="0.9" height="0.9"/><rect x="67.2" y="323.8" width="0.9" height="0.9"/><rect x="81.4" y="328.0" width="0.9" height="0.9"/><rect x="82.8" y="319.3" width="0.9" height="0.9"/><rect x="73.5" y="322.0" width="0.9" height="0.9"/><rect x="61.2" y="326.4" width="0.9" height="0.9"/><rect x="62.0" y="320.8" width="0.9" height="0.9"/><rect x="74.5" y="326.6" width="0.9" height="0.9"/><rect x="75.3" y="322.6" width="0.9" height="0.9"/><rect x="70.6" y="320.8" width="0.9" height="0.9"/><rect x="56.2" y="326.4" width="0.9" height="0.9"/><rect x="61.3" y="322.8" width="0.9" height="0.9"/><rect x="56.9" y="330.5" width="0.9" height="0.9"/><rect x="61.9" y="336.4" width="0.9" height="0.9"/><rect x="61.0" y="329.8" width="0.9" height="0.9"/><rect x="65.5" y="327.5" width="0.9" height="0.9"/><rect x="60.3" y="326.0" width="0.9" height="0.9"/><rect x="58.6" y="326.5" width="0.9" height="0.9"/><rect x="73.2" y="318.5" width="0.9" height="0.9"/><rect x="77.2" y="322.5" width="0.9" height="0.9"/><rect x="71.6" y="327.0" width="0.9" height="0.9"/><rect x="66.9" y="323.1" width="0.9" height="0.9"/><rect x="52.3" y="331.7" width="0.9" height="0.9"/><rect x="75.9" y="315.9" width="0.9" height="0.9"/><rect x="60.3" y="325.8" width="0.9" height="0.9"/><rect x="72.3" y="320.1" width="0.9" height="0.9"/><rect x="73.4" y="324.7" width="0.9" height="0.9"/></g>
<g fill="#c0c0c0" fill-opacity="1.0"><rect x="68.2" y="305.8" width="0.9" height="0.9"/><rect x="63.7" y="332.9" width="0.9" height="0.9"/><rect x="40.7" y="306.4" width="0.9" height="0.9"/><rect x="78.3" y="315.2" width="0.9" height="0.9"/><rect x="67.4" y="308.2" width="0.9" height="0.9"/><rect x="92.2" y="327.1" width="0.9" height="0.9"/><rect x="83.6" y="323.1" width="0.9" height="0.9"/><rect x="44.2" y="331.7" width="0.9" height="0.9"/><rect x="55.5" y="306.4" width="0.9" height="0.9"/><rect x="87.2" y="310.7" width="0.9" height="0.9"/><rect x="45.1" y="333.1" width="0.9" height="0.9"/><rect x="91.9" y="318.2" width="0.9" height="0.9"/><rect x="90.4" y="315.5" width="0.9" height="0.9"/><rect x="64.9" y="324.0" width="0.9" height="0.9"/><rect x="80.1" y="333.5" width="0.9" height="0.9"/><rect x="66.0" y="326.0" width="0.9" height="0.9"/></g>
<g fill="#7a7a7a" fill-opacity="1.0"><rect x="48.8" y="343.3" width="0.9" height="0.9"/><rect x="52.7" y="343.0" width="0.9" height="0.9"/><rect x="50.5" y="362.7" width="0.9" height="0.9"/><rect x="45.9" y="352.2" width="0.9" height="0.9"/><rect x="47.3" y="335.0" width="0.9" height="0.9"/><rect x="49.2" y="344.0" width="0.9" height="0.9"/><rect x="50.0" y="345.7" width="0.9" height="0.9"/><rect x="49.3" y="351.9" width="0.9" height="0.9"/><rect x="54.9" y="348.9" width="0.9" height="0.9"/><rect x="47.1" y="352.5" width="0.9" height="0.9"/><rect x="47.8" y="352.0" width="0.9" height="0.9"/><rect x="45.8" y="345.8" width="0.9" height="0.9"/><rect x="47.6" y="345.8" width="0.9" height="0.9"/><rect x="47.2" y="348.7" width="0.9" height="0.9"/><rect x="49.2" y="341.5" width="0.9" height="0.9"/><rect x="51.3" y="346.5" width="0.9" height="0.9"/><rect x="48.0" y="348.1" width="0.9" height="0.9"/><rect x="51.5" y="343.2" width="0.9" height="0.9"/><rect x="49.6" y="350.5" width="0.9" height="0.9"/><rect x="52.3" y="352.2" width="0.9" height="0.9"/><rect x="51.3" y="350.2" width="0.9" height="0.9"/><rect x="57.0" y="339.4" width="0.9" height="0.9"/><rect x="54.5" y="347.7" width="0.9" height="0.9"/><rect x="55.7" y="351.7" width="0.9" height="0.9"/><rect x="50.6" y="337.0" width="0.9" height="0.9"/><rect x="46.6" y="346.8" width="0.9" height="0.9"/><rect x="56.7" y="335.7" width="0.9" height="0.9"/><rect x="52.5" y="359.0" width="0.9" height="0.9"/><rect x="54.7" y="348.9" width="0.9" height="0.9"/><rect x="49.4" y="334.3" width="0.9" height="0.9"/><rect x="49.0" y="348.5" width="0.9" height="0.9"/><rect x="44.1" y="350.7" width="0.9" height="0.9"/><rect x="53.4" y="339.7" width="0.9" height="0.9"/><rect x="48.4" y="349.5" width="0.9" height="0.9"/><rect x="47.4" y="337.6" width="0.9" height="0.9"/><rect x="50.8" y="345.8" width="0.9" height="0.9"/><rect x="48.2" y="347.5" width="0.9" height="0.9"/><rect x="57.0" y="341.0" width="0.9" height="0.9"/><rect x="43.5" y="346.7" width="0.9" height="0.9"/><rect x="49.5" y="339.7" width="0.9" height="0.9"/><rect x="49.6" y="348.0" width="0.9" height="0.9"/><rect x="46.0" y="344.3" width="0.9" height="0.9"/><rect x="48.9" y="338.7" width="0.9" height="0.9"/><rect x="52.8" y="342.5" width="0.9" height="0.9"/><rect x="48.2" y="351.2" width="0.9" height="0.9"/><rect x="51.1" y="335.7" width="0.9" height="0.9"/><rect x="47.3" y="338.6" width="0.9" height="0.9"/><rect x="48.2" y="349.5" width="0.9" height="0.9"/><rect x="49.4" y="336.2" width="0.9" height="0.9"/><rect x="47.3" y="339.8" width="0.9" height="0.9"/><rect x="49.4" y="338.4" width="0.9" height="0.9"/><rect x="53.3" y="337.5" width="0.9" height="0.9"/><rect x="49.2" y="344.0" width="0.9" height="0.9"/><rect x="49.2" y="349.1" width="0.9" height="0.9"/><rect x="49.9" y="355.5" width="0.9" height="0.9"/><rect x="46.5" y="345.1" width="0.9" height="0.9"/><rect x="54.1" y="349.1" width="0.9" height="0.9"/><rect x="51.4" y="346.5" width="0.9" height="0.9"/><rect x="46.6" y="356.3" width="0.9" height="0.9"/><rect x="47.8" y="347.6" width="0.9" height="0.9"/><rect x="50.9" y="348.3" width="0.9" height="0.9"/><rect x="50.7" y="347.9" width="0.9" height="0.9"/><rect x="47.5" y="344.3" width="0.9" height="0.9"/><rect x="53.5" y="341.4" width="0.9" height="0.9"/><rect x="50.2" y="357.0" width="0.9" height="0.9"/><rect x="56.6" y="342.7" width="0.9" height="0.9"/><rect x="50.8" y="343.8" width="0.9" height="0.9"/><rect x="42.4" y="341.8" width="0.9" height="0.9"/><rect x="46.8" y="342.4" width="0.9" height="0.9"/><rect x="49.4" y="351.2" width="0.9" height="0.9"/><rect x="50.4" y="339.0" width="0.9" height="0.9"/><rect x="43.4" y="348.0" width="0.9" height="0.9"/><rect x="46.6" y="345.7" width="0.9" height="0.9"/><rect x="51.8" y="344.5" width="0.9" height="0.9"/><rect x="44.6" y="352.0" width="0.9" height="0.9"/><rect x="46.1" y="352.9" width="0.9" height="0.9"/><rect x="50.5" y="342.3" width="0.9" height="0.9"/><rect x="46.7" y="350.7" width="0.9" height="0.9"/><rect x="48.1" y="352.3" width="0.9" height="0.9"/><rect x="54.1" y="334.2" width="0.9" height="0.9"/><rect x="43.6" y="344.9" width="0.9" height="0.9"/><rect x="48.4" y="337.2" width="0.9" height="0.9"/><rect x="50.5" y="351.8" width="0.9" height="0.9"/><rect x="52.0" y="358.3" width="0.9" height="0.9"/><rect x="47.9" y="338.1" width="0.9" height="0.9"/><rect x="47.8" y="340.4" width="0.9" height="0.9"/><rect x="46.8" y="347.6" width="0.9" height="0.9"/><rect x="49.1" y="350.2" width="0.9" height="0.9"/><rect x="47.9" y="351.9" width="0.9" height="0.9"/><rect x="46.8" y="339.3" width="0.9" height="0.9"/><rect x="54.0" y="349.7" width="0.9" height="0.9"/><rect x="48.2" y="351.0" width="0.9" height="0.9"/><rect x="50.8" y="358.9" width="0.9" height="0.9"/><rect x="46.9" y="347.7" width="0.9" height="0.9"/><rect x="51.2" y="336.3" width="0.9" height="0.9"/><rect x="53.7" y="345.6" width="0.9" height="0.9"/><rect x="49.3" y="344.7" width="0.9" height="0.9"/><rect x="50.3" y="347.6" width="0.9" height="0.9"/><rect x="55.5" y="355.2" width="0.9" height="0.9"/><rect x="56.5" y="346.0" width="0.9" height="0.9"/><rect x="51.3" y="336.5" width="0.9" height="0.9"/><rect x="47.1" y="352.9" width="0.9" height="0.9"/><rect x="46.0" y="344.3" width="0.9" height="0.9"/><rect x="44.5" y="344.6" width="0.9" height="0.9"/><rect x="51.9" y="347.5" width="0.9" height="0.9"/><rect x="50.6" y="355.6" width="0.9" height="0.9"/><rect x="45.2" y="352.9" width="0.9" height="0.9"/><rect x="51.7" y="342.7" width="0.9" height="0.9"/><rect x="45.6" y="346.9" width="0.9" height="0.9"/><rect x="50.5" y="328.0" width="0.9" height="0.9"/><rect x="47.4" y="336.4" width="0.9" height="0.9"/><rect x="46.8" y="341.5" width="0.9" height="0.9"/><rect x="47.6" y="353.3" width="0.9" height="0.9"/><rect x="55.6" y="353.9" width="0.9" height="0.9"/><rect x="52.3" y="352.5" width="0.9" height="0.9"/><rect x="44.5" y="353.3" width="0.9" height="0.9"/><rect x="51.3" y="345.0" width="0.9" height="0.9"/><rect x="48.1" y="338.0" width="0.9" height="0.9"/><rect x="48.3" y="338.6" width="0.9" height="0.9"/><rect x="55.0" y="341.0" width="0.9" height="0.9"/><rect x="50.2" y="357.0" width="0.9" height="0.9"/><rect x="50.7" y="330.1" width="0.9" height="0.9"/><rect x="49.2" y="347.8" width="0.9" height="0.9"/><rect x="55.1" y="340.5" width="0.9" height="0.9"/><rect x="53.4" y="352.7" width="0.9" height="0.9"/><rect x="50.8" y="332.5" width="0.9" height="0.9"/><rect x="51.9" y="343.2" width="0.9" height="0.9"/><rect x="50.9" y="346.2" width="0.9" height="0.9"/><rect x="45.4" y="344.2" width="0.9" height="0.9"/><rect x="49.8" y="353.1" width="0.9" height="0.9"/><rect x="49.1" y="342.8" width="0.9" height="0.9"/><rect x="56.2" y="344.6" width="0.9" height="0.9"/><rect x="51.1" y="358.4" width="0.9" height="0.9"/><rect x="50.1" y="342.1" width="0.9" height="0.9"/><rect x="53.2" y="351.0" width="0.9" height="0.9"/><rect x="56.2" y="338.6" width="0.9" height="0.9"/><rect x="53.0" y="343.0" width="0.9" height="0.9"/><rect x="49.9" y="338.7" width="0.9" height="0.9"/><rect x="49.5" y="357.4" width="0.9" height="0.9"/><rect x="47.0" y="334.7" width="0.9" height="0.9"/><rect x="52.7" y="359.2" width="0.9" height="0.9"/><rect x="47.6" y="353.6" width="0.9" height="0.9"/><rect x="51.6" y="344.3" width="0.9" height="0.9"/><rect x="53.8" y="352.8" width="0.9" height="0.9"/><rect x="53.4" y="343.6" width="0.9" height="0.9"/><rect x="42.0" y="354.6" width="0.9" height="0.9"/><rect x="50.0" y="335.1" width="0.9" height="0.9"/><rect x="53.9" y="344.6" width="0.9" height="0.9"/><rect x="49.2" y="347.5" width="0.9" height="0.9"/><rect x="46.7" y="333.7" width="0.9" height="0.9"/><rect x="50.7" y="351.2" width="0.9" height="0.9"/><rect x="50.7" y="349.8" width="0.9" height="0.9"/><rect x="52.2" y="351.4" width="0.9" height="0.9"/><rect x="49.0" y="334.2" width="0.9" height="0.9"/><rect x="59.1" y="347.7" width="0.9" height="0.9"/><rect x="49.1" y="349.0" width="0.9" height="0.9"/><rect x="50.0" y="349.9" width="0.9" height="0.9"/><rect x="48.6" y="337.0" width="0.9" height="0.9"/><rect x="47.7" y="351.6" width="0.9" height="0.9"/><rect x="50.8" y="346.8" width="0.9" height="0.9"/><rect x="43.6" y="347.6" width="0.9" height="0.9"/><rect x="46.3" y="349.5" width="0.9" height="0.9"/><rect x="52.3" y="354.3" width="0.9" height="0.9"/><rect x="55.6" y="338.7" width="0.9" height="0.9"/><rect x="54.7" y="336.2" width="0.9" height="0.9"/><rect x="53.9" y="345.4" width="0.9" height="0.9"/><rect x="45.2" y="353.1" width="0.9" height="0.9"/><rect x="48.9" y="346.5" width="0.9" height="0.9"/><rect x="53.6" y="356.4" width="0.9" height="0.9"/><rect x="57.8" y="348.6" width="0.9" height="0.9"/></g>
<g fill="#404040" fill-opacity="1.0"><rect x="53.0" y="355.9" width="0.9" height="0.9"/><rect x="52.5" y="359.3" width="0.9" height="0.9"/><rect x="51.6" y="350.1" width="0.9" height="0.9"/><rect x="52.6" y="341.9" width="0.9" height="0.9"/><rect x="51.5" y="340.4" width="0.9" height="0.9"/><rect x="50.8" y="352.2" width="0.9" height="0.9"/><rect x="50.8" y="341.6" width="0.9" height="0.9"/><rect x="51.3" y="336.8" width="0.9" height="0.9"/><rect x="52.8" y="350.7" width="0.9" height="0.9"/><rect x="51.1" y="334.5" width="0.9" height="0.9"/><rect x="52.8" y="349.2" width="0.9" height="0.9"/><rect x="50.7" y="334.6" width="0.9" height="0.9"/><rect x="51.2" y="345.2" width="0.9" height="0.9"/><rect x="50.7" y="343.6" width="0.9" height="0.9"/><rect x="51.7" y="350.4" width="0.9" height="0.9"/><rect x="50.0" y="340.2" width="0.9" height="0.9"/><rect x="53.8" y="354.9" width="0.9" height="0.9"/><rect x="50.9" y="340.9" width="0.9" height="0.9"/><rect x="50.5" y="342.1" width="0.9" height="0.9"/><rect x="51.9" y="344.9" width="0.9" height="0.9"/><rect x="49.1" y="344.7" width="0.9" height="0.9"/><rect x="52.7" y="340.3" width="0.9" height="0.9"/><rect x="53.4" y="340.4" width="0.9" height="0.9"/><rect x="53.1" y="337.8" width="0.9" height="0.9"/><rect x="50.1" y="343.2" width="0.9" height="0.9"/><rect x="51.6" y="344.1" width="0.9" height="0.9"/><rect x="50.5" y="343.8" width="0.9" height="0.9"/><rect x="53.5" y="350.7" width="0.9" height="0.9"/><rect x="53.1" y="338.0" width="0.9" height="0.9"/><rect x="52.2" y="333.0" width="0.9" height="0.9"/><rect x="51.3" y="348.9" width="0.9" height="0.9"/><rect x="53.0" y="346.6" width="0.9" height="0.9"/><rect x="51.9" y="342.6" width="0.9" height="0.9"/><rect x="51.7" y="355.5" width="0.9" height="0.9"/><rect x="53.0" y="355.3" width="0.9" height="0.9"/><rect x="53.7" y="350.4" width="0.9" height="0.9"/><rect x="50.2" y="349.6" width="0.9" height="0.9"/><rect x="51.7" y="359.5" width="0.9" height="0.9"/><rect x="51.5" y="338.9" width="0.9" height="0.9"/><rect x="52.8" y="350.7" width="0.9" height="0.9"/><rect x="50.7" y="354.9" width="0.9" height="0.9"/><rect x="49.7" y="340.8" width="0.9" height="0.9"/><rect x="49.5" y="351.3" width="0.9" height="0.9"/><rect x="51.4" y="346.5" width="0.9" height="0.9"/><rect x="51.5" y="350.2" width="0.9" height="0.9"/><rect x="50.0" y="336.2" width="0.9" height="0.9"/><rect x="48.7" y="350.4" width="0.9" height="0.9"/><rect x="51.5" y="348.7" width="0.9" height="0.9"/><rect x="50.9" y="349.0" width="0.9" height="0.9"/><rect x="52.6" y="342.1" width="0.9" height="0.9"/><rect x="54.0" y="354.9" width="0.9" height="0.9"/><rect x="50.8" y="347.5" width="0.9" height="0.9"/><rect x="50.9" y="346.1" width="0.9" height="0.9"/><rect x="52.9" y="348.1" width="0.9" height="0.9"/><rect x="51.0" y="347.9" width="0.9" height="0.9"/><rect x="52.5" y="343.0" width="0.9" height="0.9"/><rect x="50.1" y="348.3" width="0.9" height="0.9"/><rect x="51.2" y="350.7" width="0.9" height="0.9"/><rect x="50.7" y="345.8" width="0.9" height="0.9"/><rect x="50.7" y="358.7" width="0.9" height="0.9"/><rect x="51.7" y="347.3" width="0.9" height="0.9"/><rect x="51.8" y="353.4" width="0.9" height="0.9"/><rect x="51.9" y="348.5" width="0.9" height="0.9"/><rect x="52.6" y="338.8" width="0.9" height="0.9"/><rect x="51.1" y="342.1" width="0.9" height="0.9"/><rect x="53.7" y="349.5" width="0.9" height="0.9"/><rect x="51.8" y="340.2" width="0.9" height="0.9"/><rect x="52.6" y="346.8" width="0.9" height="0.9"/><rect x="50.1" y="345.4" width="0.9" height="0.9"/><rect x="50.9" y="349.5" width="0.9" height="0.9"/><rect x="51.8" y="349.5" width="0.9" height="0.9"/><rect x="53.2" y="348.2" width="0.9" height="0.9"/><rect x="52.9" y="346.5" width="0.9" height="0.9"/><rect x="52.9" y="343.9" width="0.9" height="0.9"/><rect x="51.1" y="348.4" width="0.9" height="0.9"/><rect x="49.8" y="357.6" width="0.9" height="0.9"/><rect x="51.4" y="351.9" width="0.9" height="0.9"/><rect x="51.2" y="350.2" width="0.9" height="0.9"/><rect x="50.7" y="344.1" width="0.9" height="0.9"/><rect x="52.4" y="350.6" width="0.9" height="0.9"/></g>
<g fill="#000" fill-opacity="1.0"><rect x="51.4" y="357.7" width="1.1" height="1.1"/><rect x="52.1" y="356.0" width="1.1" height="1.1"/><rect x="52.2" y="355.9" width="1.1" height="1.1"/><rect x="52.4" y="357.6" width="1.1" height="1.1"/><rect x="51.5" y="353.8" width="1.1" height="1.1"/><rect x="50.4" y="357.6" width="1.1" height="1.1"/><rect x="51.7" y="354.9" width="1.1" height="1.1"/><rect x="50.8" y="354.0" width="1.1" height="1.1"/><rect x="51.3" y="355.8" width="1.1" height="1.1"/><rect x="50.6" y="356.3" width="1.1" height="1.1"/></g>
</g>
<g clip-path="url(#bK)">
<g fill="#939393" fill-opacity="1.0"><rect x="151.7" y="315.8" width="0.9" height="0.9"/><rect x="164.7" y="305.9" width="0.9" height="0.9"/><rect x="145.4" y="328.3" width="0.9" height="0.9"/><rect x="150.4" y="324.1" width="0.9" height="0.9"/><rect x="143.6" y="334.4" width="0.9" height="0.9"/><rect x="149.4" y="320.6" width="0.9" height="0.9"/><rect x="159.0" y="320.5" width="0.9" height="0.9"/><rect x="156.5" y="311.4" width="0.9" height="0.9"/><rect x="160.7" y="307.1" width="0.9" height="0.9"/><rect x="143.5" y="324.1" width="0.9" height="0.9"/><rect x="159.6" y="314.7" width="0.9" height="0.9"/><rect x="150.5" y="321.4" width="0.9" height="0.9"/><rect x="157.9" y="308.9" width="0.9" height="0.9"/><rect x="149.2" y="326.6" width="0.9" height="0.9"/><rect x="154.8" y="318.2" width="0.9" height="0.9"/><rect x="159.4" y="322.0" width="0.9" height="0.9"/><rect x="150.7" y="330.2" width="0.9" height="0.9"/><rect x="148.6" y="326.1" width="0.9" height="0.9"/><rect x="147.7" y="326.0" width="0.9" height="0.9"/><rect x="155.9" y="315.5" width="0.9" height="0.9"/><rect x="154.3" y="315.3" width="0.9" height="0.9"/><rect x="153.3" y="322.3" width="0.9" height="0.9"/><rect x="153.5" y="315.9" width="0.9" height="0.9"/><rect x="157.1" y="317.3" width="0.9" height="0.9"/><rect x="153.6" y="313.9" width="0.9" height="0.9"/><rect x="161.5" y="316.2" width="0.9" height="0.9"/><rect x="154.4" y="316.7" width="0.9" height="0.9"/><rect x="157.3" y="311.9" width="0.9" height="0.9"/><rect x="152.3" y="323.7" width="0.9" height="0.9"/><rect x="153.6" y="328.8" width="0.9" height="0.9"/><rect x="150.3" y="324.3" width="0.9" height="0.9"/><rect x="150.0" y="322.0" width="0.9" height="0.9"/><rect x="156.5" y="313.3" width="0.9" height="0.9"/><rect x="153.9" y="306.4" width="0.9" height="0.9"/><rect x="158.7" y="319.7" width="0.9" height="0.9"/><rect x="150.7" y="327.2" width="0.9" height="0.9"/><rect x="142.6" y="327.9" width="0.9" height="0.9"/><rect x="151.1" y="319.7" width="0.9" height="0.9"/><rect x="147.7" y="333.5" width="0.9" height="0.9"/><rect x="152.2" y="327.5" width="0.9" height="0.9"/><rect x="150.5" y="322.5" width="0.9" height="0.9"/><rect x="152.1" y="323.1" width="0.9" height="0.9"/><rect x="152.8" y="319.1" width="0.9" height="0.9"/><rect x="154.8" y="308.0" width="0.9" height="0.9"/><rect x="153.0" y="312.4" width="0.9" height="0.9"/><rect x="157.2" y="308.6" width="0.9" height="0.9"/><rect x="149.5" y="324.5" width="0.9" height="0.9"/><rect x="153.0" y="308.5" width="0.9" height="0.9"/><rect x="153.1" y="328.8" width="0.9" height="0.9"/><rect x="151.6" y="323.1" width="0.9" height="0.9"/><rect x="151.3" y="320.6" width="0.9" height="0.9"/><rect x="157.6" y="319.5" width="0.9" height="0.9"/><rect x="160.8" y="321.5" width="0.9" height="0.9"/><rect x="148.5" y="332.8" width="0.9" height="0.9"/><rect x="154.5" y="321.2" width="0.9" height="0.9"/><rect x="160.2" y="310.2" width="0.9" height="0.9"/><rect x="150.2" y="310.9" width="0.9" height="0.9"/><rect x="143.0" y="321.1" width="0.9" height="0.9"/><rect x="145.7" y="324.8" width="0.9" height="0.9"/><rect x="158.4" y="307.1" width="0.9" height="0.9"/><rect x="160.7" y="317.8" width="0.9" height="0.9"/><rect x="159.4" y="309.8" width="0.9" height="0.9"/><rect x="155.9" y="316.1" width="0.9" height="0.9"/><rect x="147.6" y="322.8" width="0.9" height="0.9"/><rect x="154.7" y="307.5" width="0.9" height="0.9"/><rect x="149.6" y="325.3" width="0.9" height="0.9"/><rect x="151.3" y="324.2" width="0.9" height="0.9"/><rect x="148.3" y="330.3" width="0.9" height="0.9"/><rect x="143.4" y="333.8" width="0.9" height="0.9"/><rect x="148.1" y="322.1" width="0.9" height="0.9"/><rect x="157.6" y="325.3" width="0.9" height="0.9"/><rect x="148.9" y="329.7" width="0.9" height="0.9"/><rect x="147.9" y="328.5" width="0.9" height="0.9"/><rect x="158.9" y="320.7" width="0.9" height="0.9"/><rect x="156.0" y="314.0" width="0.9" height="0.9"/><rect x="153.8" y="307.1" width="0.9" height="0.9"/><rect x="157.3" y="319.2" width="0.9" height="0.9"/><rect x="148.0" y="331.1" width="0.9" height="0.9"/><rect x="151.7" y="329.3" width="0.9" height="0.9"/><rect x="153.7" y="317.4" width="0.9" height="0.9"/><rect x="150.2" y="316.1" width="0.9" height="0.9"/><rect x="150.2" y="324.2" width="0.9" height="0.9"/><rect x="150.1" y="328.3" width="0.9" height="0.9"/><rect x="162.8" y="310.7" width="0.9" height="0.9"/><rect x="141.5" y="329.7" width="0.9" height="0.9"/><rect x="151.9" y="320.7" width="0.9" height="0.9"/><rect x="144.2" y="330.1" width="0.9" height="0.9"/><rect x="152.5" y="317.6" width="0.9" height="0.9"/><rect x="154.0" y="319.2" width="0.9" height="0.9"/><rect x="144.0" y="331.3" width="0.9" height="0.9"/><rect x="150.1" y="328.6" width="0.9" height="0.9"/><rect x="156.5" y="311.2" width="0.9" height="0.9"/><rect x="157.5" y="310.9" width="0.9" height="0.9"/><rect x="152.1" y="320.8" width="0.9" height="0.9"/><rect x="153.2" y="313.3" width="0.9" height="0.9"/><rect x="153.7" y="313.4" width="0.9" height="0.9"/><rect x="151.0" y="321.5" width="0.9" height="0.9"/><rect x="155.6" y="318.7" width="0.9" height="0.9"/><rect x="152.4" y="323.7" width="0.9" height="0.9"/><rect x="154.0" y="315.6" width="0.9" height="0.9"/><rect x="152.2" y="311.5" width="0.9" height="0.9"/><rect x="155.5" y="324.2" width="0.9" height="0.9"/><rect x="145.8" y="325.4" width="0.9" height="0.9"/><rect x="156.4" y="311.1" width="0.9" height="0.9"/><rect x="157.8" y="317.6" width="0.9" height="0.9"/><rect x="161.2" y="310.4" width="0.9" height="0.9"/><rect x="154.7" y="321.1" width="0.9" height="0.9"/><rect x="153.8" y="302.2" width="0.9" height="0.9"/><rect x="145.9" y="322.9" width="0.9" height="0.9"/><rect x="144.3" y="329.0" width="0.9" height="0.9"/><rect x="155.6" y="330.1" width="0.9" height="0.9"/><rect x="143.7" y="332.6" width="0.9" height="0.9"/><rect x="146.1" y="330.6" width="0.9" height="0.9"/><rect x="149.0" y="315.4" width="0.9" height="0.9"/><rect x="150.6" y="327.2" width="0.9" height="0.9"/><rect x="162.3" y="310.4" width="0.9" height="0.9"/><rect x="150.9" y="324.3" width="0.9" height="0.9"/><rect x="151.6" y="320.7" width="0.9" height="0.9"/><rect x="160.2" y="310.5" width="0.9" height="0.9"/><rect x="150.6" y="322.4" width="0.9" height="0.9"/><rect x="140.9" y="320.7" width="0.9" height="0.9"/><rect x="154.7" y="323.4" width="0.9" height="0.9"/><rect x="146.5" y="329.6" width="0.9" height="0.9"/><rect x="150.8" y="310.4" width="0.9" height="0.9"/><rect x="157.2" y="313.7" width="0.9" height="0.9"/><rect x="154.9" y="329.1" width="0.9" height="0.9"/><rect x="150.2" y="313.1" width="0.9" height="0.9"/><rect x="154.9" y="316.6" width="0.9" height="0.9"/><rect x="153.4" y="323.8" width="0.9" height="0.9"/><rect x="145.6" y="330.4" width="0.9" height="0.9"/><rect x="155.4" y="319.0" width="0.9" height="0.9"/><rect x="150.5" y="325.3" width="0.9" height="0.9"/><rect x="158.2" y="306.1" width="0.9" height="0.9"/><rect x="143.8" y="334.3" width="0.9" height="0.9"/><rect x="158.1" y="311.4" width="0.9" height="0.9"/><rect x="148.2" y="332.9" width="0.9" height="0.9"/><rect x="153.1" y="331.3" width="0.9" height="0.9"/><rect x="146.5" y="319.4" width="0.9" height="0.9"/><rect x="157.2" y="320.9" width="0.9" height="0.9"/><rect x="151.3" y="318.4" width="0.9" height="0.9"/><rect x="152.5" y="316.6" width="0.9" height="0.9"/><rect x="152.0" y="321.9" width="0.9" height="0.9"/><rect x="146.7" y="328.9" width="0.9" height="0.9"/><rect x="160.3" y="305.5" width="0.9" height="0.9"/><rect x="156.5" y="315.8" width="0.9" height="0.9"/><rect x="150.0" y="308.1" width="0.9" height="0.9"/><rect x="149.4" y="320.9" width="0.9" height="0.9"/><rect x="144.0" y="323.5" width="0.9" height="0.9"/><rect x="150.3" y="312.7" width="0.9" height="0.9"/><rect x="152.9" y="316.4" width="0.9" height="0.9"/></g>
<g fill="#b0b0b0" fill-opacity="1.0"><rect x="158.8" y="319.6" width="0.9" height="0.9"/><rect x="163.3" y="342.1" width="0.9" height="0.9"/><rect x="171.3" y="331.8" width="0.9" height="0.9"/><rect x="142.9" y="341.3" width="0.9" height="0.9"/><rect x="143.4" y="322.6" width="0.9" height="0.9"/><rect x="153.0" y="329.7" width="0.9" height="0.9"/><rect x="162.2" y="330.0" width="0.9" height="0.9"/><rect x="142.6" y="300.9" width="0.9" height="0.9"/><rect x="174.4" y="305.4" width="0.9" height="0.9"/><rect x="155.4" y="311.8" width="0.9" height="0.9"/><rect x="171.0" y="334.6" width="0.9" height="0.9"/><rect x="157.2" y="321.3" width="0.9" height="0.9"/><rect x="159.2" y="309.3" width="0.9" height="0.9"/><rect x="144.1" y="304.5" width="0.9" height="0.9"/><rect x="171.1" y="304.5" width="0.9" height="0.9"/><rect x="171.9" y="327.6" width="0.9" height="0.9"/><rect x="139.3" y="307.7" width="0.9" height="0.9"/><rect x="155.3" y="313.2" width="0.9" height="0.9"/><rect x="145.3" y="329.9" width="0.9" height="0.9"/><rect x="156.9" y="329.2" width="0.9" height="0.9"/></g>
<g fill="#808080" fill-opacity="1.0"><rect x="144.5" y="330.7" width="0.9" height="0.9"/><rect x="142.7" y="324.1" width="0.9" height="0.9"/><rect x="140.8" y="327.2" width="0.9" height="0.9"/><rect x="140.7" y="328.2" width="0.9" height="0.9"/><rect x="142.0" y="335.1" width="0.9" height="0.9"/><rect x="138.9" y="330.1" width="0.9" height="0.9"/><rect x="139.6" y="332.5" width="0.9" height="0.9"/><rect x="141.5" y="329.5" width="0.9" height="0.9"/><rect x="139.7" y="331.8" width="0.9" height="0.9"/><rect x="141.4" y="328.6" width="0.9" height="0.9"/><rect x="140.4" y="335.8" width="0.9" height="0.9"/><rect x="144.5" y="327.0" width="0.9" height="0.9"/><rect x="142.3" y="330.2" width="0.9" height="0.9"/><rect x="140.6" y="335.8" width="0.9" height="0.9"/><rect x="137.1" y="337.3" width="0.9" height="0.9"/><rect x="135.4" y="328.1" width="0.9" height="0.9"/><rect x="140.9" y="324.9" width="0.9" height="0.9"/><rect x="139.5" y="334.1" width="0.9" height="0.9"/><rect x="140.3" y="332.9" width="0.9" height="0.9"/><rect x="144.2" y="326.7" width="0.9" height="0.9"/><rect x="145.3" y="332.1" width="0.9" height="0.9"/><rect x="142.2" y="330.8" width="0.9" height="0.9"/><rect x="145.8" y="336.0" width="0.9" height="0.9"/><rect x="140.2" y="323.5" width="0.9" height="0.9"/><rect x="138.1" y="337.9" width="0.9" height="0.9"/><rect x="140.6" y="334.8" width="0.9" height="0.9"/><rect x="135.0" y="328.4" width="0.9" height="0.9"/><rect x="137.0" y="332.7" width="0.9" height="0.9"/><rect x="140.1" y="314.9" width="0.9" height="0.9"/><rect x="139.5" y="335.8" width="0.9" height="0.9"/><rect x="142.5" y="329.3" width="0.9" height="0.9"/><rect x="138.6" y="331.3" width="0.9" height="0.9"/><rect x="138.8" y="330.6" width="0.9" height="0.9"/><rect x="139.4" y="325.9" width="0.9" height="0.9"/><rect x="138.2" y="326.9" width="0.9" height="0.9"/><rect x="140.6" y="332.6" width="0.9" height="0.9"/><rect x="140.6" y="328.4" width="0.9" height="0.9"/><rect x="141.1" y="332.6" width="0.9" height="0.9"/><rect x="140.7" y="338.4" width="0.9" height="0.9"/><rect x="137.9" y="316.4" width="0.9" height="0.9"/><rect x="138.6" y="329.8" width="0.9" height="0.9"/><rect x="142.1" y="329.6" width="0.9" height="0.9"/><rect x="142.4" y="324.4" width="0.9" height="0.9"/><rect x="143.2" y="341.6" width="0.9" height="0.9"/><rect x="141.0" y="332.3" width="0.9" height="0.9"/><rect x="140.6" y="328.6" width="0.9" height="0.9"/><rect x="142.8" y="331.3" width="0.9" height="0.9"/><rect x="138.9" y="327.3" width="0.9" height="0.9"/><rect x="141.4" y="331.4" width="0.9" height="0.9"/><rect x="147.2" y="331.3" width="0.9" height="0.9"/><rect x="140.7" y="326.7" width="0.9" height="0.9"/><rect x="139.0" y="325.1" width="0.9" height="0.9"/><rect x="140.7" y="332.8" width="0.9" height="0.9"/><rect x="145.7" y="332.0" width="0.9" height="0.9"/><rect x="142.2" y="328.1" width="0.9" height="0.9"/><rect x="143.0" y="326.8" width="0.9" height="0.9"/><rect x="140.2" y="319.4" width="0.9" height="0.9"/><rect x="137.5" y="334.8" width="0.9" height="0.9"/><rect x="142.1" y="331.4" width="0.9" height="0.9"/><rect x="139.5" y="329.4" width="0.9" height="0.9"/></g>
<g fill="#111" fill-opacity="1.0"><rect x="143.0" y="341.7" width="1.1" height="1.1"/><rect x="140.5" y="349.6" width="1.1" height="1.1"/><rect x="141.0" y="346.1" width="1.1" height="1.1"/><rect x="141.4" y="336.6" width="1.1" height="1.1"/><rect x="142.3" y="345.0" width="1.1" height="1.1"/><rect x="140.9" y="344.2" width="1.1" height="1.1"/><rect x="141.1" y="345.7" width="1.1" height="1.1"/><rect x="141.8" y="348.7" width="1.1" height="1.1"/><rect x="143.5" y="336.0" width="1.1" height="1.1"/><rect x="142.9" y="347.7" width="1.1" height="1.1"/><rect x="141.8" y="343.6" width="1.1" height="1.1"/><rect x="141.0" y="347.4" width="1.1" height="1.1"/><rect x="140.6" y="351.6" width="1.1" height="1.1"/><rect x="143.3" y="337.9" width="1.1" height="1.1"/><rect x="143.8" y="337.6" width="1.1" height="1.1"/><rect x="139.6" y="350.6" width="1.1" height="1.1"/><rect x="142.0" y="346.5" width="1.1" height="1.1"/><rect x="141.7" y="341.9" width="1.1" height="1.1"/><rect x="141.3" y="345.0" width="1.1" height="1.1"/><rect x="142.0" y="337.6" width="1.1" height="1.1"/><rect x="141.6" y="343.9" width="1.1" height="1.1"/><rect x="141.2" y="339.7" width="1.1" height="1.1"/><rect x="141.2" y="348.9" width="1.1" height="1.1"/><rect x="141.0" y="350.3" width="1.1" height="1.1"/><rect x="140.5" y="349.5" width="1.1" height="1.1"/><rect x="143.4" y="334.4" width="1.1" height="1.1"/><rect x="143.7" y="351.7" width="1.1" height="1.1"/><rect x="141.0" y="351.3" width="1.1" height="1.1"/><rect x="140.5" y="355.0" width="1.1" height="1.1"/><rect x="142.6" y="345.7" width="1.1" height="1.1"/><rect x="141.1" y="356.7" width="1.1" height="1.1"/><rect x="140.1" y="352.5" width="1.1" height="1.1"/><rect x="140.8" y="351.4" width="1.1" height="1.1"/><rect x="141.3" y="353.3" width="1.1" height="1.1"/><rect x="143.6" y="338.2" width="1.1" height="1.1"/><rect x="141.3" y="345.9" width="1.1" height="1.1"/><rect x="142.0" y="336.4" width="1.1" height="1.1"/><rect x="141.0" y="346.1" width="1.1" height="1.1"/><rect x="141.4" y="341.4" width="1.1" height="1.1"/><rect x="141.4" y="347.6" width="1.1" height="1.1"/><rect x="140.7" y="347.9" width="1.1" height="1.1"/><rect x="143.3" y="344.4" width="1.1" height="1.1"/><rect x="140.5" y="354.7" width="1.1" height="1.1"/><rect x="141.7" y="354.3" width="1.1" height="1.1"/><rect x="141.6" y="350.1" width="1.1" height="1.1"/><rect x="141.8" y="348.3" width="1.1" height="1.1"/><rect x="141.0" y="334.4" width="1.1" height="1.1"/><rect x="141.2" y="349.4" width="1.1" height="1.1"/><rect x="141.8" y="346.2" width="1.1" height="1.1"/><rect x="142.5" y="345.0" width="1.1" height="1.1"/><rect x="140.2" y="346.9" width="1.1" height="1.1"/><rect x="142.2" y="336.3" width="1.1" height="1.1"/><rect x="141.7" y="334.3" width="1.1" height="1.1"/><rect x="142.4" y="342.3" width="1.1" height="1.1"/><rect x="140.6" y="356.1" width="1.1" height="1.1"/><rect x="140.7" y="356.4" width="1.1" height="1.1"/><rect x="139.8" y="348.6" width="1.1" height="1.1"/><rect x="142.2" y="335.0" width="1.1" height="1.1"/><rect x="141.6" y="332.9" width="1.1" height="1.1"/><rect x="141.2" y="345.7" width="1.1" height="1.1"/><rect x="142.5" y="345.5" width="1.1" height="1.1"/><rect x="142.2" y="343.8" width="1.1" height="1.1"/><rect x="142.2" y="350.5" width="1.1" height="1.1"/><rect x="143.5" y="336.6" width="1.1" height="1.1"/><rect x="142.6" y="337.0" width="1.1" height="1.1"/><rect x="141.4" y="344.8" width="1.1" height="1.1"/><rect x="140.2" y="348.0" width="1.1" height="1.1"/><rect x="141.3" y="354.1" width="1.1" height="1.1"/><rect x="141.1" y="355.9" width="1.1" height="1.1"/><rect x="141.7" y="347.3" width="1.1" height="1.1"/><rect x="141.5" y="348.0" width="1.1" height="1.1"/><rect x="140.8" y="341.2" width="1.1" height="1.1"/><rect x="142.9" y="333.7" width="1.1" height="1.1"/><rect x="142.4" y="339.2" width="1.1" height="1.1"/><rect x="140.7" y="335.5" width="1.1" height="1.1"/><rect x="141.4" y="354.2" width="1.1" height="1.1"/><rect x="142.3" y="347.0" width="1.1" height="1.1"/><rect x="143.2" y="341.1" width="1.1" height="1.1"/><rect x="141.2" y="343.2" width="1.1" height="1.1"/><rect x="142.8" y="336.7" width="1.1" height="1.1"/><rect x="140.6" y="354.8" width="1.1" height="1.1"/><rect x="142.1" y="344.5" width="1.1" height="1.1"/><rect x="143.0" y="343.3" width="1.1" height="1.1"/><rect x="139.9" y="351.7" width="1.1" height="1.1"/><rect x="142.0" y="353.9" width="1.1" height="1.1"/><rect x="141.9" y="336.1" width="1.1" height="1.1"/><rect x="142.9" y="336.6" width="1.1" height="1.1"/><rect x="140.8" y="343.0" width="1.1" height="1.1"/><rect x="142.4" y="335.6" width="1.1" height="1.1"/><rect x="139.7" y="355.5" width="1.1" height="1.1"/><rect x="141.9" y="337.0" width="1.1" height="1.1"/><rect x="143.0" y="339.3" width="1.1" height="1.1"/><rect x="139.9" y="354.5" width="1.1" height="1.1"/><rect x="141.6" y="333.6" width="1.1" height="1.1"/><rect x="142.6" y="342.6" width="1.1" height="1.1"/><rect x="141.5" y="345.4" width="1.1" height="1.1"/><rect x="142.1" y="335.3" width="1.1" height="1.1"/><rect x="141.8" y="335.8" width="1.1" height="1.1"/><rect x="143.9" y="336.7" width="1.1" height="1.1"/><rect x="142.0" y="348.9" width="1.1" height="1.1"/><rect x="142.7" y="335.3" width="1.1" height="1.1"/><rect x="140.9" y="357.3" width="1.1" height="1.1"/><rect x="140.4" y="346.6" width="1.1" height="1.1"/><rect x="141.8" y="335.5" width="1.1" height="1.1"/><rect x="141.7" y="338.2" width="1.1" height="1.1"/><rect x="142.5" y="334.0" width="1.1" height="1.1"/><rect x="141.4" y="336.5" width="1.1" height="1.1"/><rect x="140.6" y="356.6" width="1.1" height="1.1"/><rect x="139.8" y="346.3" width="1.1" height="1.1"/><rect x="142.5" y="352.6" width="1.1" height="1.1"/><rect x="141.9" y="345.1" width="1.1" height="1.1"/><rect x="140.2" y="350.6" width="1.1" height="1.1"/><rect x="140.5" y="338.2" width="1.1" height="1.1"/><rect x="141.2" y="340.3" width="1.1" height="1.1"/><rect x="142.5" y="355.2" width="1.1" height="1.1"/><rect x="140.4" y="346.6" width="1.1" height="1.1"/><rect x="141.1" y="352.3" width="1.1" height="1.1"/><rect x="142.8" y="342.5" width="1.1" height="1.1"/><rect x="142.4" y="333.7" width="1.1" height="1.1"/><rect x="142.6" y="343.4" width="1.1" height="1.1"/><rect x="140.5" y="346.6" width="1.1" height="1.1"/><rect x="141.0" y="340.9" width="1.1" height="1.1"/><rect x="142.5" y="340.1" width="1.1" height="1.1"/><rect x="142.3" y="335.5" width="1.1" height="1.1"/><rect x="141.0" y="350.4" width="1.1" height="1.1"/><rect x="143.9" y="336.3" width="1.1" height="1.1"/><rect x="143.2" y="336.6" width="1.1" height="1.1"/><rect x="141.1" y="347.8" width="1.1" height="1.1"/><rect x="142.7" y="339.6" width="1.1" height="1.1"/><rect x="142.8" y="349.1" width="1.1" height="1.1"/><rect x="140.0" y="354.1" width="1.1" height="1.1"/><rect x="142.5" y="337.2" width="1.1" height="1.1"/><rect x="141.5" y="345.4" width="1.1" height="1.1"/><rect x="142.6" y="349.4" width="1.1" height="1.1"/><rect x="141.9" y="347.3" width="1.1" height="1.1"/><rect x="141.9" y="350.8" width="1.1" height="1.1"/><rect x="142.1" y="341.9" width="1.1" height="1.1"/><rect x="141.1" y="353.2" width="1.1" height="1.1"/><rect x="140.0" y="356.1" width="1.1" height="1.1"/><rect x="140.2" y="352.2" width="1.1" height="1.1"/><rect x="141.1" y="352.8" width="1.1" height="1.1"/><rect x="140.9" y="354.6" width="1.1" height="1.1"/><rect x="142.4" y="347.5" width="1.1" height="1.1"/><rect x="140.9" y="347.5" width="1.1" height="1.1"/><rect x="141.8" y="338.4" width="1.1" height="1.1"/><rect x="142.5" y="343.7" width="1.1" height="1.1"/><rect x="142.0" y="353.5" width="1.1" height="1.1"/><rect x="142.0" y="334.7" width="1.1" height="1.1"/><rect x="141.2" y="354.3" width="1.1" height="1.1"/><rect x="142.0" y="350.3" width="1.1" height="1.1"/><rect x="141.7" y="335.4" width="1.1" height="1.1"/><rect x="141.0" y="350.4" width="1.1" height="1.1"/><rect x="143.1" y="338.6" width="1.1" height="1.1"/><rect x="140.4" y="349.7" width="1.1" height="1.1"/><rect x="142.1" y="335.8" width="1.1" height="1.1"/><rect x="141.5" y="351.6" width="1.1" height="1.1"/><rect x="141.0" y="355.5" width="1.1" height="1.1"/><rect x="142.5" y="338.8" width="1.1" height="1.1"/><rect x="141.3" y="352.5" width="1.1" height="1.1"/><rect x="143.7" y="338.9" width="1.1" height="1.1"/><rect x="140.1" y="356.5" width="1.1" height="1.1"/><rect x="142.1" y="332.5" width="1.1" height="1.1"/><rect x="141.4" y="340.3" width="1.1" height="1.1"/><rect x="143.1" y="350.2" width="1.1" height="1.1"/><rect x="140.7" y="352.4" width="1.1" height="1.1"/><rect x="140.8" y="351.0" width="1.1" height="1.1"/><rect x="142.1" y="345.1" width="1.1" height="1.1"/><rect x="142.1" y="339.0" width="1.1" height="1.1"/><rect x="140.6" y="346.3" width="1.1" height="1.1"/><rect x="142.2" y="342.8" width="1.1" height="1.1"/><rect x="143.4" y="333.4" width="1.1" height="1.1"/><rect x="141.9" y="338.3" width="1.1" height="1.1"/><rect x="140.5" y="352.4" width="1.1" height="1.1"/><rect x="142.1" y="333.5" width="1.1" height="1.1"/><rect x="141.4" y="353.9" width="1.1" height="1.1"/><rect x="142.6" y="334.8" width="1.1" height="1.1"/><rect x="140.7" y="357.7" width="1.1" height="1.1"/><rect x="141.6" y="339.3" width="1.1" height="1.1"/><rect x="143.2" y="344.1" width="1.1" height="1.1"/><rect x="140.7" y="351.2" width="1.1" height="1.1"/><rect x="141.9" y="336.3" width="1.1" height="1.1"/><rect x="141.7" y="351.7" width="1.1" height="1.1"/><rect x="141.8" y="340.8" width="1.1" height="1.1"/><rect x="140.7" y="356.9" width="1.1" height="1.1"/><rect x="143.5" y="339.7" width="1.1" height="1.1"/><rect x="141.9" y="340.5" width="1.1" height="1.1"/><rect x="141.4" y="334.9" width="1.1" height="1.1"/><rect x="141.1" y="338.1" width="1.1" height="1.1"/><rect x="140.5" y="357.5" width="1.1" height="1.1"/><rect x="144.0" y="341.8" width="1.1" height="1.1"/><rect x="141.0" y="346.6" width="1.1" height="1.1"/><rect x="141.8" y="342.1" width="1.1" height="1.1"/><rect x="141.8" y="348.9" width="1.1" height="1.1"/><rect x="141.9" y="334.9" width="1.1" height="1.1"/><rect x="142.8" y="339.0" width="1.1" height="1.1"/><rect x="141.6" y="349.1" width="1.1" height="1.1"/><rect x="140.8" y="342.6" width="1.1" height="1.1"/><rect x="141.1" y="349.9" width="1.1" height="1.1"/><rect x="141.5" y="344.0" width="1.1" height="1.1"/><rect x="142.4" y="338.0" width="1.1" height="1.1"/><rect x="139.5" y="347.6" width="1.1" height="1.1"/><rect x="140.5" y="345.4" width="1.1" height="1.1"/><rect x="141.8" y="350.5" width="1.1" height="1.1"/><rect x="142.1" y="339.2" width="1.1" height="1.1"/><rect x="144.1" y="336.6" width="1.1" height="1.1"/><rect x="140.5" y="353.6" width="1.1" height="1.1"/><rect x="142.1" y="349.3" width="1.1" height="1.1"/><rect x="141.2" y="357.2" width="1.1" height="1.1"/><rect x="140.2" y="353.1" width="1.1" height="1.1"/><rect x="141.1" y="352.9" width="1.1" height="1.1"/><rect x="143.4" y="338.3" width="1.1" height="1.1"/><rect x="140.8" y="347.8" width="1.1" height="1.1"/><rect x="140.8" y="353.5" width="1.1" height="1.1"/><rect x="142.1" y="337.6" width="1.1" height="1.1"/><rect x="140.6" y="347.1" width="1.1" height="1.1"/><rect x="140.9" y="351.4" width="1.1" height="1.1"/><rect x="142.3" y="343.1" width="1.1" height="1.1"/><rect x="141.9" y="340.9" width="1.1" height="1.1"/><rect x="143.6" y="335.7" width="1.1" height="1.1"/><rect x="143.1" y="337.8" width="1.1" height="1.1"/><rect x="143.3" y="345.6" width="1.1" height="1.1"/><rect x="141.7" y="341.5" width="1.1" height="1.1"/><rect x="142.1" y="342.8" width="1.1" height="1.1"/><rect x="141.7" y="349.6" width="1.1" height="1.1"/><rect x="141.3" y="338.4" width="1.1" height="1.1"/><rect x="141.9" y="343.3" width="1.1" height="1.1"/><rect x="142.6" y="339.2" width="1.1" height="1.1"/><rect x="141.1" y="353.7" width="1.1" height="1.1"/><rect x="141.2" y="355.5" width="1.1" height="1.1"/><rect x="142.6" y="355.0" width="1.1" height="1.1"/><rect x="140.7" y="348.1" width="1.1" height="1.1"/><rect x="142.6" y="334.9" width="1.1" height="1.1"/><rect x="141.5" y="350.8" width="1.1" height="1.1"/><rect x="141.8" y="346.0" width="1.1" height="1.1"/><rect x="142.4" y="334.3" width="1.1" height="1.1"/><rect x="142.4" y="355.6" width="1.1" height="1.1"/><rect x="142.5" y="348.5" width="1.1" height="1.1"/><rect x="142.7" y="340.8" width="1.1" height="1.1"/><rect x="141.2" y="349.5" width="1.1" height="1.1"/><rect x="141.2" y="352.4" width="1.1" height="1.1"/><rect x="139.9" y="351.3" width="1.1" height="1.1"/><rect x="142.5" y="353.2" width="1.1" height="1.1"/><rect x="142.5" y="341.2" width="1.1" height="1.1"/><rect x="142.7" y="351.4" width="1.1" height="1.1"/><rect x="140.1" y="354.2" width="1.1" height="1.1"/><rect x="141.2" y="351.4" width="1.1" height="1.1"/><rect x="142.0" y="344.5" width="1.1" height="1.1"/><rect x="140.9" y="353.1" width="1.1" height="1.1"/><rect x="142.6" y="344.9" width="1.1" height="1.1"/><rect x="140.3" y="353.2" width="1.1" height="1.1"/><rect x="140.7" y="344.0" width="1.1" height="1.1"/><rect x="142.5" y="333.8" width="1.1" height="1.1"/><rect x="143.1" y="352.8" width="1.1" height="1.1"/><rect x="140.4" y="355.7" width="1.1" height="1.1"/><rect x="144.1" y="336.6" width="1.1" height="1.1"/><rect x="141.3" y="335.8" width="1.1" height="1.1"/><rect x="141.8" y="339.0" width="1.1" height="1.1"/><rect x="142.6" y="353.3" width="1.1" height="1.1"/><rect x="142.4" y="338.6" width="1.1" height="1.1"/><rect x="140.0" y="355.1" width="1.1" height="1.1"/></g>
<g fill="#444" fill-opacity="1.0"><rect x="134.7" y="361.2" width="0.9" height="0.9"/><rect x="144.8" y="344.0" width="0.9" height="0.9"/><rect x="143.7" y="363.5" width="0.9" height="0.9"/><rect x="144.7" y="349.1" width="0.9" height="0.9"/><rect x="143.9" y="355.2" width="0.9" height="0.9"/><rect x="137.4" y="348.2" width="0.9" height="0.9"/><rect x="137.3" y="351.8" width="0.9" height="0.9"/><rect x="144.1" y="349.4" width="0.9" height="0.9"/><rect x="138.5" y="349.3" width="0.9" height="0.9"/><rect x="142.1" y="349.2" width="0.9" height="0.9"/><rect x="140.3" y="347.3" width="0.9" height="0.9"/><rect x="142.6" y="356.6" width="0.9" height="0.9"/><rect x="139.1" y="354.1" width="0.9" height="0.9"/><rect x="141.5" y="353.3" width="0.9" height="0.9"/><rect x="141.7" y="347.8" width="0.9" height="0.9"/><rect x="142.5" y="354.4" width="0.9" height="0.9"/><rect x="139.0" y="363.0" width="0.9" height="0.9"/><rect x="143.2" y="351.4" width="0.9" height="0.9"/><rect x="141.0" y="353.6" width="0.9" height="0.9"/><rect x="142.3" y="356.9" width="0.9" height="0.9"/><rect x="140.7" y="353.7" width="0.9" height="0.9"/><rect x="142.7" y="347.6" width="0.9" height="0.9"/><rect x="141.5" y="347.6" width="0.9" height="0.9"/><rect x="143.5" y="353.8" width="0.9" height="0.9"/><rect x="141.7" y="351.1" width="0.9" height="0.9"/><rect x="137.6" y="356.0" width="0.9" height="0.9"/><rect x="142.0" y="348.7" width="0.9" height="0.9"/><rect x="139.7" y="354.8" width="0.9" height="0.9"/><rect x="140.0" y="346.5" width="0.9" height="0.9"/><rect x="138.7" y="344.0" width="0.9" height="0.9"/><rect x="139.5" y="350.8" width="0.9" height="0.9"/><rect x="139.5" y="357.6" width="0.9" height="0.9"/><rect x="139.6" y="348.3" width="0.9" height="0.9"/><rect x="139.2" y="355.5" width="0.9" height="0.9"/><rect x="142.4" y="349.1" width="0.9" height="0.9"/><rect x="139.6" y="349.2" width="0.9" height="0.9"/><rect x="138.1" y="345.6" width="0.9" height="0.9"/><rect x="139.0" y="354.6" width="0.9" height="0.9"/><rect x="140.3" y="345.5" width="0.9" height="0.9"/><rect x="141.6" y="349.0" width="0.9" height="0.9"/></g>
</g>
<g fill="#999" fill-opacity="1.0"><rect x="427.3" y="85.3" width="0.9" height="0.9"/><rect x="430.6" y="71.8" width="0.9" height="0.9"/><rect x="424.3" y="72.7" width="0.9" height="0.9"/><rect x="427.2" y="89.0" width="0.9" height="0.9"/><rect x="425.3" y="94.9" width="0.9" height="0.9"/><rect x="430.7" y="83.3" width="0.9" height="0.9"/><rect x="427.7" y="102.1" width="0.9" height="0.9"/><rect x="430.0" y="72.6" width="0.9" height="0.9"/><rect x="430.2" y="92.8" width="0.9" height="0.9"/><rect x="427.4" y="96.2" width="0.9" height="0.9"/><rect x="427.9" y="102.0" width="0.9" height="0.9"/><rect x="426.9" y="99.8" width="0.9" height="0.9"/><rect x="427.4" y="87.4" width="0.9" height="0.9"/><rect x="431.0" y="74.4" width="0.9" height="0.9"/><rect x="425.5" y="88.5" width="0.9" height="0.9"/><rect x="426.6" y="102.8" width="0.9" height="0.9"/><rect x="427.2" y="90.5" width="0.9" height="0.9"/><rect x="430.6" y="85.3" width="0.9" height="0.9"/><rect x="429.2" y="86.0" width="0.9" height="0.9"/><rect x="426.0" y="90.3" width="0.9" height="0.9"/><rect x="428.0" y="80.6" width="0.9" height="0.9"/><rect x="427.4" y="74.4" width="0.9" height="0.9"/><rect x="429.6" y="78.3" width="0.9" height="0.9"/><rect x="430.1" y="76.6" width="0.9" height="0.9"/><rect x="425.3" y="83.7" width="0.9" height="0.9"/><rect x="430.6" y="81.2" width="0.9" height="0.9"/><rect x="430.7" y="82.5" width="0.9" height="0.9"/><rect x="430.4" y="85.1" width="0.9" height="0.9"/><rect x="429.5" y="100.3" width="0.9" height="0.9"/><rect x="423.9" y="74.4" width="0.9" height="0.9"/><rect x="430.8" y="76.6" width="0.9" height="0.9"/><rect x="432.1" y="94.2" width="0.9" height="0.9"/><rect x="426.5" y="87.2" width="0.9" height="0.9"/><rect x="427.4" y="82.5" width="0.9" height="0.9"/><rect x="432.3" y="80.0" width="0.9" height="0.9"/><rect x="428.1" y="82.0" width="0.9" height="0.9"/><rect x="431.7" y="86.4" width="0.9" height="0.9"/><rect x="429.3" y="84.7" width="0.9" height="0.9"/><rect x="432.4" y="70.8" width="0.9" height="0.9"/><rect x="427.3" y="98.4" width="0.9" height="0.9"/><rect x="431.1" y="93.9" width="0.9" height="0.9"/><rect x="428.0" y="84.4" width="0.9" height="0.9"/><rect x="429.8" y="99.9" width="0.9" height="0.9"/><rect x="426.0" y="84.7" width="0.9" height="0.9"/><rect x="428.8" y="98.7" width="0.9" height="0.9"/><rect x="428.0" y="93.6" width="0.9" height="0.9"/><rect x="430.0" y="99.0" width="0.9" height="0.9"/><rect x="428.5" y="93.4" width="0.9" height="0.9"/><rect x="431.2" y="100.8" width="0.9" height="0.9"/><rect x="428.6" y="100.1" width="0.9" height="0.9"/><rect x="427.8" y="80.8" width="0.9" height="0.9"/><rect x="427.7" y="101.1" width="0.9" height="0.9"/><rect x="427.0" y="75.4" width="0.9" height="0.9"/><rect x="427.1" y="89.7" width="0.9" height="0.9"/><rect x="425.3" y="97.6" width="0.9" height="0.9"/><rect x="427.5" y="71.8" width="0.9" height="0.9"/><rect x="426.5" y="95.7" width="0.9" height="0.9"/><rect x="428.9" y="96.3" width="0.9" height="0.9"/><rect x="430.6" y="86.1" width="0.9" height="0.9"/><rect x="428.1" y="76.9" width="0.9" height="0.9"/><rect x="427.0" y="72.2" width="0.9" height="0.9"/><rect x="429.0" y="71.8" width="0.9" height="0.9"/><rect x="427.6" y="88.4" width="0.9" height="0.9"/><rect x="431.5" y="85.1" width="0.9" height="0.9"/><rect x="430.3" y="78.5" width="0.9" height="0.9"/><rect x="430.2" y="78.5" width="0.9" height="0.9"/><rect x="431.9" y="97.4" width="0.9" height="0.9"/><rect x="431.3" y="91.0" width="0.9" height="0.9"/><rect x="424.2" y="73.9" width="0.9" height="0.9"/><rect x="425.3" y="101.0" width="0.9" height="0.9"/><rect x="428.4" y="97.6" width="0.9" height="0.9"/><rect x="431.1" y="88.6" width="0.9" height="0.9"/><rect x="427.4" y="71.7" width="0.9" height="0.9"/><rect x="431.4" y="100.6" width="0.9" height="0.9"/><rect x="426.9" y="102.2" width="0.9" height="0.9"/><rect x="427.4" y="101.9" width="0.9" height="0.9"/><rect x="432.9" y="79.8" width="0.9" height="0.9"/><rect x="432.1" y="72.2" width="0.9" height="0.9"/><rect x="428.0" y="102.9" width="0.9" height="0.9"/><rect x="428.2" y="86.0" width="0.9" height="0.9"/><rect x="424.7" y="98.3" width="0.9" height="0.9"/><rect x="434.5" y="96.8" width="0.9" height="0.9"/><rect x="428.9" y="91.0" width="0.9" height="0.9"/><rect x="431.4" y="96.1" width="0.9" height="0.9"/><rect x="428.0" y="84.8" width="0.9" height="0.9"/><rect x="429.9" y="77.4" width="0.9" height="0.9"/><rect x="430.1" y="71.5" width="0.9" height="0.9"/><rect x="427.9" y="74.7" width="0.9" height="0.9"/><rect x="424.1" y="87.2" width="0.9" height="0.9"/><rect x="428.4" y="79.1" width="0.9" height="0.9"/><rect x="426.3" y="102.3" width="0.9" height="0.9"/><rect x="429.7" y="83.3" width="0.9" height="0.9"/><rect x="427.3" y="76.5" width="0.9" height="0.9"/><rect x="423.2" y="88.3" width="0.9" height="0.9"/><rect x="428.2" y="87.8" width="0.9" height="0.9"/><rect x="430.9" y="93.3" width="0.9" height="0.9"/><rect x="429.3" y="95.6" width="0.9" height="0.9"/><rect x="432.3" y="93.4" width="0.9" height="0.9"/><rect x="426.5" y="100.9" width="0.9" height="0.9"/><rect x="426.1" y="71.2" width="0.9" height="0.9"/><rect x="428.8" y="71.9" width="0.9" height="0.9"/><rect x="427.6" y="86.2" width="0.9" height="0.9"/><rect x="427.7" y="74.1" width="0.9" height="0.9"/><rect x="425.7" y="98.3" width="0.9" height="0.9"/><rect x="428.4" y="96.8" width="0.9" height="0.9"/><rect x="428.0" y="100.3" width="0.9" height="0.9"/><rect x="428.3" y="80.6" width="0.9" height="0.9"/><rect x="432.1" y="74.1" width="0.9" height="0.9"/><rect x="428.0" y="83.1" width="0.9" height="0.9"/><rect x="427.5" y="94.6" width="0.9" height="0.9"/><rect x="429.6" y="95.8" width="0.9" height="0.9"/><rect x="424.6" y="83.4" width="0.9" height="0.9"/><rect x="429.5" y="100.0" width="0.9" height="0.9"/><rect x="428.4" y="84.8" width="0.9" height="0.9"/><rect x="427.7" y="78.3" width="0.9" height="0.9"/><rect x="430.8" y="71.1" width="0.9" height="0.9"/><rect x="431.3" y="94.2" width="0.9" height="0.9"/><rect x="433.0" y="82.3" width="0.9" height="0.9"/><rect x="427.8" y="82.7" width="0.9" height="0.9"/><rect x="422.6" y="96.2" width="0.9" height="0.9"/><rect x="427.6" y="96.8" width="0.9" height="0.9"/><rect x="431.4" y="93.8" width="0.9" height="0.9"/><rect x="434.3" y="80.9" width="0.9" height="0.9"/><rect x="426.7" y="80.1" width="0.9" height="0.9"/><rect x="430.6" y="93.3" width="0.9" height="0.9"/><rect x="426.5" y="90.2" width="0.9" height="0.9"/><rect x="427.3" y="95.4" width="0.9" height="0.9"/><rect x="425.8" y="98.7" width="0.9" height="0.9"/><rect x="430.0" y="72.6" width="0.9" height="0.9"/><rect x="430.0" y="98.0" width="0.9" height="0.9"/></g>
<g fill="#777" fill-opacity="1.0"><rect x="426.8" y="81.1" width="0.9" height="0.9"/><rect x="427.9" y="78.1" width="0.9" height="0.9"/><rect x="428.5" y="88.9" width="0.9" height="0.9"/><rect x="428.3" y="83.3" width="0.9" height="0.9"/><rect x="425.9" y="86.6" width="0.9" height="0.9"/><rect x="428.1" y="71.1" width="0.9" height="0.9"/><rect x="429.8" y="78.6" width="0.9" height="0.9"/><rect x="426.6" y="74.7" width="0.9" height="0.9"/><rect x="428.6" y="88.7" width="0.9" height="0.9"/><rect x="426.8" y="79.0" width="0.9" height="0.9"/><rect x="427.3" y="78.8" width="0.9" height="0.9"/><rect x="432.2" y="70.8" width="0.9" height="0.9"/><rect x="428.9" y="71.8" width="0.9" height="0.9"/><rect x="427.8" y="76.5" width="0.9" height="0.9"/><rect x="427.1" y="84.8" width="0.9" height="0.9"/><rect x="431.1" y="80.4" width="0.9" height="0.9"/><rect x="428.4" y="74.5" width="0.9" height="0.9"/><rect x="429.3" y="80.3" width="0.9" height="0.9"/><rect x="430.1" y="83.2" width="0.9" height="0.9"/><rect x="425.5" y="87.9" width="0.9" height="0.9"/><rect x="426.7" y="89.4" width="0.9" height="0.9"/><rect x="425.2" y="71.3" width="0.9" height="0.9"/><rect x="430.5" y="85.4" width="0.9" height="0.9"/><rect x="429.4" y="77.7" width="0.9" height="0.9"/><rect x="430.6" y="83.9" width="0.9" height="0.9"/><rect x="432.3" y="82.1" width="0.9" height="0.9"/><rect x="427.5" y="86.8" width="0.9" height="0.9"/><rect x="427.3" y="81.8" width="0.9" height="0.9"/><rect x="431.2" y="74.9" width="0.9" height="0.9"/><rect x="425.6" y="81.3" width="0.9" height="0.9"/><rect x="428.0" y="73.5" width="0.9" height="0.9"/><rect x="427.1" y="81.4" width="0.9" height="0.9"/><rect x="430.5" y="72.9" width="0.9" height="0.9"/><rect x="429.6" y="74.3" width="0.9" height="0.9"/><rect x="431.0" y="74.7" width="0.9" height="0.9"/><rect x="433.3" y="86.0" width="0.9" height="0.9"/><rect x="428.4" y="74.3" width="0.9" height="0.9"/><rect x="430.2" y="75.6" width="0.9" height="0.9"/><rect x="430.4" y="72.3" width="0.9" height="0.9"/><rect x="428.2" y="72.3" width="0.9" height="0.9"/><rect x="429.9" y="83.4" width="0.9" height="0.9"/><rect x="425.9" y="78.2" width="0.9" height="0.9"/><rect x="429.9" y="82.2" width="0.9" height="0.9"/><rect x="430.4" y="88.1" width="0.9" height="0.9"/><rect x="428.0" y="72.4" width="0.9" height="0.9"/><rect x="429.3" y="74.0" width="0.9" height="0.9"/><rect x="430.6" y="77.3" width="0.9" height="0.9"/><rect x="429.3" y="74.3" width="0.9" height="0.9"/><rect x="432.5" y="85.8" width="0.9" height="0.9"/><rect x="423.9" y="79.3" width="0.9" height="0.9"/><rect x="426.8" y="82.3" width="0.9" height="0.9"/><rect x="429.0" y="81.7" width="0.9" height="0.9"/><rect x="431.0" y="77.4" width="0.9" height="0.9"/><rect x="428.4" y="89.4" width="0.9" height="0.9"/><rect x="431.8" y="73.8" width="0.9" height="0.9"/><rect x="427.4" y="80.6" width="0.9" height="0.9"/><rect x="432.2" y="76.1" width="0.9" height="0.9"/><rect x="427.9" y="75.2" width="0.9" height="0.9"/><rect x="428.4" y="83.0" width="0.9" height="0.9"/><rect x="433.1" y="82.5" width="0.9" height="0.9"/></g>
<g fill="#bbb" fill-opacity="1.0"><rect x="427.6" y="36.8" width="0.9" height="0.9"/><rect x="438.6" y="51.1" width="0.9" height="0.9"/><rect x="429.4" y="64.6" width="0.9" height="0.9"/><rect x="424.3" y="43.0" width="0.9" height="0.9"/><rect x="432.8" y="65.4" width="0.9" height="0.9"/><rect x="428.6" y="41.0" width="0.9" height="0.9"/><rect x="424.5" y="34.8" width="0.9" height="0.9"/><rect x="430.9" y="47.2" width="0.9" height="0.9"/><rect x="430.2" y="65.5" width="0.9" height="0.9"/><rect x="438.4" y="32.0" width="0.9" height="0.9"/><rect x="434.5" y="47.9" width="0.9" height="0.9"/><rect x="436.2" y="32.1" width="0.9" height="0.9"/><rect x="426.2" y="67.2" width="0.9" height="0.9"/><rect x="433.2" y="48.9" width="0.9" height="0.9"/></g>
<g fill="#999" fill-opacity="1.0"><rect x="430.6" y="183.2" width="0.9" height="0.9"/><rect x="427.6" y="180.6" width="0.9" height="0.9"/><rect x="432.7" y="167.7" width="0.9" height="0.9"/><rect x="427.8" y="170.1" width="0.9" height="0.9"/><rect x="431.3" y="176.2" width="0.9" height="0.9"/><rect x="429.3" y="189.5" width="0.9" height="0.9"/><rect x="437.2" y="189.4" width="0.9" height="0.9"/><rect x="431.1" y="184.9" width="0.9" height="0.9"/><rect x="431.3" y="188.9" width="0.9" height="0.9"/><rect x="429.4" y="179.5" width="0.9" height="0.9"/><rect x="431.6" y="186.1" width="0.9" height="0.9"/><rect x="429.0" y="183.4" width="0.9" height="0.9"/><rect x="434.8" y="167.1" width="0.9" height="0.9"/><rect x="428.7" y="163.6" width="0.9" height="0.9"/><rect x="426.6" y="185.4" width="0.9" height="0.9"/><rect x="432.1" y="189.9" width="0.9" height="0.9"/><rect x="428.9" y="194.6" width="0.9" height="0.9"/><rect x="429.5" y="166.0" width="0.9" height="0.9"/><rect x="429.3" y="194.0" width="0.9" height="0.9"/><rect x="430.6" y="170.1" width="0.9" height="0.9"/><rect x="428.2" y="188.3" width="0.9" height="0.9"/><rect x="427.3" y="164.8" width="0.9" height="0.9"/><rect x="429.8" y="177.5" width="0.9" height="0.9"/><rect x="424.9" y="175.6" width="0.9" height="0.9"/><rect x="428.6" y="168.6" width="0.9" height="0.9"/><rect x="430.2" y="190.6" width="0.9" height="0.9"/><rect x="427.5" y="167.2" width="0.9" height="0.9"/><rect x="427.0" y="193.5" width="0.9" height="0.9"/><rect x="429.1" y="169.5" width="0.9" height="0.9"/><rect x="429.4" y="189.5" width="0.9" height="0.9"/><rect x="432.0" y="174.6" width="0.9" height="0.9"/><rect x="430.7" y="167.2" width="0.9" height="0.9"/><rect x="432.4" y="168.6" width="0.9" height="0.9"/><rect x="428.7" y="171.6" width="0.9" height="0.9"/><rect x="430.9" y="164.6" width="0.9" height="0.9"/><rect x="433.8" y="182.7" width="0.9" height="0.9"/><rect x="429.5" y="185.9" width="0.9" height="0.9"/><rect x="427.9" y="186.0" width="0.9" height="0.9"/><rect x="436.2" y="165.9" width="0.9" height="0.9"/><rect x="433.4" y="192.2" width="0.9" height="0.9"/><rect x="430.6" y="196.7" width="0.9" height="0.9"/><rect x="429.2" y="198.9" width="0.9" height="0.9"/><rect x="426.8" y="168.9" width="0.9" height="0.9"/><rect x="429.1" y="197.9" width="0.9" height="0.9"/><rect x="433.5" y="175.2" width="0.9" height="0.9"/><rect x="429.3" y="197.1" width="0.9" height="0.9"/><rect x="430.7" y="195.6" width="0.9" height="0.9"/><rect x="430.6" y="164.0" width="0.9" height="0.9"/><rect x="429.3" y="170.4" width="0.9" height="0.9"/><rect x="429.8" y="189.3" width="0.9" height="0.9"/><rect x="429.6" y="167.3" width="0.9" height="0.9"/><rect x="430.5" y="184.2" width="0.9" height="0.9"/><rect x="429.5" y="183.4" width="0.9" height="0.9"/><rect x="429.8" y="196.2" width="0.9" height="0.9"/><rect x="430.6" y="177.3" width="0.9" height="0.9"/><rect x="429.1" y="166.3" width="0.9" height="0.9"/><rect x="426.2" y="181.7" width="0.9" height="0.9"/><rect x="427.7" y="186.1" width="0.9" height="0.9"/><rect x="429.5" y="179.4" width="0.9" height="0.9"/><rect x="429.6" y="175.4" width="0.9" height="0.9"/><rect x="423.0" y="185.3" width="0.9" height="0.9"/><rect x="428.1" y="174.4" width="0.9" height="0.9"/><rect x="427.8" y="184.6" width="0.9" height="0.9"/><rect x="429.5" y="165.7" width="0.9" height="0.9"/><rect x="431.0" y="190.9" width="0.9" height="0.9"/><rect x="431.6" y="185.2" width="0.9" height="0.9"/><rect x="427.9" y="180.0" width="0.9" height="0.9"/><rect x="423.5" y="181.9" width="0.9" height="0.9"/><rect x="429.6" y="177.6" width="0.9" height="0.9"/><rect x="429.1" y="171.5" width="0.9" height="0.9"/><rect x="429.0" y="179.7" width="0.9" height="0.9"/><rect x="431.3" y="186.4" width="0.9" height="0.9"/><rect x="429.6" y="169.5" width="0.9" height="0.9"/><rect x="426.3" y="196.1" width="0.9" height="0.9"/><rect x="429.4" y="182.2" width="0.9" height="0.9"/><rect x="431.9" y="167.6" width="0.9" height="0.9"/><rect x="429.0" y="182.7" width="0.9" height="0.9"/><rect x="426.8" y="180.8" width="0.9" height="0.9"/><rect x="426.9" y="185.8" width="0.9" height="0.9"/><rect x="428.3" y="183.7" width="0.9" height="0.9"/><rect x="431.1" y="189.3" width="0.9" height="0.9"/><rect x="427.8" y="195.7" width="0.9" height="0.9"/><rect x="429.0" y="167.9" width="0.9" height="0.9"/><rect x="430.0" y="188.8" width="0.9" height="0.9"/><rect x="422.9" y="172.5" width="0.9" height="0.9"/><rect x="430.1" y="182.6" width="0.9" height="0.9"/><rect x="424.9" y="170.0" width="0.9" height="0.9"/><rect x="426.6" y="175.1" width="0.9" height="0.9"/><rect x="430.1" y="185.9" width="0.9" height="0.9"/><rect x="429.4" y="177.1" width="0.9" height="0.9"/><rect x="429.9" y="194.7" width="0.9" height="0.9"/><rect x="432.1" y="178.3" width="0.9" height="0.9"/><rect x="428.7" y="186.6" width="0.9" height="0.9"/><rect x="429.5" y="191.7" width="0.9" height="0.9"/><rect x="427.5" y="198.1" width="0.9" height="0.9"/><rect x="432.1" y="195.3" width="0.9" height="0.9"/><rect x="429.3" y="174.9" width="0.9" height="0.9"/><rect x="432.8" y="171.3" width="0.9" height="0.9"/><rect x="428.5" y="185.3" width="0.9" height="0.9"/><rect x="433.9" y="168.7" width="0.9" height="0.9"/><rect x="430.9" y="180.1" width="0.9" height="0.9"/><rect x="424.9" y="165.7" width="0.9" height="0.9"/><rect x="435.8" y="176.4" width="0.9" height="0.9"/><rect x="426.6" y="177.6" width="0.9" height="0.9"/><rect x="423.7" y="189.6" width="0.9" height="0.9"/><rect x="431.8" y="199.0" width="0.9" height="0.9"/><rect x="430.1" y="196.6" width="0.9" height="0.9"/><rect x="426.2" y="197.1" width="0.9" height="0.9"/><rect x="427.7" y="198.5" width="0.9" height="0.9"/><rect x="434.0" y="182.3" width="0.9" height="0.9"/><rect x="429.4" y="194.2" width="0.9" height="0.9"/><rect x="428.4" y="182.6" width="0.9" height="0.9"/><rect x="428.5" y="189.5" width="0.9" height="0.9"/><rect x="427.4" y="178.5" width="0.9" height="0.9"/><rect x="430.2" y="167.3" width="0.9" height="0.9"/><rect x="428.9" y="170.9" width="0.9" height="0.9"/><rect x="430.1" y="187.5" width="0.9" height="0.9"/><rect x="428.2" y="192.0" width="0.9" height="0.9"/><rect x="428.9" y="179.8" width="0.9" height="0.9"/><rect x="428.3" y="165.3" width="0.9" height="0.9"/><rect x="429.9" y="192.6" width="0.9" height="0.9"/><rect x="431.4" y="192.0" width="0.9" height="0.9"/><rect x="427.5" y="172.2" width="0.9" height="0.9"/><rect x="428.6" y="174.0" width="0.9" height="0.9"/><rect x="430.6" y="173.9" width="0.9" height="0.9"/><rect x="430.0" y="167.6" width="0.9" height="0.9"/><rect x="430.5" y="191.2" width="0.9" height="0.9"/><rect x="424.1" y="182.2" width="0.9" height="0.9"/><rect x="429.1" y="168.7" width="0.9" height="0.9"/><rect x="432.5" y="171.2" width="0.9" height="0.9"/></g>
<g fill="#777" fill-opacity="1.0"><rect x="430.1" y="165.9" width="0.9" height="0.9"/><rect x="426.5" y="174.9" width="0.9" height="0.9"/><rect x="430.5" y="173.7" width="0.9" height="0.9"/><rect x="429.6" y="172.0" width="0.9" height="0.9"/><rect x="429.9" y="171.3" width="0.9" height="0.9"/><rect x="428.7" y="172.0" width="0.9" height="0.9"/><rect x="431.2" y="173.4" width="0.9" height="0.9"/><rect x="429.3" y="177.6" width="0.9" height="0.9"/><rect x="429.0" y="174.5" width="0.9" height="0.9"/><rect x="428.0" y="166.8" width="0.9" height="0.9"/><rect x="429.7" y="168.4" width="0.9" height="0.9"/><rect x="429.9" y="163.8" width="0.9" height="0.9"/><rect x="431.8" y="166.4" width="0.9" height="0.9"/><rect x="428.0" y="173.9" width="0.9" height="0.9"/><rect x="429.1" y="165.4" width="0.9" height="0.9"/><rect x="427.8" y="171.2" width="0.9" height="0.9"/><rect x="429.9" y="178.1" width="0.9" height="0.9"/><rect x="429.9" y="175.2" width="0.9" height="0.9"/><rect x="430.7" y="164.8" width="0.9" height="0.9"/><rect x="429.0" y="174.5" width="0.9" height="0.9"/><rect x="430.3" y="170.1" width="0.9" height="0.9"/><rect x="430.4" y="176.1" width="0.9" height="0.9"/><rect x="430.6" y="178.7" width="0.9" height="0.9"/><rect x="431.3" y="174.8" width="0.9" height="0.9"/><rect x="429.4" y="174.2" width="0.9" height="0.9"/><rect x="429.0" y="168.4" width="0.9" height="0.9"/><rect x="429.9" y="181.0" width="0.9" height="0.9"/><rect x="430.3" y="169.1" width="0.9" height="0.9"/><rect x="428.2" y="172.8" width="0.9" height="0.9"/><rect x="427.7" y="176.6" width="0.9" height="0.9"/><rect x="431.3" y="165.9" width="0.9" height="0.9"/><rect x="431.3" y="174.2" width="0.9" height="0.9"/><rect x="431.2" y="178.3" width="0.9" height="0.9"/><rect x="429.7" y="178.3" width="0.9" height="0.9"/><rect x="430.3" y="171.8" width="0.9" height="0.9"/><rect x="431.2" y="163.7" width="0.9" height="0.9"/><rect x="430.2" y="172.2" width="0.9" height="0.9"/><rect x="429.0" y="169.9" width="0.9" height="0.9"/><rect x="433.7" y="180.8" width="0.9" height="0.9"/><rect x="434.4" y="174.0" width="0.9" height="0.9"/><rect x="430.3" y="163.7" width="0.9" height="0.9"/><rect x="430.2" y="170.1" width="0.9" height="0.9"/><rect x="428.6" y="181.1" width="0.9" height="0.9"/><rect x="429.3" y="165.0" width="0.9" height="0.9"/><rect x="428.3" y="164.0" width="0.9" height="0.9"/><rect x="430.3" y="178.7" width="0.9" height="0.9"/><rect x="430.3" y="172.7" width="0.9" height="0.9"/><rect x="432.6" y="171.3" width="0.9" height="0.9"/><rect x="431.2" y="180.7" width="0.9" height="0.9"/><rect x="429.1" y="163.9" width="0.9" height="0.9"/><rect x="430.3" y="179.4" width="0.9" height="0.9"/><rect x="431.7" y="171.0" width="0.9" height="0.9"/><rect x="431.5" y="170.2" width="0.9" height="0.9"/><rect x="432.4" y="176.6" width="0.9" height="0.9"/><rect x="428.2" y="171.6" width="0.9" height="0.9"/><rect x="429.0" y="167.6" width="0.9" height="0.9"/><rect x="431.1" y="173.1" width="0.9" height="0.9"/><rect x="431.5" y="170.1" width="0.9" height="0.9"/><rect x="430.2" y="177.3" width="0.9" height="0.9"/><rect x="430.8" y="175.4" width="0.9" height="0.9"/></g>
<g fill="#bbb" fill-opacity="1.0"><rect x="438.3" y="119.7" width="0.9" height="0.9"/><rect x="437.3" y="143.9" width="0.9" height="0.9"/><rect x="442.1" y="147.8" width="0.9" height="0.9"/><rect x="440.3" y="145.2" width="0.9" height="0.9"/><rect x="441.8" y="133.6" width="0.9" height="0.9"/><rect x="426.4" y="153.2" width="0.9" height="0.9"/><rect x="445.0" y="140.2" width="0.9" height="0.9"/><rect x="426.4" y="140.6" width="0.9" height="0.9"/><rect x="447.7" y="122.7" width="0.9" height="0.9"/><rect x="448.7" y="156.1" width="0.9" height="0.9"/><rect x="430.7" y="154.2" width="0.9" height="0.9"/><rect x="428.7" y="154.5" width="0.9" height="0.9"/><rect x="429.3" y="137.6" width="0.9" height="0.9"/><rect x="445.6" y="136.3" width="0.9" height="0.9"/><rect x="449.1" y="136.5" width="0.9" height="0.9"/><rect x="430.6" y="135.2" width="0.9" height="0.9"/><rect x="425.7" y="154.0" width="0.9" height="0.9"/><rect x="426.3" y="149.8" width="0.9" height="0.9"/><rect x="440.0" y="153.3" width="0.9" height="0.9"/><rect x="433.7" y="121.0" width="0.9" height="0.9"/><rect x="430.3" y="126.0" width="0.9" height="0.9"/><rect x="430.8" y="119.6" width="0.9" height="0.9"/><rect x="429.9" y="144.8" width="0.9" height="0.9"/><rect x="430.8" y="148.8" width="0.9" height="0.9"/></g>
</svg>
</body></html>
